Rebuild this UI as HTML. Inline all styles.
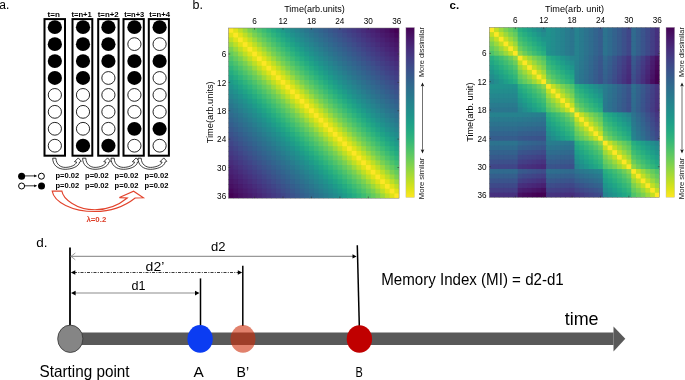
<!DOCTYPE html>
<html><head><meta charset="utf-8"><title>Figure</title>
<style>html,body{margin:0;padding:0;background:#fff;overflow:hidden;} svg{display:block;font-family:"Liberation Sans",sans-serif;will-change:transform;}</style>
</head><body>
<svg width="685" height="380" viewBox="0 0 685 380" font-family="Liberation Sans, sans-serif">
<text x="-0.8" y="9.2" font-size="12" fill="#000" >a.</text>
<rect x="44.50" y="19.1" width="20.50" height="136.6" fill="#fff" stroke="#000" stroke-width="2"/>
<ellipse cx="54.85" cy="27.20" rx="7.1" ry="6.9" fill="#000"/>
<ellipse cx="54.85" cy="44.13" rx="7.1" ry="6.9" fill="#000"/>
<ellipse cx="54.85" cy="61.06" rx="7.1" ry="6.9" fill="#000"/>
<ellipse cx="54.85" cy="77.99" rx="7.1" ry="6.9" fill="#000"/>
<ellipse cx="54.85" cy="94.92" rx="6.6" ry="6.4" fill="#fff" stroke="#000" stroke-width="0.85"/>
<ellipse cx="54.85" cy="111.85" rx="6.6" ry="6.4" fill="#fff" stroke="#000" stroke-width="0.85"/>
<ellipse cx="54.85" cy="128.78" rx="6.6" ry="6.4" fill="#fff" stroke="#000" stroke-width="0.85"/>
<ellipse cx="54.85" cy="145.71" rx="6.6" ry="6.4" fill="#fff" stroke="#000" stroke-width="0.85"/>
<text x="47.5" y="17.0" font-size="7" font-weight="bold" textLength="12.3" lengthAdjust="spacingAndGlyphs" fill="#000" >t=n</text>
<rect x="72.50" y="19.1" width="19.80" height="136.6" fill="#fff" stroke="#000" stroke-width="2"/>
<ellipse cx="83.00" cy="27.20" rx="7.1" ry="6.9" fill="#000"/>
<ellipse cx="83.00" cy="44.13" rx="7.1" ry="6.9" fill="#000"/>
<ellipse cx="83.00" cy="61.06" rx="7.1" ry="6.9" fill="#000"/>
<ellipse cx="83.00" cy="77.99" rx="7.1" ry="6.9" fill="#000"/>
<ellipse cx="83.00" cy="94.92" rx="6.6" ry="6.4" fill="#fff" stroke="#000" stroke-width="0.85"/>
<ellipse cx="83.00" cy="111.85" rx="6.6" ry="6.4" fill="#fff" stroke="#000" stroke-width="0.85"/>
<ellipse cx="83.00" cy="128.78" rx="6.6" ry="6.4" fill="#fff" stroke="#000" stroke-width="0.85"/>
<ellipse cx="83.00" cy="145.71" rx="7.1" ry="6.9" fill="#000"/>
<text x="71.4" y="17.0" font-size="7" font-weight="bold" textLength="20.5" lengthAdjust="spacingAndGlyphs" fill="#000" >t=n+1</text>
<rect x="98.20" y="19.1" width="20.40" height="136.6" fill="#fff" stroke="#000" stroke-width="2"/>
<ellipse cx="108.40" cy="27.20" rx="7.1" ry="6.9" fill="#000"/>
<ellipse cx="108.40" cy="44.13" rx="7.1" ry="6.9" fill="#000"/>
<ellipse cx="108.40" cy="61.06" rx="7.1" ry="6.9" fill="#000"/>
<ellipse cx="108.40" cy="77.99" rx="6.6" ry="6.4" fill="#fff" stroke="#000" stroke-width="0.85"/>
<ellipse cx="108.40" cy="94.92" rx="6.6" ry="6.4" fill="#fff" stroke="#000" stroke-width="0.85"/>
<ellipse cx="108.40" cy="111.85" rx="6.6" ry="6.4" fill="#fff" stroke="#000" stroke-width="0.85"/>
<ellipse cx="108.40" cy="128.78" rx="6.6" ry="6.4" fill="#fff" stroke="#000" stroke-width="0.85"/>
<ellipse cx="108.40" cy="145.71" rx="7.1" ry="6.9" fill="#000"/>
<text x="97.7" y="17.0" font-size="7" font-weight="bold" textLength="21.0" lengthAdjust="spacingAndGlyphs" fill="#000" >t=n+2</text>
<rect x="123.50" y="19.1" width="20.30" height="136.6" fill="#fff" stroke="#000" stroke-width="2"/>
<ellipse cx="134.40" cy="27.20" rx="7.1" ry="6.9" fill="#000"/>
<ellipse cx="134.40" cy="44.13" rx="6.6" ry="6.4" fill="#fff" stroke="#000" stroke-width="0.85"/>
<ellipse cx="134.40" cy="61.06" rx="7.1" ry="6.9" fill="#000"/>
<ellipse cx="134.40" cy="77.99" rx="7.1" ry="6.9" fill="#000"/>
<ellipse cx="134.40" cy="94.92" rx="6.6" ry="6.4" fill="#fff" stroke="#000" stroke-width="0.85"/>
<ellipse cx="134.40" cy="111.85" rx="6.6" ry="6.4" fill="#fff" stroke="#000" stroke-width="0.85"/>
<ellipse cx="134.40" cy="128.78" rx="7.1" ry="6.9" fill="#000"/>
<ellipse cx="134.40" cy="145.71" rx="6.6" ry="6.4" fill="#fff" stroke="#000" stroke-width="0.85"/>
<text x="124.2" y="17.0" font-size="7" font-weight="bold" textLength="20.1" lengthAdjust="spacingAndGlyphs" fill="#000" >t=n+3</text>
<rect x="148.80" y="19.1" width="20.10" height="136.6" fill="#fff" stroke="#000" stroke-width="2"/>
<ellipse cx="159.60" cy="27.20" rx="7.1" ry="6.9" fill="#000"/>
<ellipse cx="159.60" cy="44.13" rx="6.6" ry="6.4" fill="#fff" stroke="#000" stroke-width="0.85"/>
<ellipse cx="159.60" cy="61.06" rx="7.1" ry="6.9" fill="#000"/>
<ellipse cx="159.60" cy="77.99" rx="6.6" ry="6.4" fill="#fff" stroke="#000" stroke-width="0.85"/>
<ellipse cx="159.60" cy="94.92" rx="6.6" ry="6.4" fill="#fff" stroke="#000" stroke-width="0.85"/>
<ellipse cx="159.60" cy="111.85" rx="6.6" ry="6.4" fill="#fff" stroke="#000" stroke-width="0.85"/>
<ellipse cx="159.60" cy="128.78" rx="7.1" ry="6.9" fill="#000"/>
<ellipse cx="159.60" cy="145.71" rx="6.6" ry="6.4" fill="#fff" stroke="#000" stroke-width="0.85"/>
<text x="149.3" y="17.0" font-size="7" font-weight="bold" textLength="20.7" lengthAdjust="spacingAndGlyphs" fill="#000" >t=n+4</text>
<path d="M52.70,158.2 L55.90,158.2 C56.10,164.5 60.70,167.4 65.20,167.4 C69.70,167.4 75.80,165.5 76.60,162.0 L74.50,161.7 L78.30,157.9 L81.30,161.3 L79.60,162.0 C78.90,167 70.70,169.3 65.20,169.3 C57.70,169.3 52.70,165 52.70,158.2 Z" fill="#fff" stroke="#000" stroke-width="0.75" stroke-linejoin="miter"/>
<path d="M82.60,158.2 L85.80,158.2 C86.00,164.5 90.60,167.4 95.10,167.4 C99.60,167.4 105.10,165.5 105.90,162.0 L103.80,161.7 L107.60,157.9 L110.60,161.3 L108.90,162.0 C108.20,167 100.60,169.3 95.10,169.3 C87.60,169.3 82.60,165 82.60,158.2 Z" fill="#fff" stroke="#000" stroke-width="0.75" stroke-linejoin="miter"/>
<path d="M111.00,158.2 L114.20,158.2 C114.40,164.5 119.00,167.4 123.50,167.4 C128.00,167.4 133.70,165.5 134.50,162.0 L132.40,161.7 L136.20,157.9 L139.20,161.3 L137.50,162.0 C136.80,167 129.00,169.3 123.50,169.3 C116.00,169.3 111.00,165 111.00,158.2 Z" fill="#fff" stroke="#000" stroke-width="0.75" stroke-linejoin="miter"/>
<path d="M138.00,158.2 L141.20,158.2 C141.40,164.5 146.00,167.4 150.50,167.4 C155.00,167.4 161.30,165.5 162.10,162.0 L160.00,161.7 L163.80,157.9 L166.80,161.3 L165.10,162.0 C164.40,167 156.00,169.3 150.50,169.3 C143.00,169.3 138.00,165 138.00,158.2 Z" fill="#fff" stroke="#000" stroke-width="0.75" stroke-linejoin="miter"/>
<text x="55.4" y="177.8" font-size="6.8" font-weight="bold" textLength="23.8" lengthAdjust="spacingAndGlyphs" fill="#000" >p=0.02</text>
<text x="55.4" y="188.3" font-size="6.8" font-weight="bold" textLength="23.8" lengthAdjust="spacingAndGlyphs" fill="#000" >p=0.02</text>
<text x="85.0" y="177.8" font-size="6.8" font-weight="bold" textLength="23.8" lengthAdjust="spacingAndGlyphs" fill="#000" >p=0.02</text>
<text x="85.0" y="188.3" font-size="6.8" font-weight="bold" textLength="23.8" lengthAdjust="spacingAndGlyphs" fill="#000" >p=0.02</text>
<text x="114.6" y="177.8" font-size="6.8" font-weight="bold" textLength="23.8" lengthAdjust="spacingAndGlyphs" fill="#000" >p=0.02</text>
<text x="114.6" y="188.3" font-size="6.8" font-weight="bold" textLength="23.8" lengthAdjust="spacingAndGlyphs" fill="#000" >p=0.02</text>
<text x="144.6" y="177.8" font-size="6.8" font-weight="bold" textLength="23.8" lengthAdjust="spacingAndGlyphs" fill="#000" >p=0.02</text>
<text x="144.6" y="188.3" font-size="6.8" font-weight="bold" textLength="23.8" lengthAdjust="spacingAndGlyphs" fill="#000" >p=0.02</text>
<circle cx="21.6" cy="176.2" r="3.5" fill="#000"/>
<line x1="25" y1="175.9" x2="35" y2="175.9" stroke="#333" stroke-width="1"/>
<path d="M34.2,174.5 L37.2,175.9 L34.2,177.3 Z" fill="#000"/>
<circle cx="41.4" cy="176.2" r="3.0" fill="#fff" stroke="#000" stroke-width="1"/>
<circle cx="21.6" cy="186" r="3.0" fill="#fff" stroke="#000" stroke-width="1"/>
<line x1="25" y1="185.8" x2="35" y2="185.8" stroke="#333" stroke-width="1"/>
<path d="M34.2,184.4 L37.2,185.8 L34.2,187.2 Z" fill="#000"/>
<circle cx="41.5" cy="186" r="3.5" fill="#000"/>
<path d="M52.2,191.1 L61.9,191.1 C63,198.5 76,209.8 95,209.8 C108,209.8 120,204 127.3,198 L119.4,197.6 L133.6,191.2 L143.4,197.8 L135.2,198 C125,206 110,211.5 95,211.5 C72,211.5 54,202 52.2,191.1 Z" fill="#fff" stroke="#e2432c" stroke-width="1.1"/>
<text x="86.4" y="221.9" font-size="8" font-weight="bold" textLength="19.9" lengthAdjust="spacingAndGlyphs" fill="#dc3c26" >λ=0.2</text>
<text x="192.6" y="9.3" font-size="12.5" fill="#000" >b.</text>
<rect x="228.50" y="28.00" width="5.54" height="5.53" fill="#fde725"/>
<rect x="233.24" y="28.00" width="5.54" height="5.53" fill="#dfe318"/>
<rect x="237.98" y="28.00" width="5.54" height="5.53" fill="#bddf26"/>
<rect x="242.72" y="28.00" width="5.54" height="5.53" fill="#9bd93c"/>
<rect x="247.46" y="28.00" width="5.54" height="5.53" fill="#7ad151"/>
<rect x="252.19" y="28.00" width="5.54" height="5.53" fill="#63cb5f"/>
<rect x="256.93" y="28.00" width="5.54" height="5.53" fill="#4ec36b"/>
<rect x="261.67" y="28.00" width="5.54" height="5.53" fill="#3dbc74"/>
<rect x="266.41" y="28.00" width="5.54" height="5.53" fill="#2fb47c"/>
<rect x="271.15" y="28.00" width="5.54" height="5.53" fill="#25ac82"/>
<rect x="275.89" y="28.00" width="5.54" height="5.53" fill="#20a386"/>
<rect x="280.63" y="28.00" width="5.54" height="5.53" fill="#1e9b8a"/>
<rect x="285.37" y="28.00" width="5.54" height="5.53" fill="#20928c"/>
<rect x="290.11" y="28.00" width="5.54" height="5.53" fill="#228b8d"/>
<rect x="294.84" y="28.00" width="5.54" height="5.53" fill="#25848e"/>
<rect x="299.58" y="28.00" width="5.54" height="5.53" fill="#287d8e"/>
<rect x="304.32" y="28.00" width="5.54" height="5.53" fill="#2a768e"/>
<rect x="309.06" y="28.00" width="5.54" height="5.53" fill="#2d708e"/>
<rect x="313.80" y="28.00" width="5.54" height="5.53" fill="#306a8e"/>
<rect x="318.54" y="28.00" width="5.54" height="5.53" fill="#32648e"/>
<rect x="323.28" y="28.00" width="5.54" height="5.53" fill="#355e8d"/>
<rect x="328.02" y="28.00" width="5.54" height="5.53" fill="#38588c"/>
<rect x="332.76" y="28.00" width="5.54" height="5.53" fill="#3b528b"/>
<rect x="337.49" y="28.00" width="5.54" height="5.53" fill="#3e4c8a"/>
<rect x="342.23" y="28.00" width="5.54" height="5.53" fill="#404588"/>
<rect x="346.97" y="28.00" width="5.54" height="5.53" fill="#423f85"/>
<rect x="351.71" y="28.00" width="5.54" height="5.53" fill="#443983"/>
<rect x="356.45" y="28.00" width="5.54" height="5.53" fill="#46337f"/>
<rect x="361.19" y="28.00" width="5.54" height="5.53" fill="#472d7b"/>
<rect x="365.93" y="28.00" width="5.54" height="5.53" fill="#482677"/>
<rect x="370.67" y="28.00" width="5.54" height="5.53" fill="#482173"/>
<rect x="375.41" y="28.00" width="5.54" height="5.53" fill="#481b6d"/>
<rect x="380.14" y="28.00" width="5.54" height="5.53" fill="#481668"/>
<rect x="384.88" y="28.00" width="5.54" height="5.53" fill="#471063"/>
<rect x="389.62" y="28.00" width="5.54" height="5.53" fill="#46085c"/>
<rect x="394.36" y="28.00" width="4.74" height="5.53" fill="#440154"/>
<rect x="228.50" y="32.73" width="5.54" height="5.53" fill="#dfe318"/>
<rect x="233.24" y="32.73" width="5.54" height="5.53" fill="#fde725"/>
<rect x="237.98" y="32.73" width="5.54" height="5.53" fill="#dfe318"/>
<rect x="242.72" y="32.73" width="5.54" height="5.53" fill="#bddf26"/>
<rect x="247.46" y="32.73" width="5.54" height="5.53" fill="#9bd93c"/>
<rect x="252.19" y="32.73" width="5.54" height="5.53" fill="#7ad151"/>
<rect x="256.93" y="32.73" width="5.54" height="5.53" fill="#63cb5f"/>
<rect x="261.67" y="32.73" width="5.54" height="5.53" fill="#4ec36b"/>
<rect x="266.41" y="32.73" width="5.54" height="5.53" fill="#3dbc74"/>
<rect x="271.15" y="32.73" width="5.54" height="5.53" fill="#2fb47c"/>
<rect x="275.89" y="32.73" width="5.54" height="5.53" fill="#25ac82"/>
<rect x="280.63" y="32.73" width="5.54" height="5.53" fill="#20a386"/>
<rect x="285.37" y="32.73" width="5.54" height="5.53" fill="#1e9b8a"/>
<rect x="290.11" y="32.73" width="5.54" height="5.53" fill="#20928c"/>
<rect x="294.84" y="32.73" width="5.54" height="5.53" fill="#228b8d"/>
<rect x="299.58" y="32.73" width="5.54" height="5.53" fill="#25848e"/>
<rect x="304.32" y="32.73" width="5.54" height="5.53" fill="#287d8e"/>
<rect x="309.06" y="32.73" width="5.54" height="5.53" fill="#2a768e"/>
<rect x="313.80" y="32.73" width="5.54" height="5.53" fill="#2d708e"/>
<rect x="318.54" y="32.73" width="5.54" height="5.53" fill="#306a8e"/>
<rect x="323.28" y="32.73" width="5.54" height="5.53" fill="#32648e"/>
<rect x="328.02" y="32.73" width="5.54" height="5.53" fill="#355e8d"/>
<rect x="332.76" y="32.73" width="5.54" height="5.53" fill="#38588c"/>
<rect x="337.49" y="32.73" width="5.54" height="5.53" fill="#3b528b"/>
<rect x="342.23" y="32.73" width="5.54" height="5.53" fill="#3e4c8a"/>
<rect x="346.97" y="32.73" width="5.54" height="5.53" fill="#404588"/>
<rect x="351.71" y="32.73" width="5.54" height="5.53" fill="#423f85"/>
<rect x="356.45" y="32.73" width="5.54" height="5.53" fill="#443983"/>
<rect x="361.19" y="32.73" width="5.54" height="5.53" fill="#46337f"/>
<rect x="365.93" y="32.73" width="5.54" height="5.53" fill="#472d7b"/>
<rect x="370.67" y="32.73" width="5.54" height="5.53" fill="#482677"/>
<rect x="375.41" y="32.73" width="5.54" height="5.53" fill="#482173"/>
<rect x="380.14" y="32.73" width="5.54" height="5.53" fill="#481b6d"/>
<rect x="384.88" y="32.73" width="5.54" height="5.53" fill="#481668"/>
<rect x="389.62" y="32.73" width="5.54" height="5.53" fill="#471063"/>
<rect x="394.36" y="32.73" width="4.74" height="5.53" fill="#46085c"/>
<rect x="228.50" y="37.46" width="5.54" height="5.53" fill="#bddf26"/>
<rect x="233.24" y="37.46" width="5.54" height="5.53" fill="#dfe318"/>
<rect x="237.98" y="37.46" width="5.54" height="5.53" fill="#fde725"/>
<rect x="242.72" y="37.46" width="5.54" height="5.53" fill="#dfe318"/>
<rect x="247.46" y="37.46" width="5.54" height="5.53" fill="#bddf26"/>
<rect x="252.19" y="37.46" width="5.54" height="5.53" fill="#9bd93c"/>
<rect x="256.93" y="37.46" width="5.54" height="5.53" fill="#7ad151"/>
<rect x="261.67" y="37.46" width="5.54" height="5.53" fill="#63cb5f"/>
<rect x="266.41" y="37.46" width="5.54" height="5.53" fill="#4ec36b"/>
<rect x="271.15" y="37.46" width="5.54" height="5.53" fill="#3dbc74"/>
<rect x="275.89" y="37.46" width="5.54" height="5.53" fill="#2fb47c"/>
<rect x="280.63" y="37.46" width="5.54" height="5.53" fill="#25ac82"/>
<rect x="285.37" y="37.46" width="5.54" height="5.53" fill="#20a386"/>
<rect x="290.11" y="37.46" width="5.54" height="5.53" fill="#1e9b8a"/>
<rect x="294.84" y="37.46" width="5.54" height="5.53" fill="#20928c"/>
<rect x="299.58" y="37.46" width="5.54" height="5.53" fill="#228b8d"/>
<rect x="304.32" y="37.46" width="5.54" height="5.53" fill="#25848e"/>
<rect x="309.06" y="37.46" width="5.54" height="5.53" fill="#287d8e"/>
<rect x="313.80" y="37.46" width="5.54" height="5.53" fill="#2a768e"/>
<rect x="318.54" y="37.46" width="5.54" height="5.53" fill="#2d708e"/>
<rect x="323.28" y="37.46" width="5.54" height="5.53" fill="#306a8e"/>
<rect x="328.02" y="37.46" width="5.54" height="5.53" fill="#32648e"/>
<rect x="332.76" y="37.46" width="5.54" height="5.53" fill="#355e8d"/>
<rect x="337.49" y="37.46" width="5.54" height="5.53" fill="#38588c"/>
<rect x="342.23" y="37.46" width="5.54" height="5.53" fill="#3b528b"/>
<rect x="346.97" y="37.46" width="5.54" height="5.53" fill="#3e4c8a"/>
<rect x="351.71" y="37.46" width="5.54" height="5.53" fill="#404588"/>
<rect x="356.45" y="37.46" width="5.54" height="5.53" fill="#423f85"/>
<rect x="361.19" y="37.46" width="5.54" height="5.53" fill="#443983"/>
<rect x="365.93" y="37.46" width="5.54" height="5.53" fill="#46337f"/>
<rect x="370.67" y="37.46" width="5.54" height="5.53" fill="#472d7b"/>
<rect x="375.41" y="37.46" width="5.54" height="5.53" fill="#482677"/>
<rect x="380.14" y="37.46" width="5.54" height="5.53" fill="#482173"/>
<rect x="384.88" y="37.46" width="5.54" height="5.53" fill="#481b6d"/>
<rect x="389.62" y="37.46" width="5.54" height="5.53" fill="#481668"/>
<rect x="394.36" y="37.46" width="4.74" height="5.53" fill="#471063"/>
<rect x="228.50" y="42.18" width="5.54" height="5.53" fill="#9bd93c"/>
<rect x="233.24" y="42.18" width="5.54" height="5.53" fill="#bddf26"/>
<rect x="237.98" y="42.18" width="5.54" height="5.53" fill="#dfe318"/>
<rect x="242.72" y="42.18" width="5.54" height="5.53" fill="#fde725"/>
<rect x="247.46" y="42.18" width="5.54" height="5.53" fill="#dfe318"/>
<rect x="252.19" y="42.18" width="5.54" height="5.53" fill="#bddf26"/>
<rect x="256.93" y="42.18" width="5.54" height="5.53" fill="#9bd93c"/>
<rect x="261.67" y="42.18" width="5.54" height="5.53" fill="#7ad151"/>
<rect x="266.41" y="42.18" width="5.54" height="5.53" fill="#63cb5f"/>
<rect x="271.15" y="42.18" width="5.54" height="5.53" fill="#4ec36b"/>
<rect x="275.89" y="42.18" width="5.54" height="5.53" fill="#3dbc74"/>
<rect x="280.63" y="42.18" width="5.54" height="5.53" fill="#2fb47c"/>
<rect x="285.37" y="42.18" width="5.54" height="5.53" fill="#25ac82"/>
<rect x="290.11" y="42.18" width="5.54" height="5.53" fill="#20a386"/>
<rect x="294.84" y="42.18" width="5.54" height="5.53" fill="#1e9b8a"/>
<rect x="299.58" y="42.18" width="5.54" height="5.53" fill="#20928c"/>
<rect x="304.32" y="42.18" width="5.54" height="5.53" fill="#228b8d"/>
<rect x="309.06" y="42.18" width="5.54" height="5.53" fill="#25848e"/>
<rect x="313.80" y="42.18" width="5.54" height="5.53" fill="#287d8e"/>
<rect x="318.54" y="42.18" width="5.54" height="5.53" fill="#2a768e"/>
<rect x="323.28" y="42.18" width="5.54" height="5.53" fill="#2d708e"/>
<rect x="328.02" y="42.18" width="5.54" height="5.53" fill="#306a8e"/>
<rect x="332.76" y="42.18" width="5.54" height="5.53" fill="#32648e"/>
<rect x="337.49" y="42.18" width="5.54" height="5.53" fill="#355e8d"/>
<rect x="342.23" y="42.18" width="5.54" height="5.53" fill="#38588c"/>
<rect x="346.97" y="42.18" width="5.54" height="5.53" fill="#3b528b"/>
<rect x="351.71" y="42.18" width="5.54" height="5.53" fill="#3e4c8a"/>
<rect x="356.45" y="42.18" width="5.54" height="5.53" fill="#404588"/>
<rect x="361.19" y="42.18" width="5.54" height="5.53" fill="#423f85"/>
<rect x="365.93" y="42.18" width="5.54" height="5.53" fill="#443983"/>
<rect x="370.67" y="42.18" width="5.54" height="5.53" fill="#46337f"/>
<rect x="375.41" y="42.18" width="5.54" height="5.53" fill="#472d7b"/>
<rect x="380.14" y="42.18" width="5.54" height="5.53" fill="#482677"/>
<rect x="384.88" y="42.18" width="5.54" height="5.53" fill="#482173"/>
<rect x="389.62" y="42.18" width="5.54" height="5.53" fill="#481b6d"/>
<rect x="394.36" y="42.18" width="4.74" height="5.53" fill="#481668"/>
<rect x="228.50" y="46.91" width="5.54" height="5.53" fill="#7ad151"/>
<rect x="233.24" y="46.91" width="5.54" height="5.53" fill="#9bd93c"/>
<rect x="237.98" y="46.91" width="5.54" height="5.53" fill="#bddf26"/>
<rect x="242.72" y="46.91" width="5.54" height="5.53" fill="#dfe318"/>
<rect x="247.46" y="46.91" width="5.54" height="5.53" fill="#fde725"/>
<rect x="252.19" y="46.91" width="5.54" height="5.53" fill="#dfe318"/>
<rect x="256.93" y="46.91" width="5.54" height="5.53" fill="#bddf26"/>
<rect x="261.67" y="46.91" width="5.54" height="5.53" fill="#9bd93c"/>
<rect x="266.41" y="46.91" width="5.54" height="5.53" fill="#7ad151"/>
<rect x="271.15" y="46.91" width="5.54" height="5.53" fill="#63cb5f"/>
<rect x="275.89" y="46.91" width="5.54" height="5.53" fill="#4ec36b"/>
<rect x="280.63" y="46.91" width="5.54" height="5.53" fill="#3dbc74"/>
<rect x="285.37" y="46.91" width="5.54" height="5.53" fill="#2fb47c"/>
<rect x="290.11" y="46.91" width="5.54" height="5.53" fill="#25ac82"/>
<rect x="294.84" y="46.91" width="5.54" height="5.53" fill="#20a386"/>
<rect x="299.58" y="46.91" width="5.54" height="5.53" fill="#1e9b8a"/>
<rect x="304.32" y="46.91" width="5.54" height="5.53" fill="#20928c"/>
<rect x="309.06" y="46.91" width="5.54" height="5.53" fill="#228b8d"/>
<rect x="313.80" y="46.91" width="5.54" height="5.53" fill="#25848e"/>
<rect x="318.54" y="46.91" width="5.54" height="5.53" fill="#287d8e"/>
<rect x="323.28" y="46.91" width="5.54" height="5.53" fill="#2a768e"/>
<rect x="328.02" y="46.91" width="5.54" height="5.53" fill="#2d708e"/>
<rect x="332.76" y="46.91" width="5.54" height="5.53" fill="#306a8e"/>
<rect x="337.49" y="46.91" width="5.54" height="5.53" fill="#32648e"/>
<rect x="342.23" y="46.91" width="5.54" height="5.53" fill="#355e8d"/>
<rect x="346.97" y="46.91" width="5.54" height="5.53" fill="#38588c"/>
<rect x="351.71" y="46.91" width="5.54" height="5.53" fill="#3b528b"/>
<rect x="356.45" y="46.91" width="5.54" height="5.53" fill="#3e4c8a"/>
<rect x="361.19" y="46.91" width="5.54" height="5.53" fill="#404588"/>
<rect x="365.93" y="46.91" width="5.54" height="5.53" fill="#423f85"/>
<rect x="370.67" y="46.91" width="5.54" height="5.53" fill="#443983"/>
<rect x="375.41" y="46.91" width="5.54" height="5.53" fill="#46337f"/>
<rect x="380.14" y="46.91" width="5.54" height="5.53" fill="#472d7b"/>
<rect x="384.88" y="46.91" width="5.54" height="5.53" fill="#482677"/>
<rect x="389.62" y="46.91" width="5.54" height="5.53" fill="#482173"/>
<rect x="394.36" y="46.91" width="4.74" height="5.53" fill="#481b6d"/>
<rect x="228.50" y="51.64" width="5.54" height="5.53" fill="#63cb5f"/>
<rect x="233.24" y="51.64" width="5.54" height="5.53" fill="#7ad151"/>
<rect x="237.98" y="51.64" width="5.54" height="5.53" fill="#9bd93c"/>
<rect x="242.72" y="51.64" width="5.54" height="5.53" fill="#bddf26"/>
<rect x="247.46" y="51.64" width="5.54" height="5.53" fill="#dfe318"/>
<rect x="252.19" y="51.64" width="5.54" height="5.53" fill="#fde725"/>
<rect x="256.93" y="51.64" width="5.54" height="5.53" fill="#dfe318"/>
<rect x="261.67" y="51.64" width="5.54" height="5.53" fill="#bddf26"/>
<rect x="266.41" y="51.64" width="5.54" height="5.53" fill="#9bd93c"/>
<rect x="271.15" y="51.64" width="5.54" height="5.53" fill="#7ad151"/>
<rect x="275.89" y="51.64" width="5.54" height="5.53" fill="#63cb5f"/>
<rect x="280.63" y="51.64" width="5.54" height="5.53" fill="#4ec36b"/>
<rect x="285.37" y="51.64" width="5.54" height="5.53" fill="#3dbc74"/>
<rect x="290.11" y="51.64" width="5.54" height="5.53" fill="#2fb47c"/>
<rect x="294.84" y="51.64" width="5.54" height="5.53" fill="#25ac82"/>
<rect x="299.58" y="51.64" width="5.54" height="5.53" fill="#20a386"/>
<rect x="304.32" y="51.64" width="5.54" height="5.53" fill="#1e9b8a"/>
<rect x="309.06" y="51.64" width="5.54" height="5.53" fill="#20928c"/>
<rect x="313.80" y="51.64" width="5.54" height="5.53" fill="#228b8d"/>
<rect x="318.54" y="51.64" width="5.54" height="5.53" fill="#25848e"/>
<rect x="323.28" y="51.64" width="5.54" height="5.53" fill="#287d8e"/>
<rect x="328.02" y="51.64" width="5.54" height="5.53" fill="#2a768e"/>
<rect x="332.76" y="51.64" width="5.54" height="5.53" fill="#2d708e"/>
<rect x="337.49" y="51.64" width="5.54" height="5.53" fill="#306a8e"/>
<rect x="342.23" y="51.64" width="5.54" height="5.53" fill="#32648e"/>
<rect x="346.97" y="51.64" width="5.54" height="5.53" fill="#355e8d"/>
<rect x="351.71" y="51.64" width="5.54" height="5.53" fill="#38588c"/>
<rect x="356.45" y="51.64" width="5.54" height="5.53" fill="#3b528b"/>
<rect x="361.19" y="51.64" width="5.54" height="5.53" fill="#3e4c8a"/>
<rect x="365.93" y="51.64" width="5.54" height="5.53" fill="#404588"/>
<rect x="370.67" y="51.64" width="5.54" height="5.53" fill="#423f85"/>
<rect x="375.41" y="51.64" width="5.54" height="5.53" fill="#443983"/>
<rect x="380.14" y="51.64" width="5.54" height="5.53" fill="#46337f"/>
<rect x="384.88" y="51.64" width="5.54" height="5.53" fill="#472d7b"/>
<rect x="389.62" y="51.64" width="5.54" height="5.53" fill="#482677"/>
<rect x="394.36" y="51.64" width="4.74" height="5.53" fill="#482173"/>
<rect x="228.50" y="56.37" width="5.54" height="5.53" fill="#4ec36b"/>
<rect x="233.24" y="56.37" width="5.54" height="5.53" fill="#63cb5f"/>
<rect x="237.98" y="56.37" width="5.54" height="5.53" fill="#7ad151"/>
<rect x="242.72" y="56.37" width="5.54" height="5.53" fill="#9bd93c"/>
<rect x="247.46" y="56.37" width="5.54" height="5.53" fill="#bddf26"/>
<rect x="252.19" y="56.37" width="5.54" height="5.53" fill="#dfe318"/>
<rect x="256.93" y="56.37" width="5.54" height="5.53" fill="#fde725"/>
<rect x="261.67" y="56.37" width="5.54" height="5.53" fill="#dfe318"/>
<rect x="266.41" y="56.37" width="5.54" height="5.53" fill="#bddf26"/>
<rect x="271.15" y="56.37" width="5.54" height="5.53" fill="#9bd93c"/>
<rect x="275.89" y="56.37" width="5.54" height="5.53" fill="#7ad151"/>
<rect x="280.63" y="56.37" width="5.54" height="5.53" fill="#63cb5f"/>
<rect x="285.37" y="56.37" width="5.54" height="5.53" fill="#4ec36b"/>
<rect x="290.11" y="56.37" width="5.54" height="5.53" fill="#3dbc74"/>
<rect x="294.84" y="56.37" width="5.54" height="5.53" fill="#2fb47c"/>
<rect x="299.58" y="56.37" width="5.54" height="5.53" fill="#25ac82"/>
<rect x="304.32" y="56.37" width="5.54" height="5.53" fill="#20a386"/>
<rect x="309.06" y="56.37" width="5.54" height="5.53" fill="#1e9b8a"/>
<rect x="313.80" y="56.37" width="5.54" height="5.53" fill="#20928c"/>
<rect x="318.54" y="56.37" width="5.54" height="5.53" fill="#228b8d"/>
<rect x="323.28" y="56.37" width="5.54" height="5.53" fill="#25848e"/>
<rect x="328.02" y="56.37" width="5.54" height="5.53" fill="#287d8e"/>
<rect x="332.76" y="56.37" width="5.54" height="5.53" fill="#2a768e"/>
<rect x="337.49" y="56.37" width="5.54" height="5.53" fill="#2d708e"/>
<rect x="342.23" y="56.37" width="5.54" height="5.53" fill="#306a8e"/>
<rect x="346.97" y="56.37" width="5.54" height="5.53" fill="#32648e"/>
<rect x="351.71" y="56.37" width="5.54" height="5.53" fill="#355e8d"/>
<rect x="356.45" y="56.37" width="5.54" height="5.53" fill="#38588c"/>
<rect x="361.19" y="56.37" width="5.54" height="5.53" fill="#3b528b"/>
<rect x="365.93" y="56.37" width="5.54" height="5.53" fill="#3e4c8a"/>
<rect x="370.67" y="56.37" width="5.54" height="5.53" fill="#404588"/>
<rect x="375.41" y="56.37" width="5.54" height="5.53" fill="#423f85"/>
<rect x="380.14" y="56.37" width="5.54" height="5.53" fill="#443983"/>
<rect x="384.88" y="56.37" width="5.54" height="5.53" fill="#46337f"/>
<rect x="389.62" y="56.37" width="5.54" height="5.53" fill="#472d7b"/>
<rect x="394.36" y="56.37" width="4.74" height="5.53" fill="#482677"/>
<rect x="228.50" y="61.09" width="5.54" height="5.53" fill="#3dbc74"/>
<rect x="233.24" y="61.09" width="5.54" height="5.53" fill="#4ec36b"/>
<rect x="237.98" y="61.09" width="5.54" height="5.53" fill="#63cb5f"/>
<rect x="242.72" y="61.09" width="5.54" height="5.53" fill="#7ad151"/>
<rect x="247.46" y="61.09" width="5.54" height="5.53" fill="#9bd93c"/>
<rect x="252.19" y="61.09" width="5.54" height="5.53" fill="#bddf26"/>
<rect x="256.93" y="61.09" width="5.54" height="5.53" fill="#dfe318"/>
<rect x="261.67" y="61.09" width="5.54" height="5.53" fill="#fde725"/>
<rect x="266.41" y="61.09" width="5.54" height="5.53" fill="#dfe318"/>
<rect x="271.15" y="61.09" width="5.54" height="5.53" fill="#bddf26"/>
<rect x="275.89" y="61.09" width="5.54" height="5.53" fill="#9bd93c"/>
<rect x="280.63" y="61.09" width="5.54" height="5.53" fill="#7ad151"/>
<rect x="285.37" y="61.09" width="5.54" height="5.53" fill="#63cb5f"/>
<rect x="290.11" y="61.09" width="5.54" height="5.53" fill="#4ec36b"/>
<rect x="294.84" y="61.09" width="5.54" height="5.53" fill="#3dbc74"/>
<rect x="299.58" y="61.09" width="5.54" height="5.53" fill="#2fb47c"/>
<rect x="304.32" y="61.09" width="5.54" height="5.53" fill="#25ac82"/>
<rect x="309.06" y="61.09" width="5.54" height="5.53" fill="#20a386"/>
<rect x="313.80" y="61.09" width="5.54" height="5.53" fill="#1e9b8a"/>
<rect x="318.54" y="61.09" width="5.54" height="5.53" fill="#20928c"/>
<rect x="323.28" y="61.09" width="5.54" height="5.53" fill="#228b8d"/>
<rect x="328.02" y="61.09" width="5.54" height="5.53" fill="#25848e"/>
<rect x="332.76" y="61.09" width="5.54" height="5.53" fill="#287d8e"/>
<rect x="337.49" y="61.09" width="5.54" height="5.53" fill="#2a768e"/>
<rect x="342.23" y="61.09" width="5.54" height="5.53" fill="#2d708e"/>
<rect x="346.97" y="61.09" width="5.54" height="5.53" fill="#306a8e"/>
<rect x="351.71" y="61.09" width="5.54" height="5.53" fill="#32648e"/>
<rect x="356.45" y="61.09" width="5.54" height="5.53" fill="#355e8d"/>
<rect x="361.19" y="61.09" width="5.54" height="5.53" fill="#38588c"/>
<rect x="365.93" y="61.09" width="5.54" height="5.53" fill="#3b528b"/>
<rect x="370.67" y="61.09" width="5.54" height="5.53" fill="#3e4c8a"/>
<rect x="375.41" y="61.09" width="5.54" height="5.53" fill="#404588"/>
<rect x="380.14" y="61.09" width="5.54" height="5.53" fill="#423f85"/>
<rect x="384.88" y="61.09" width="5.54" height="5.53" fill="#443983"/>
<rect x="389.62" y="61.09" width="5.54" height="5.53" fill="#46337f"/>
<rect x="394.36" y="61.09" width="4.74" height="5.53" fill="#472d7b"/>
<rect x="228.50" y="65.82" width="5.54" height="5.53" fill="#2fb47c"/>
<rect x="233.24" y="65.82" width="5.54" height="5.53" fill="#3dbc74"/>
<rect x="237.98" y="65.82" width="5.54" height="5.53" fill="#4ec36b"/>
<rect x="242.72" y="65.82" width="5.54" height="5.53" fill="#63cb5f"/>
<rect x="247.46" y="65.82" width="5.54" height="5.53" fill="#7ad151"/>
<rect x="252.19" y="65.82" width="5.54" height="5.53" fill="#9bd93c"/>
<rect x="256.93" y="65.82" width="5.54" height="5.53" fill="#bddf26"/>
<rect x="261.67" y="65.82" width="5.54" height="5.53" fill="#dfe318"/>
<rect x="266.41" y="65.82" width="5.54" height="5.53" fill="#fde725"/>
<rect x="271.15" y="65.82" width="5.54" height="5.53" fill="#dfe318"/>
<rect x="275.89" y="65.82" width="5.54" height="5.53" fill="#bddf26"/>
<rect x="280.63" y="65.82" width="5.54" height="5.53" fill="#9bd93c"/>
<rect x="285.37" y="65.82" width="5.54" height="5.53" fill="#7ad151"/>
<rect x="290.11" y="65.82" width="5.54" height="5.53" fill="#63cb5f"/>
<rect x="294.84" y="65.82" width="5.54" height="5.53" fill="#4ec36b"/>
<rect x="299.58" y="65.82" width="5.54" height="5.53" fill="#3dbc74"/>
<rect x="304.32" y="65.82" width="5.54" height="5.53" fill="#2fb47c"/>
<rect x="309.06" y="65.82" width="5.54" height="5.53" fill="#25ac82"/>
<rect x="313.80" y="65.82" width="5.54" height="5.53" fill="#20a386"/>
<rect x="318.54" y="65.82" width="5.54" height="5.53" fill="#1e9b8a"/>
<rect x="323.28" y="65.82" width="5.54" height="5.53" fill="#20928c"/>
<rect x="328.02" y="65.82" width="5.54" height="5.53" fill="#228b8d"/>
<rect x="332.76" y="65.82" width="5.54" height="5.53" fill="#25848e"/>
<rect x="337.49" y="65.82" width="5.54" height="5.53" fill="#287d8e"/>
<rect x="342.23" y="65.82" width="5.54" height="5.53" fill="#2a768e"/>
<rect x="346.97" y="65.82" width="5.54" height="5.53" fill="#2d708e"/>
<rect x="351.71" y="65.82" width="5.54" height="5.53" fill="#306a8e"/>
<rect x="356.45" y="65.82" width="5.54" height="5.53" fill="#32648e"/>
<rect x="361.19" y="65.82" width="5.54" height="5.53" fill="#355e8d"/>
<rect x="365.93" y="65.82" width="5.54" height="5.53" fill="#38588c"/>
<rect x="370.67" y="65.82" width="5.54" height="5.53" fill="#3b528b"/>
<rect x="375.41" y="65.82" width="5.54" height="5.53" fill="#3e4c8a"/>
<rect x="380.14" y="65.82" width="5.54" height="5.53" fill="#404588"/>
<rect x="384.88" y="65.82" width="5.54" height="5.53" fill="#423f85"/>
<rect x="389.62" y="65.82" width="5.54" height="5.53" fill="#443983"/>
<rect x="394.36" y="65.82" width="4.74" height="5.53" fill="#46337f"/>
<rect x="228.50" y="70.55" width="5.54" height="5.53" fill="#25ac82"/>
<rect x="233.24" y="70.55" width="5.54" height="5.53" fill="#2fb47c"/>
<rect x="237.98" y="70.55" width="5.54" height="5.53" fill="#3dbc74"/>
<rect x="242.72" y="70.55" width="5.54" height="5.53" fill="#4ec36b"/>
<rect x="247.46" y="70.55" width="5.54" height="5.53" fill="#63cb5f"/>
<rect x="252.19" y="70.55" width="5.54" height="5.53" fill="#7ad151"/>
<rect x="256.93" y="70.55" width="5.54" height="5.53" fill="#9bd93c"/>
<rect x="261.67" y="70.55" width="5.54" height="5.53" fill="#bddf26"/>
<rect x="266.41" y="70.55" width="5.54" height="5.53" fill="#dfe318"/>
<rect x="271.15" y="70.55" width="5.54" height="5.53" fill="#fde725"/>
<rect x="275.89" y="70.55" width="5.54" height="5.53" fill="#dfe318"/>
<rect x="280.63" y="70.55" width="5.54" height="5.53" fill="#bddf26"/>
<rect x="285.37" y="70.55" width="5.54" height="5.53" fill="#9bd93c"/>
<rect x="290.11" y="70.55" width="5.54" height="5.53" fill="#7ad151"/>
<rect x="294.84" y="70.55" width="5.54" height="5.53" fill="#63cb5f"/>
<rect x="299.58" y="70.55" width="5.54" height="5.53" fill="#4ec36b"/>
<rect x="304.32" y="70.55" width="5.54" height="5.53" fill="#3dbc74"/>
<rect x="309.06" y="70.55" width="5.54" height="5.53" fill="#2fb47c"/>
<rect x="313.80" y="70.55" width="5.54" height="5.53" fill="#25ac82"/>
<rect x="318.54" y="70.55" width="5.54" height="5.53" fill="#20a386"/>
<rect x="323.28" y="70.55" width="5.54" height="5.53" fill="#1e9b8a"/>
<rect x="328.02" y="70.55" width="5.54" height="5.53" fill="#20928c"/>
<rect x="332.76" y="70.55" width="5.54" height="5.53" fill="#228b8d"/>
<rect x="337.49" y="70.55" width="5.54" height="5.53" fill="#25848e"/>
<rect x="342.23" y="70.55" width="5.54" height="5.53" fill="#287d8e"/>
<rect x="346.97" y="70.55" width="5.54" height="5.53" fill="#2a768e"/>
<rect x="351.71" y="70.55" width="5.54" height="5.53" fill="#2d708e"/>
<rect x="356.45" y="70.55" width="5.54" height="5.53" fill="#306a8e"/>
<rect x="361.19" y="70.55" width="5.54" height="5.53" fill="#32648e"/>
<rect x="365.93" y="70.55" width="5.54" height="5.53" fill="#355e8d"/>
<rect x="370.67" y="70.55" width="5.54" height="5.53" fill="#38588c"/>
<rect x="375.41" y="70.55" width="5.54" height="5.53" fill="#3b528b"/>
<rect x="380.14" y="70.55" width="5.54" height="5.53" fill="#3e4c8a"/>
<rect x="384.88" y="70.55" width="5.54" height="5.53" fill="#404588"/>
<rect x="389.62" y="70.55" width="5.54" height="5.53" fill="#423f85"/>
<rect x="394.36" y="70.55" width="4.74" height="5.53" fill="#443983"/>
<rect x="228.50" y="75.28" width="5.54" height="5.53" fill="#20a386"/>
<rect x="233.24" y="75.28" width="5.54" height="5.53" fill="#25ac82"/>
<rect x="237.98" y="75.28" width="5.54" height="5.53" fill="#2fb47c"/>
<rect x="242.72" y="75.28" width="5.54" height="5.53" fill="#3dbc74"/>
<rect x="247.46" y="75.28" width="5.54" height="5.53" fill="#4ec36b"/>
<rect x="252.19" y="75.28" width="5.54" height="5.53" fill="#63cb5f"/>
<rect x="256.93" y="75.28" width="5.54" height="5.53" fill="#7ad151"/>
<rect x="261.67" y="75.28" width="5.54" height="5.53" fill="#9bd93c"/>
<rect x="266.41" y="75.28" width="5.54" height="5.53" fill="#bddf26"/>
<rect x="271.15" y="75.28" width="5.54" height="5.53" fill="#dfe318"/>
<rect x="275.89" y="75.28" width="5.54" height="5.53" fill="#fde725"/>
<rect x="280.63" y="75.28" width="5.54" height="5.53" fill="#dfe318"/>
<rect x="285.37" y="75.28" width="5.54" height="5.53" fill="#bddf26"/>
<rect x="290.11" y="75.28" width="5.54" height="5.53" fill="#9bd93c"/>
<rect x="294.84" y="75.28" width="5.54" height="5.53" fill="#7ad151"/>
<rect x="299.58" y="75.28" width="5.54" height="5.53" fill="#63cb5f"/>
<rect x="304.32" y="75.28" width="5.54" height="5.53" fill="#4ec36b"/>
<rect x="309.06" y="75.28" width="5.54" height="5.53" fill="#3dbc74"/>
<rect x="313.80" y="75.28" width="5.54" height="5.53" fill="#2fb47c"/>
<rect x="318.54" y="75.28" width="5.54" height="5.53" fill="#25ac82"/>
<rect x="323.28" y="75.28" width="5.54" height="5.53" fill="#20a386"/>
<rect x="328.02" y="75.28" width="5.54" height="5.53" fill="#1e9b8a"/>
<rect x="332.76" y="75.28" width="5.54" height="5.53" fill="#20928c"/>
<rect x="337.49" y="75.28" width="5.54" height="5.53" fill="#228b8d"/>
<rect x="342.23" y="75.28" width="5.54" height="5.53" fill="#25848e"/>
<rect x="346.97" y="75.28" width="5.54" height="5.53" fill="#287d8e"/>
<rect x="351.71" y="75.28" width="5.54" height="5.53" fill="#2a768e"/>
<rect x="356.45" y="75.28" width="5.54" height="5.53" fill="#2d708e"/>
<rect x="361.19" y="75.28" width="5.54" height="5.53" fill="#306a8e"/>
<rect x="365.93" y="75.28" width="5.54" height="5.53" fill="#32648e"/>
<rect x="370.67" y="75.28" width="5.54" height="5.53" fill="#355e8d"/>
<rect x="375.41" y="75.28" width="5.54" height="5.53" fill="#38588c"/>
<rect x="380.14" y="75.28" width="5.54" height="5.53" fill="#3b528b"/>
<rect x="384.88" y="75.28" width="5.54" height="5.53" fill="#3e4c8a"/>
<rect x="389.62" y="75.28" width="5.54" height="5.53" fill="#404588"/>
<rect x="394.36" y="75.28" width="4.74" height="5.53" fill="#423f85"/>
<rect x="228.50" y="80.01" width="5.54" height="5.53" fill="#1e9b8a"/>
<rect x="233.24" y="80.01" width="5.54" height="5.53" fill="#20a386"/>
<rect x="237.98" y="80.01" width="5.54" height="5.53" fill="#25ac82"/>
<rect x="242.72" y="80.01" width="5.54" height="5.53" fill="#2fb47c"/>
<rect x="247.46" y="80.01" width="5.54" height="5.53" fill="#3dbc74"/>
<rect x="252.19" y="80.01" width="5.54" height="5.53" fill="#4ec36b"/>
<rect x="256.93" y="80.01" width="5.54" height="5.53" fill="#63cb5f"/>
<rect x="261.67" y="80.01" width="5.54" height="5.53" fill="#7ad151"/>
<rect x="266.41" y="80.01" width="5.54" height="5.53" fill="#9bd93c"/>
<rect x="271.15" y="80.01" width="5.54" height="5.53" fill="#bddf26"/>
<rect x="275.89" y="80.01" width="5.54" height="5.53" fill="#dfe318"/>
<rect x="280.63" y="80.01" width="5.54" height="5.53" fill="#fde725"/>
<rect x="285.37" y="80.01" width="5.54" height="5.53" fill="#dfe318"/>
<rect x="290.11" y="80.01" width="5.54" height="5.53" fill="#bddf26"/>
<rect x="294.84" y="80.01" width="5.54" height="5.53" fill="#9bd93c"/>
<rect x="299.58" y="80.01" width="5.54" height="5.53" fill="#7ad151"/>
<rect x="304.32" y="80.01" width="5.54" height="5.53" fill="#63cb5f"/>
<rect x="309.06" y="80.01" width="5.54" height="5.53" fill="#4ec36b"/>
<rect x="313.80" y="80.01" width="5.54" height="5.53" fill="#3dbc74"/>
<rect x="318.54" y="80.01" width="5.54" height="5.53" fill="#2fb47c"/>
<rect x="323.28" y="80.01" width="5.54" height="5.53" fill="#25ac82"/>
<rect x="328.02" y="80.01" width="5.54" height="5.53" fill="#20a386"/>
<rect x="332.76" y="80.01" width="5.54" height="5.53" fill="#1e9b8a"/>
<rect x="337.49" y="80.01" width="5.54" height="5.53" fill="#20928c"/>
<rect x="342.23" y="80.01" width="5.54" height="5.53" fill="#228b8d"/>
<rect x="346.97" y="80.01" width="5.54" height="5.53" fill="#25848e"/>
<rect x="351.71" y="80.01" width="5.54" height="5.53" fill="#287d8e"/>
<rect x="356.45" y="80.01" width="5.54" height="5.53" fill="#2a768e"/>
<rect x="361.19" y="80.01" width="5.54" height="5.53" fill="#2d708e"/>
<rect x="365.93" y="80.01" width="5.54" height="5.53" fill="#306a8e"/>
<rect x="370.67" y="80.01" width="5.54" height="5.53" fill="#32648e"/>
<rect x="375.41" y="80.01" width="5.54" height="5.53" fill="#355e8d"/>
<rect x="380.14" y="80.01" width="5.54" height="5.53" fill="#38588c"/>
<rect x="384.88" y="80.01" width="5.54" height="5.53" fill="#3b528b"/>
<rect x="389.62" y="80.01" width="5.54" height="5.53" fill="#3e4c8a"/>
<rect x="394.36" y="80.01" width="4.74" height="5.53" fill="#404588"/>
<rect x="228.50" y="84.73" width="5.54" height="5.53" fill="#20928c"/>
<rect x="233.24" y="84.73" width="5.54" height="5.53" fill="#1e9b8a"/>
<rect x="237.98" y="84.73" width="5.54" height="5.53" fill="#20a386"/>
<rect x="242.72" y="84.73" width="5.54" height="5.53" fill="#25ac82"/>
<rect x="247.46" y="84.73" width="5.54" height="5.53" fill="#2fb47c"/>
<rect x="252.19" y="84.73" width="5.54" height="5.53" fill="#3dbc74"/>
<rect x="256.93" y="84.73" width="5.54" height="5.53" fill="#4ec36b"/>
<rect x="261.67" y="84.73" width="5.54" height="5.53" fill="#63cb5f"/>
<rect x="266.41" y="84.73" width="5.54" height="5.53" fill="#7ad151"/>
<rect x="271.15" y="84.73" width="5.54" height="5.53" fill="#9bd93c"/>
<rect x="275.89" y="84.73" width="5.54" height="5.53" fill="#bddf26"/>
<rect x="280.63" y="84.73" width="5.54" height="5.53" fill="#dfe318"/>
<rect x="285.37" y="84.73" width="5.54" height="5.53" fill="#fde725"/>
<rect x="290.11" y="84.73" width="5.54" height="5.53" fill="#dfe318"/>
<rect x="294.84" y="84.73" width="5.54" height="5.53" fill="#bddf26"/>
<rect x="299.58" y="84.73" width="5.54" height="5.53" fill="#9bd93c"/>
<rect x="304.32" y="84.73" width="5.54" height="5.53" fill="#7ad151"/>
<rect x="309.06" y="84.73" width="5.54" height="5.53" fill="#63cb5f"/>
<rect x="313.80" y="84.73" width="5.54" height="5.53" fill="#4ec36b"/>
<rect x="318.54" y="84.73" width="5.54" height="5.53" fill="#3dbc74"/>
<rect x="323.28" y="84.73" width="5.54" height="5.53" fill="#2fb47c"/>
<rect x="328.02" y="84.73" width="5.54" height="5.53" fill="#25ac82"/>
<rect x="332.76" y="84.73" width="5.54" height="5.53" fill="#20a386"/>
<rect x="337.49" y="84.73" width="5.54" height="5.53" fill="#1e9b8a"/>
<rect x="342.23" y="84.73" width="5.54" height="5.53" fill="#20928c"/>
<rect x="346.97" y="84.73" width="5.54" height="5.53" fill="#228b8d"/>
<rect x="351.71" y="84.73" width="5.54" height="5.53" fill="#25848e"/>
<rect x="356.45" y="84.73" width="5.54" height="5.53" fill="#287d8e"/>
<rect x="361.19" y="84.73" width="5.54" height="5.53" fill="#2a768e"/>
<rect x="365.93" y="84.73" width="5.54" height="5.53" fill="#2d708e"/>
<rect x="370.67" y="84.73" width="5.54" height="5.53" fill="#306a8e"/>
<rect x="375.41" y="84.73" width="5.54" height="5.53" fill="#32648e"/>
<rect x="380.14" y="84.73" width="5.54" height="5.53" fill="#355e8d"/>
<rect x="384.88" y="84.73" width="5.54" height="5.53" fill="#38588c"/>
<rect x="389.62" y="84.73" width="5.54" height="5.53" fill="#3b528b"/>
<rect x="394.36" y="84.73" width="4.74" height="5.53" fill="#3e4c8a"/>
<rect x="228.50" y="89.46" width="5.54" height="5.53" fill="#228b8d"/>
<rect x="233.24" y="89.46" width="5.54" height="5.53" fill="#20928c"/>
<rect x="237.98" y="89.46" width="5.54" height="5.53" fill="#1e9b8a"/>
<rect x="242.72" y="89.46" width="5.54" height="5.53" fill="#20a386"/>
<rect x="247.46" y="89.46" width="5.54" height="5.53" fill="#25ac82"/>
<rect x="252.19" y="89.46" width="5.54" height="5.53" fill="#2fb47c"/>
<rect x="256.93" y="89.46" width="5.54" height="5.53" fill="#3dbc74"/>
<rect x="261.67" y="89.46" width="5.54" height="5.53" fill="#4ec36b"/>
<rect x="266.41" y="89.46" width="5.54" height="5.53" fill="#63cb5f"/>
<rect x="271.15" y="89.46" width="5.54" height="5.53" fill="#7ad151"/>
<rect x="275.89" y="89.46" width="5.54" height="5.53" fill="#9bd93c"/>
<rect x="280.63" y="89.46" width="5.54" height="5.53" fill="#bddf26"/>
<rect x="285.37" y="89.46" width="5.54" height="5.53" fill="#dfe318"/>
<rect x="290.11" y="89.46" width="5.54" height="5.53" fill="#fde725"/>
<rect x="294.84" y="89.46" width="5.54" height="5.53" fill="#dfe318"/>
<rect x="299.58" y="89.46" width="5.54" height="5.53" fill="#bddf26"/>
<rect x="304.32" y="89.46" width="5.54" height="5.53" fill="#9bd93c"/>
<rect x="309.06" y="89.46" width="5.54" height="5.53" fill="#7ad151"/>
<rect x="313.80" y="89.46" width="5.54" height="5.53" fill="#63cb5f"/>
<rect x="318.54" y="89.46" width="5.54" height="5.53" fill="#4ec36b"/>
<rect x="323.28" y="89.46" width="5.54" height="5.53" fill="#3dbc74"/>
<rect x="328.02" y="89.46" width="5.54" height="5.53" fill="#2fb47c"/>
<rect x="332.76" y="89.46" width="5.54" height="5.53" fill="#25ac82"/>
<rect x="337.49" y="89.46" width="5.54" height="5.53" fill="#20a386"/>
<rect x="342.23" y="89.46" width="5.54" height="5.53" fill="#1e9b8a"/>
<rect x="346.97" y="89.46" width="5.54" height="5.53" fill="#20928c"/>
<rect x="351.71" y="89.46" width="5.54" height="5.53" fill="#228b8d"/>
<rect x="356.45" y="89.46" width="5.54" height="5.53" fill="#25848e"/>
<rect x="361.19" y="89.46" width="5.54" height="5.53" fill="#287d8e"/>
<rect x="365.93" y="89.46" width="5.54" height="5.53" fill="#2a768e"/>
<rect x="370.67" y="89.46" width="5.54" height="5.53" fill="#2d708e"/>
<rect x="375.41" y="89.46" width="5.54" height="5.53" fill="#306a8e"/>
<rect x="380.14" y="89.46" width="5.54" height="5.53" fill="#32648e"/>
<rect x="384.88" y="89.46" width="5.54" height="5.53" fill="#355e8d"/>
<rect x="389.62" y="89.46" width="5.54" height="5.53" fill="#38588c"/>
<rect x="394.36" y="89.46" width="4.74" height="5.53" fill="#3b528b"/>
<rect x="228.50" y="94.19" width="5.54" height="5.53" fill="#25848e"/>
<rect x="233.24" y="94.19" width="5.54" height="5.53" fill="#228b8d"/>
<rect x="237.98" y="94.19" width="5.54" height="5.53" fill="#20928c"/>
<rect x="242.72" y="94.19" width="5.54" height="5.53" fill="#1e9b8a"/>
<rect x="247.46" y="94.19" width="5.54" height="5.53" fill="#20a386"/>
<rect x="252.19" y="94.19" width="5.54" height="5.53" fill="#25ac82"/>
<rect x="256.93" y="94.19" width="5.54" height="5.53" fill="#2fb47c"/>
<rect x="261.67" y="94.19" width="5.54" height="5.53" fill="#3dbc74"/>
<rect x="266.41" y="94.19" width="5.54" height="5.53" fill="#4ec36b"/>
<rect x="271.15" y="94.19" width="5.54" height="5.53" fill="#63cb5f"/>
<rect x="275.89" y="94.19" width="5.54" height="5.53" fill="#7ad151"/>
<rect x="280.63" y="94.19" width="5.54" height="5.53" fill="#9bd93c"/>
<rect x="285.37" y="94.19" width="5.54" height="5.53" fill="#bddf26"/>
<rect x="290.11" y="94.19" width="5.54" height="5.53" fill="#dfe318"/>
<rect x="294.84" y="94.19" width="5.54" height="5.53" fill="#fde725"/>
<rect x="299.58" y="94.19" width="5.54" height="5.53" fill="#dfe318"/>
<rect x="304.32" y="94.19" width="5.54" height="5.53" fill="#bddf26"/>
<rect x="309.06" y="94.19" width="5.54" height="5.53" fill="#9bd93c"/>
<rect x="313.80" y="94.19" width="5.54" height="5.53" fill="#7ad151"/>
<rect x="318.54" y="94.19" width="5.54" height="5.53" fill="#63cb5f"/>
<rect x="323.28" y="94.19" width="5.54" height="5.53" fill="#4ec36b"/>
<rect x="328.02" y="94.19" width="5.54" height="5.53" fill="#3dbc74"/>
<rect x="332.76" y="94.19" width="5.54" height="5.53" fill="#2fb47c"/>
<rect x="337.49" y="94.19" width="5.54" height="5.53" fill="#25ac82"/>
<rect x="342.23" y="94.19" width="5.54" height="5.53" fill="#20a386"/>
<rect x="346.97" y="94.19" width="5.54" height="5.53" fill="#1e9b8a"/>
<rect x="351.71" y="94.19" width="5.54" height="5.53" fill="#20928c"/>
<rect x="356.45" y="94.19" width="5.54" height="5.53" fill="#228b8d"/>
<rect x="361.19" y="94.19" width="5.54" height="5.53" fill="#25848e"/>
<rect x="365.93" y="94.19" width="5.54" height="5.53" fill="#287d8e"/>
<rect x="370.67" y="94.19" width="5.54" height="5.53" fill="#2a768e"/>
<rect x="375.41" y="94.19" width="5.54" height="5.53" fill="#2d708e"/>
<rect x="380.14" y="94.19" width="5.54" height="5.53" fill="#306a8e"/>
<rect x="384.88" y="94.19" width="5.54" height="5.53" fill="#32648e"/>
<rect x="389.62" y="94.19" width="5.54" height="5.53" fill="#355e8d"/>
<rect x="394.36" y="94.19" width="4.74" height="5.53" fill="#38588c"/>
<rect x="228.50" y="98.92" width="5.54" height="5.53" fill="#287d8e"/>
<rect x="233.24" y="98.92" width="5.54" height="5.53" fill="#25848e"/>
<rect x="237.98" y="98.92" width="5.54" height="5.53" fill="#228b8d"/>
<rect x="242.72" y="98.92" width="5.54" height="5.53" fill="#20928c"/>
<rect x="247.46" y="98.92" width="5.54" height="5.53" fill="#1e9b8a"/>
<rect x="252.19" y="98.92" width="5.54" height="5.53" fill="#20a386"/>
<rect x="256.93" y="98.92" width="5.54" height="5.53" fill="#25ac82"/>
<rect x="261.67" y="98.92" width="5.54" height="5.53" fill="#2fb47c"/>
<rect x="266.41" y="98.92" width="5.54" height="5.53" fill="#3dbc74"/>
<rect x="271.15" y="98.92" width="5.54" height="5.53" fill="#4ec36b"/>
<rect x="275.89" y="98.92" width="5.54" height="5.53" fill="#63cb5f"/>
<rect x="280.63" y="98.92" width="5.54" height="5.53" fill="#7ad151"/>
<rect x="285.37" y="98.92" width="5.54" height="5.53" fill="#9bd93c"/>
<rect x="290.11" y="98.92" width="5.54" height="5.53" fill="#bddf26"/>
<rect x="294.84" y="98.92" width="5.54" height="5.53" fill="#dfe318"/>
<rect x="299.58" y="98.92" width="5.54" height="5.53" fill="#fde725"/>
<rect x="304.32" y="98.92" width="5.54" height="5.53" fill="#dfe318"/>
<rect x="309.06" y="98.92" width="5.54" height="5.53" fill="#bddf26"/>
<rect x="313.80" y="98.92" width="5.54" height="5.53" fill="#9bd93c"/>
<rect x="318.54" y="98.92" width="5.54" height="5.53" fill="#7ad151"/>
<rect x="323.28" y="98.92" width="5.54" height="5.53" fill="#63cb5f"/>
<rect x="328.02" y="98.92" width="5.54" height="5.53" fill="#4ec36b"/>
<rect x="332.76" y="98.92" width="5.54" height="5.53" fill="#3dbc74"/>
<rect x="337.49" y="98.92" width="5.54" height="5.53" fill="#2fb47c"/>
<rect x="342.23" y="98.92" width="5.54" height="5.53" fill="#25ac82"/>
<rect x="346.97" y="98.92" width="5.54" height="5.53" fill="#20a386"/>
<rect x="351.71" y="98.92" width="5.54" height="5.53" fill="#1e9b8a"/>
<rect x="356.45" y="98.92" width="5.54" height="5.53" fill="#20928c"/>
<rect x="361.19" y="98.92" width="5.54" height="5.53" fill="#228b8d"/>
<rect x="365.93" y="98.92" width="5.54" height="5.53" fill="#25848e"/>
<rect x="370.67" y="98.92" width="5.54" height="5.53" fill="#287d8e"/>
<rect x="375.41" y="98.92" width="5.54" height="5.53" fill="#2a768e"/>
<rect x="380.14" y="98.92" width="5.54" height="5.53" fill="#2d708e"/>
<rect x="384.88" y="98.92" width="5.54" height="5.53" fill="#306a8e"/>
<rect x="389.62" y="98.92" width="5.54" height="5.53" fill="#32648e"/>
<rect x="394.36" y="98.92" width="4.74" height="5.53" fill="#355e8d"/>
<rect x="228.50" y="103.64" width="5.54" height="5.53" fill="#2a768e"/>
<rect x="233.24" y="103.64" width="5.54" height="5.53" fill="#287d8e"/>
<rect x="237.98" y="103.64" width="5.54" height="5.53" fill="#25848e"/>
<rect x="242.72" y="103.64" width="5.54" height="5.53" fill="#228b8d"/>
<rect x="247.46" y="103.64" width="5.54" height="5.53" fill="#20928c"/>
<rect x="252.19" y="103.64" width="5.54" height="5.53" fill="#1e9b8a"/>
<rect x="256.93" y="103.64" width="5.54" height="5.53" fill="#20a386"/>
<rect x="261.67" y="103.64" width="5.54" height="5.53" fill="#25ac82"/>
<rect x="266.41" y="103.64" width="5.54" height="5.53" fill="#2fb47c"/>
<rect x="271.15" y="103.64" width="5.54" height="5.53" fill="#3dbc74"/>
<rect x="275.89" y="103.64" width="5.54" height="5.53" fill="#4ec36b"/>
<rect x="280.63" y="103.64" width="5.54" height="5.53" fill="#63cb5f"/>
<rect x="285.37" y="103.64" width="5.54" height="5.53" fill="#7ad151"/>
<rect x="290.11" y="103.64" width="5.54" height="5.53" fill="#9bd93c"/>
<rect x="294.84" y="103.64" width="5.54" height="5.53" fill="#bddf26"/>
<rect x="299.58" y="103.64" width="5.54" height="5.53" fill="#dfe318"/>
<rect x="304.32" y="103.64" width="5.54" height="5.53" fill="#fde725"/>
<rect x="309.06" y="103.64" width="5.54" height="5.53" fill="#dfe318"/>
<rect x="313.80" y="103.64" width="5.54" height="5.53" fill="#bddf26"/>
<rect x="318.54" y="103.64" width="5.54" height="5.53" fill="#9bd93c"/>
<rect x="323.28" y="103.64" width="5.54" height="5.53" fill="#7ad151"/>
<rect x="328.02" y="103.64" width="5.54" height="5.53" fill="#63cb5f"/>
<rect x="332.76" y="103.64" width="5.54" height="5.53" fill="#4ec36b"/>
<rect x="337.49" y="103.64" width="5.54" height="5.53" fill="#3dbc74"/>
<rect x="342.23" y="103.64" width="5.54" height="5.53" fill="#2fb47c"/>
<rect x="346.97" y="103.64" width="5.54" height="5.53" fill="#25ac82"/>
<rect x="351.71" y="103.64" width="5.54" height="5.53" fill="#20a386"/>
<rect x="356.45" y="103.64" width="5.54" height="5.53" fill="#1e9b8a"/>
<rect x="361.19" y="103.64" width="5.54" height="5.53" fill="#20928c"/>
<rect x="365.93" y="103.64" width="5.54" height="5.53" fill="#228b8d"/>
<rect x="370.67" y="103.64" width="5.54" height="5.53" fill="#25848e"/>
<rect x="375.41" y="103.64" width="5.54" height="5.53" fill="#287d8e"/>
<rect x="380.14" y="103.64" width="5.54" height="5.53" fill="#2a768e"/>
<rect x="384.88" y="103.64" width="5.54" height="5.53" fill="#2d708e"/>
<rect x="389.62" y="103.64" width="5.54" height="5.53" fill="#306a8e"/>
<rect x="394.36" y="103.64" width="4.74" height="5.53" fill="#32648e"/>
<rect x="228.50" y="108.37" width="5.54" height="5.53" fill="#2d708e"/>
<rect x="233.24" y="108.37" width="5.54" height="5.53" fill="#2a768e"/>
<rect x="237.98" y="108.37" width="5.54" height="5.53" fill="#287d8e"/>
<rect x="242.72" y="108.37" width="5.54" height="5.53" fill="#25848e"/>
<rect x="247.46" y="108.37" width="5.54" height="5.53" fill="#228b8d"/>
<rect x="252.19" y="108.37" width="5.54" height="5.53" fill="#20928c"/>
<rect x="256.93" y="108.37" width="5.54" height="5.53" fill="#1e9b8a"/>
<rect x="261.67" y="108.37" width="5.54" height="5.53" fill="#20a386"/>
<rect x="266.41" y="108.37" width="5.54" height="5.53" fill="#25ac82"/>
<rect x="271.15" y="108.37" width="5.54" height="5.53" fill="#2fb47c"/>
<rect x="275.89" y="108.37" width="5.54" height="5.53" fill="#3dbc74"/>
<rect x="280.63" y="108.37" width="5.54" height="5.53" fill="#4ec36b"/>
<rect x="285.37" y="108.37" width="5.54" height="5.53" fill="#63cb5f"/>
<rect x="290.11" y="108.37" width="5.54" height="5.53" fill="#7ad151"/>
<rect x="294.84" y="108.37" width="5.54" height="5.53" fill="#9bd93c"/>
<rect x="299.58" y="108.37" width="5.54" height="5.53" fill="#bddf26"/>
<rect x="304.32" y="108.37" width="5.54" height="5.53" fill="#dfe318"/>
<rect x="309.06" y="108.37" width="5.54" height="5.53" fill="#fde725"/>
<rect x="313.80" y="108.37" width="5.54" height="5.53" fill="#dfe318"/>
<rect x="318.54" y="108.37" width="5.54" height="5.53" fill="#bddf26"/>
<rect x="323.28" y="108.37" width="5.54" height="5.53" fill="#9bd93c"/>
<rect x="328.02" y="108.37" width="5.54" height="5.53" fill="#7ad151"/>
<rect x="332.76" y="108.37" width="5.54" height="5.53" fill="#63cb5f"/>
<rect x="337.49" y="108.37" width="5.54" height="5.53" fill="#4ec36b"/>
<rect x="342.23" y="108.37" width="5.54" height="5.53" fill="#3dbc74"/>
<rect x="346.97" y="108.37" width="5.54" height="5.53" fill="#2fb47c"/>
<rect x="351.71" y="108.37" width="5.54" height="5.53" fill="#25ac82"/>
<rect x="356.45" y="108.37" width="5.54" height="5.53" fill="#20a386"/>
<rect x="361.19" y="108.37" width="5.54" height="5.53" fill="#1e9b8a"/>
<rect x="365.93" y="108.37" width="5.54" height="5.53" fill="#20928c"/>
<rect x="370.67" y="108.37" width="5.54" height="5.53" fill="#228b8d"/>
<rect x="375.41" y="108.37" width="5.54" height="5.53" fill="#25848e"/>
<rect x="380.14" y="108.37" width="5.54" height="5.53" fill="#287d8e"/>
<rect x="384.88" y="108.37" width="5.54" height="5.53" fill="#2a768e"/>
<rect x="389.62" y="108.37" width="5.54" height="5.53" fill="#2d708e"/>
<rect x="394.36" y="108.37" width="4.74" height="5.53" fill="#306a8e"/>
<rect x="228.50" y="113.10" width="5.54" height="5.53" fill="#306a8e"/>
<rect x="233.24" y="113.10" width="5.54" height="5.53" fill="#2d708e"/>
<rect x="237.98" y="113.10" width="5.54" height="5.53" fill="#2a768e"/>
<rect x="242.72" y="113.10" width="5.54" height="5.53" fill="#287d8e"/>
<rect x="247.46" y="113.10" width="5.54" height="5.53" fill="#25848e"/>
<rect x="252.19" y="113.10" width="5.54" height="5.53" fill="#228b8d"/>
<rect x="256.93" y="113.10" width="5.54" height="5.53" fill="#20928c"/>
<rect x="261.67" y="113.10" width="5.54" height="5.53" fill="#1e9b8a"/>
<rect x="266.41" y="113.10" width="5.54" height="5.53" fill="#20a386"/>
<rect x="271.15" y="113.10" width="5.54" height="5.53" fill="#25ac82"/>
<rect x="275.89" y="113.10" width="5.54" height="5.53" fill="#2fb47c"/>
<rect x="280.63" y="113.10" width="5.54" height="5.53" fill="#3dbc74"/>
<rect x="285.37" y="113.10" width="5.54" height="5.53" fill="#4ec36b"/>
<rect x="290.11" y="113.10" width="5.54" height="5.53" fill="#63cb5f"/>
<rect x="294.84" y="113.10" width="5.54" height="5.53" fill="#7ad151"/>
<rect x="299.58" y="113.10" width="5.54" height="5.53" fill="#9bd93c"/>
<rect x="304.32" y="113.10" width="5.54" height="5.53" fill="#bddf26"/>
<rect x="309.06" y="113.10" width="5.54" height="5.53" fill="#dfe318"/>
<rect x="313.80" y="113.10" width="5.54" height="5.53" fill="#fde725"/>
<rect x="318.54" y="113.10" width="5.54" height="5.53" fill="#dfe318"/>
<rect x="323.28" y="113.10" width="5.54" height="5.53" fill="#bddf26"/>
<rect x="328.02" y="113.10" width="5.54" height="5.53" fill="#9bd93c"/>
<rect x="332.76" y="113.10" width="5.54" height="5.53" fill="#7ad151"/>
<rect x="337.49" y="113.10" width="5.54" height="5.53" fill="#63cb5f"/>
<rect x="342.23" y="113.10" width="5.54" height="5.53" fill="#4ec36b"/>
<rect x="346.97" y="113.10" width="5.54" height="5.53" fill="#3dbc74"/>
<rect x="351.71" y="113.10" width="5.54" height="5.53" fill="#2fb47c"/>
<rect x="356.45" y="113.10" width="5.54" height="5.53" fill="#25ac82"/>
<rect x="361.19" y="113.10" width="5.54" height="5.53" fill="#20a386"/>
<rect x="365.93" y="113.10" width="5.54" height="5.53" fill="#1e9b8a"/>
<rect x="370.67" y="113.10" width="5.54" height="5.53" fill="#20928c"/>
<rect x="375.41" y="113.10" width="5.54" height="5.53" fill="#228b8d"/>
<rect x="380.14" y="113.10" width="5.54" height="5.53" fill="#25848e"/>
<rect x="384.88" y="113.10" width="5.54" height="5.53" fill="#287d8e"/>
<rect x="389.62" y="113.10" width="5.54" height="5.53" fill="#2a768e"/>
<rect x="394.36" y="113.10" width="4.74" height="5.53" fill="#2d708e"/>
<rect x="228.50" y="117.83" width="5.54" height="5.53" fill="#32648e"/>
<rect x="233.24" y="117.83" width="5.54" height="5.53" fill="#306a8e"/>
<rect x="237.98" y="117.83" width="5.54" height="5.53" fill="#2d708e"/>
<rect x="242.72" y="117.83" width="5.54" height="5.53" fill="#2a768e"/>
<rect x="247.46" y="117.83" width="5.54" height="5.53" fill="#287d8e"/>
<rect x="252.19" y="117.83" width="5.54" height="5.53" fill="#25848e"/>
<rect x="256.93" y="117.83" width="5.54" height="5.53" fill="#228b8d"/>
<rect x="261.67" y="117.83" width="5.54" height="5.53" fill="#20928c"/>
<rect x="266.41" y="117.83" width="5.54" height="5.53" fill="#1e9b8a"/>
<rect x="271.15" y="117.83" width="5.54" height="5.53" fill="#20a386"/>
<rect x="275.89" y="117.83" width="5.54" height="5.53" fill="#25ac82"/>
<rect x="280.63" y="117.83" width="5.54" height="5.53" fill="#2fb47c"/>
<rect x="285.37" y="117.83" width="5.54" height="5.53" fill="#3dbc74"/>
<rect x="290.11" y="117.83" width="5.54" height="5.53" fill="#4ec36b"/>
<rect x="294.84" y="117.83" width="5.54" height="5.53" fill="#63cb5f"/>
<rect x="299.58" y="117.83" width="5.54" height="5.53" fill="#7ad151"/>
<rect x="304.32" y="117.83" width="5.54" height="5.53" fill="#9bd93c"/>
<rect x="309.06" y="117.83" width="5.54" height="5.53" fill="#bddf26"/>
<rect x="313.80" y="117.83" width="5.54" height="5.53" fill="#dfe318"/>
<rect x="318.54" y="117.83" width="5.54" height="5.53" fill="#fde725"/>
<rect x="323.28" y="117.83" width="5.54" height="5.53" fill="#dfe318"/>
<rect x="328.02" y="117.83" width="5.54" height="5.53" fill="#bddf26"/>
<rect x="332.76" y="117.83" width="5.54" height="5.53" fill="#9bd93c"/>
<rect x="337.49" y="117.83" width="5.54" height="5.53" fill="#7ad151"/>
<rect x="342.23" y="117.83" width="5.54" height="5.53" fill="#63cb5f"/>
<rect x="346.97" y="117.83" width="5.54" height="5.53" fill="#4ec36b"/>
<rect x="351.71" y="117.83" width="5.54" height="5.53" fill="#3dbc74"/>
<rect x="356.45" y="117.83" width="5.54" height="5.53" fill="#2fb47c"/>
<rect x="361.19" y="117.83" width="5.54" height="5.53" fill="#25ac82"/>
<rect x="365.93" y="117.83" width="5.54" height="5.53" fill="#20a386"/>
<rect x="370.67" y="117.83" width="5.54" height="5.53" fill="#1e9b8a"/>
<rect x="375.41" y="117.83" width="5.54" height="5.53" fill="#20928c"/>
<rect x="380.14" y="117.83" width="5.54" height="5.53" fill="#228b8d"/>
<rect x="384.88" y="117.83" width="5.54" height="5.53" fill="#25848e"/>
<rect x="389.62" y="117.83" width="5.54" height="5.53" fill="#287d8e"/>
<rect x="394.36" y="117.83" width="4.74" height="5.53" fill="#2a768e"/>
<rect x="228.50" y="122.56" width="5.54" height="5.53" fill="#355e8d"/>
<rect x="233.24" y="122.56" width="5.54" height="5.53" fill="#32648e"/>
<rect x="237.98" y="122.56" width="5.54" height="5.53" fill="#306a8e"/>
<rect x="242.72" y="122.56" width="5.54" height="5.53" fill="#2d708e"/>
<rect x="247.46" y="122.56" width="5.54" height="5.53" fill="#2a768e"/>
<rect x="252.19" y="122.56" width="5.54" height="5.53" fill="#287d8e"/>
<rect x="256.93" y="122.56" width="5.54" height="5.53" fill="#25848e"/>
<rect x="261.67" y="122.56" width="5.54" height="5.53" fill="#228b8d"/>
<rect x="266.41" y="122.56" width="5.54" height="5.53" fill="#20928c"/>
<rect x="271.15" y="122.56" width="5.54" height="5.53" fill="#1e9b8a"/>
<rect x="275.89" y="122.56" width="5.54" height="5.53" fill="#20a386"/>
<rect x="280.63" y="122.56" width="5.54" height="5.53" fill="#25ac82"/>
<rect x="285.37" y="122.56" width="5.54" height="5.53" fill="#2fb47c"/>
<rect x="290.11" y="122.56" width="5.54" height="5.53" fill="#3dbc74"/>
<rect x="294.84" y="122.56" width="5.54" height="5.53" fill="#4ec36b"/>
<rect x="299.58" y="122.56" width="5.54" height="5.53" fill="#63cb5f"/>
<rect x="304.32" y="122.56" width="5.54" height="5.53" fill="#7ad151"/>
<rect x="309.06" y="122.56" width="5.54" height="5.53" fill="#9bd93c"/>
<rect x="313.80" y="122.56" width="5.54" height="5.53" fill="#bddf26"/>
<rect x="318.54" y="122.56" width="5.54" height="5.53" fill="#dfe318"/>
<rect x="323.28" y="122.56" width="5.54" height="5.53" fill="#fde725"/>
<rect x="328.02" y="122.56" width="5.54" height="5.53" fill="#dfe318"/>
<rect x="332.76" y="122.56" width="5.54" height="5.53" fill="#bddf26"/>
<rect x="337.49" y="122.56" width="5.54" height="5.53" fill="#9bd93c"/>
<rect x="342.23" y="122.56" width="5.54" height="5.53" fill="#7ad151"/>
<rect x="346.97" y="122.56" width="5.54" height="5.53" fill="#63cb5f"/>
<rect x="351.71" y="122.56" width="5.54" height="5.53" fill="#4ec36b"/>
<rect x="356.45" y="122.56" width="5.54" height="5.53" fill="#3dbc74"/>
<rect x="361.19" y="122.56" width="5.54" height="5.53" fill="#2fb47c"/>
<rect x="365.93" y="122.56" width="5.54" height="5.53" fill="#25ac82"/>
<rect x="370.67" y="122.56" width="5.54" height="5.53" fill="#20a386"/>
<rect x="375.41" y="122.56" width="5.54" height="5.53" fill="#1e9b8a"/>
<rect x="380.14" y="122.56" width="5.54" height="5.53" fill="#20928c"/>
<rect x="384.88" y="122.56" width="5.54" height="5.53" fill="#228b8d"/>
<rect x="389.62" y="122.56" width="5.54" height="5.53" fill="#25848e"/>
<rect x="394.36" y="122.56" width="4.74" height="5.53" fill="#287d8e"/>
<rect x="228.50" y="127.28" width="5.54" height="5.53" fill="#38588c"/>
<rect x="233.24" y="127.28" width="5.54" height="5.53" fill="#355e8d"/>
<rect x="237.98" y="127.28" width="5.54" height="5.53" fill="#32648e"/>
<rect x="242.72" y="127.28" width="5.54" height="5.53" fill="#306a8e"/>
<rect x="247.46" y="127.28" width="5.54" height="5.53" fill="#2d708e"/>
<rect x="252.19" y="127.28" width="5.54" height="5.53" fill="#2a768e"/>
<rect x="256.93" y="127.28" width="5.54" height="5.53" fill="#287d8e"/>
<rect x="261.67" y="127.28" width="5.54" height="5.53" fill="#25848e"/>
<rect x="266.41" y="127.28" width="5.54" height="5.53" fill="#228b8d"/>
<rect x="271.15" y="127.28" width="5.54" height="5.53" fill="#20928c"/>
<rect x="275.89" y="127.28" width="5.54" height="5.53" fill="#1e9b8a"/>
<rect x="280.63" y="127.28" width="5.54" height="5.53" fill="#20a386"/>
<rect x="285.37" y="127.28" width="5.54" height="5.53" fill="#25ac82"/>
<rect x="290.11" y="127.28" width="5.54" height="5.53" fill="#2fb47c"/>
<rect x="294.84" y="127.28" width="5.54" height="5.53" fill="#3dbc74"/>
<rect x="299.58" y="127.28" width="5.54" height="5.53" fill="#4ec36b"/>
<rect x="304.32" y="127.28" width="5.54" height="5.53" fill="#63cb5f"/>
<rect x="309.06" y="127.28" width="5.54" height="5.53" fill="#7ad151"/>
<rect x="313.80" y="127.28" width="5.54" height="5.53" fill="#9bd93c"/>
<rect x="318.54" y="127.28" width="5.54" height="5.53" fill="#bddf26"/>
<rect x="323.28" y="127.28" width="5.54" height="5.53" fill="#dfe318"/>
<rect x="328.02" y="127.28" width="5.54" height="5.53" fill="#fde725"/>
<rect x="332.76" y="127.28" width="5.54" height="5.53" fill="#dfe318"/>
<rect x="337.49" y="127.28" width="5.54" height="5.53" fill="#bddf26"/>
<rect x="342.23" y="127.28" width="5.54" height="5.53" fill="#9bd93c"/>
<rect x="346.97" y="127.28" width="5.54" height="5.53" fill="#7ad151"/>
<rect x="351.71" y="127.28" width="5.54" height="5.53" fill="#63cb5f"/>
<rect x="356.45" y="127.28" width="5.54" height="5.53" fill="#4ec36b"/>
<rect x="361.19" y="127.28" width="5.54" height="5.53" fill="#3dbc74"/>
<rect x="365.93" y="127.28" width="5.54" height="5.53" fill="#2fb47c"/>
<rect x="370.67" y="127.28" width="5.54" height="5.53" fill="#25ac82"/>
<rect x="375.41" y="127.28" width="5.54" height="5.53" fill="#20a386"/>
<rect x="380.14" y="127.28" width="5.54" height="5.53" fill="#1e9b8a"/>
<rect x="384.88" y="127.28" width="5.54" height="5.53" fill="#20928c"/>
<rect x="389.62" y="127.28" width="5.54" height="5.53" fill="#228b8d"/>
<rect x="394.36" y="127.28" width="4.74" height="5.53" fill="#25848e"/>
<rect x="228.50" y="132.01" width="5.54" height="5.53" fill="#3b528b"/>
<rect x="233.24" y="132.01" width="5.54" height="5.53" fill="#38588c"/>
<rect x="237.98" y="132.01" width="5.54" height="5.53" fill="#355e8d"/>
<rect x="242.72" y="132.01" width="5.54" height="5.53" fill="#32648e"/>
<rect x="247.46" y="132.01" width="5.54" height="5.53" fill="#306a8e"/>
<rect x="252.19" y="132.01" width="5.54" height="5.53" fill="#2d708e"/>
<rect x="256.93" y="132.01" width="5.54" height="5.53" fill="#2a768e"/>
<rect x="261.67" y="132.01" width="5.54" height="5.53" fill="#287d8e"/>
<rect x="266.41" y="132.01" width="5.54" height="5.53" fill="#25848e"/>
<rect x="271.15" y="132.01" width="5.54" height="5.53" fill="#228b8d"/>
<rect x="275.89" y="132.01" width="5.54" height="5.53" fill="#20928c"/>
<rect x="280.63" y="132.01" width="5.54" height="5.53" fill="#1e9b8a"/>
<rect x="285.37" y="132.01" width="5.54" height="5.53" fill="#20a386"/>
<rect x="290.11" y="132.01" width="5.54" height="5.53" fill="#25ac82"/>
<rect x="294.84" y="132.01" width="5.54" height="5.53" fill="#2fb47c"/>
<rect x="299.58" y="132.01" width="5.54" height="5.53" fill="#3dbc74"/>
<rect x="304.32" y="132.01" width="5.54" height="5.53" fill="#4ec36b"/>
<rect x="309.06" y="132.01" width="5.54" height="5.53" fill="#63cb5f"/>
<rect x="313.80" y="132.01" width="5.54" height="5.53" fill="#7ad151"/>
<rect x="318.54" y="132.01" width="5.54" height="5.53" fill="#9bd93c"/>
<rect x="323.28" y="132.01" width="5.54" height="5.53" fill="#bddf26"/>
<rect x="328.02" y="132.01" width="5.54" height="5.53" fill="#dfe318"/>
<rect x="332.76" y="132.01" width="5.54" height="5.53" fill="#fde725"/>
<rect x="337.49" y="132.01" width="5.54" height="5.53" fill="#dfe318"/>
<rect x="342.23" y="132.01" width="5.54" height="5.53" fill="#bddf26"/>
<rect x="346.97" y="132.01" width="5.54" height="5.53" fill="#9bd93c"/>
<rect x="351.71" y="132.01" width="5.54" height="5.53" fill="#7ad151"/>
<rect x="356.45" y="132.01" width="5.54" height="5.53" fill="#63cb5f"/>
<rect x="361.19" y="132.01" width="5.54" height="5.53" fill="#4ec36b"/>
<rect x="365.93" y="132.01" width="5.54" height="5.53" fill="#3dbc74"/>
<rect x="370.67" y="132.01" width="5.54" height="5.53" fill="#2fb47c"/>
<rect x="375.41" y="132.01" width="5.54" height="5.53" fill="#25ac82"/>
<rect x="380.14" y="132.01" width="5.54" height="5.53" fill="#20a386"/>
<rect x="384.88" y="132.01" width="5.54" height="5.53" fill="#1e9b8a"/>
<rect x="389.62" y="132.01" width="5.54" height="5.53" fill="#20928c"/>
<rect x="394.36" y="132.01" width="4.74" height="5.53" fill="#228b8d"/>
<rect x="228.50" y="136.74" width="5.54" height="5.53" fill="#3e4c8a"/>
<rect x="233.24" y="136.74" width="5.54" height="5.53" fill="#3b528b"/>
<rect x="237.98" y="136.74" width="5.54" height="5.53" fill="#38588c"/>
<rect x="242.72" y="136.74" width="5.54" height="5.53" fill="#355e8d"/>
<rect x="247.46" y="136.74" width="5.54" height="5.53" fill="#32648e"/>
<rect x="252.19" y="136.74" width="5.54" height="5.53" fill="#306a8e"/>
<rect x="256.93" y="136.74" width="5.54" height="5.53" fill="#2d708e"/>
<rect x="261.67" y="136.74" width="5.54" height="5.53" fill="#2a768e"/>
<rect x="266.41" y="136.74" width="5.54" height="5.53" fill="#287d8e"/>
<rect x="271.15" y="136.74" width="5.54" height="5.53" fill="#25848e"/>
<rect x="275.89" y="136.74" width="5.54" height="5.53" fill="#228b8d"/>
<rect x="280.63" y="136.74" width="5.54" height="5.53" fill="#20928c"/>
<rect x="285.37" y="136.74" width="5.54" height="5.53" fill="#1e9b8a"/>
<rect x="290.11" y="136.74" width="5.54" height="5.53" fill="#20a386"/>
<rect x="294.84" y="136.74" width="5.54" height="5.53" fill="#25ac82"/>
<rect x="299.58" y="136.74" width="5.54" height="5.53" fill="#2fb47c"/>
<rect x="304.32" y="136.74" width="5.54" height="5.53" fill="#3dbc74"/>
<rect x="309.06" y="136.74" width="5.54" height="5.53" fill="#4ec36b"/>
<rect x="313.80" y="136.74" width="5.54" height="5.53" fill="#63cb5f"/>
<rect x="318.54" y="136.74" width="5.54" height="5.53" fill="#7ad151"/>
<rect x="323.28" y="136.74" width="5.54" height="5.53" fill="#9bd93c"/>
<rect x="328.02" y="136.74" width="5.54" height="5.53" fill="#bddf26"/>
<rect x="332.76" y="136.74" width="5.54" height="5.53" fill="#dfe318"/>
<rect x="337.49" y="136.74" width="5.54" height="5.53" fill="#fde725"/>
<rect x="342.23" y="136.74" width="5.54" height="5.53" fill="#dfe318"/>
<rect x="346.97" y="136.74" width="5.54" height="5.53" fill="#bddf26"/>
<rect x="351.71" y="136.74" width="5.54" height="5.53" fill="#9bd93c"/>
<rect x="356.45" y="136.74" width="5.54" height="5.53" fill="#7ad151"/>
<rect x="361.19" y="136.74" width="5.54" height="5.53" fill="#63cb5f"/>
<rect x="365.93" y="136.74" width="5.54" height="5.53" fill="#4ec36b"/>
<rect x="370.67" y="136.74" width="5.54" height="5.53" fill="#3dbc74"/>
<rect x="375.41" y="136.74" width="5.54" height="5.53" fill="#2fb47c"/>
<rect x="380.14" y="136.74" width="5.54" height="5.53" fill="#25ac82"/>
<rect x="384.88" y="136.74" width="5.54" height="5.53" fill="#20a386"/>
<rect x="389.62" y="136.74" width="5.54" height="5.53" fill="#1e9b8a"/>
<rect x="394.36" y="136.74" width="4.74" height="5.53" fill="#20928c"/>
<rect x="228.50" y="141.47" width="5.54" height="5.53" fill="#404588"/>
<rect x="233.24" y="141.47" width="5.54" height="5.53" fill="#3e4c8a"/>
<rect x="237.98" y="141.47" width="5.54" height="5.53" fill="#3b528b"/>
<rect x="242.72" y="141.47" width="5.54" height="5.53" fill="#38588c"/>
<rect x="247.46" y="141.47" width="5.54" height="5.53" fill="#355e8d"/>
<rect x="252.19" y="141.47" width="5.54" height="5.53" fill="#32648e"/>
<rect x="256.93" y="141.47" width="5.54" height="5.53" fill="#306a8e"/>
<rect x="261.67" y="141.47" width="5.54" height="5.53" fill="#2d708e"/>
<rect x="266.41" y="141.47" width="5.54" height="5.53" fill="#2a768e"/>
<rect x="271.15" y="141.47" width="5.54" height="5.53" fill="#287d8e"/>
<rect x="275.89" y="141.47" width="5.54" height="5.53" fill="#25848e"/>
<rect x="280.63" y="141.47" width="5.54" height="5.53" fill="#228b8d"/>
<rect x="285.37" y="141.47" width="5.54" height="5.53" fill="#20928c"/>
<rect x="290.11" y="141.47" width="5.54" height="5.53" fill="#1e9b8a"/>
<rect x="294.84" y="141.47" width="5.54" height="5.53" fill="#20a386"/>
<rect x="299.58" y="141.47" width="5.54" height="5.53" fill="#25ac82"/>
<rect x="304.32" y="141.47" width="5.54" height="5.53" fill="#2fb47c"/>
<rect x="309.06" y="141.47" width="5.54" height="5.53" fill="#3dbc74"/>
<rect x="313.80" y="141.47" width="5.54" height="5.53" fill="#4ec36b"/>
<rect x="318.54" y="141.47" width="5.54" height="5.53" fill="#63cb5f"/>
<rect x="323.28" y="141.47" width="5.54" height="5.53" fill="#7ad151"/>
<rect x="328.02" y="141.47" width="5.54" height="5.53" fill="#9bd93c"/>
<rect x="332.76" y="141.47" width="5.54" height="5.53" fill="#bddf26"/>
<rect x="337.49" y="141.47" width="5.54" height="5.53" fill="#dfe318"/>
<rect x="342.23" y="141.47" width="5.54" height="5.53" fill="#fde725"/>
<rect x="346.97" y="141.47" width="5.54" height="5.53" fill="#dfe318"/>
<rect x="351.71" y="141.47" width="5.54" height="5.53" fill="#bddf26"/>
<rect x="356.45" y="141.47" width="5.54" height="5.53" fill="#9bd93c"/>
<rect x="361.19" y="141.47" width="5.54" height="5.53" fill="#7ad151"/>
<rect x="365.93" y="141.47" width="5.54" height="5.53" fill="#63cb5f"/>
<rect x="370.67" y="141.47" width="5.54" height="5.53" fill="#4ec36b"/>
<rect x="375.41" y="141.47" width="5.54" height="5.53" fill="#3dbc74"/>
<rect x="380.14" y="141.47" width="5.54" height="5.53" fill="#2fb47c"/>
<rect x="384.88" y="141.47" width="5.54" height="5.53" fill="#25ac82"/>
<rect x="389.62" y="141.47" width="5.54" height="5.53" fill="#20a386"/>
<rect x="394.36" y="141.47" width="4.74" height="5.53" fill="#1e9b8a"/>
<rect x="228.50" y="146.19" width="5.54" height="5.53" fill="#423f85"/>
<rect x="233.24" y="146.19" width="5.54" height="5.53" fill="#404588"/>
<rect x="237.98" y="146.19" width="5.54" height="5.53" fill="#3e4c8a"/>
<rect x="242.72" y="146.19" width="5.54" height="5.53" fill="#3b528b"/>
<rect x="247.46" y="146.19" width="5.54" height="5.53" fill="#38588c"/>
<rect x="252.19" y="146.19" width="5.54" height="5.53" fill="#355e8d"/>
<rect x="256.93" y="146.19" width="5.54" height="5.53" fill="#32648e"/>
<rect x="261.67" y="146.19" width="5.54" height="5.53" fill="#306a8e"/>
<rect x="266.41" y="146.19" width="5.54" height="5.53" fill="#2d708e"/>
<rect x="271.15" y="146.19" width="5.54" height="5.53" fill="#2a768e"/>
<rect x="275.89" y="146.19" width="5.54" height="5.53" fill="#287d8e"/>
<rect x="280.63" y="146.19" width="5.54" height="5.53" fill="#25848e"/>
<rect x="285.37" y="146.19" width="5.54" height="5.53" fill="#228b8d"/>
<rect x="290.11" y="146.19" width="5.54" height="5.53" fill="#20928c"/>
<rect x="294.84" y="146.19" width="5.54" height="5.53" fill="#1e9b8a"/>
<rect x="299.58" y="146.19" width="5.54" height="5.53" fill="#20a386"/>
<rect x="304.32" y="146.19" width="5.54" height="5.53" fill="#25ac82"/>
<rect x="309.06" y="146.19" width="5.54" height="5.53" fill="#2fb47c"/>
<rect x="313.80" y="146.19" width="5.54" height="5.53" fill="#3dbc74"/>
<rect x="318.54" y="146.19" width="5.54" height="5.53" fill="#4ec36b"/>
<rect x="323.28" y="146.19" width="5.54" height="5.53" fill="#63cb5f"/>
<rect x="328.02" y="146.19" width="5.54" height="5.53" fill="#7ad151"/>
<rect x="332.76" y="146.19" width="5.54" height="5.53" fill="#9bd93c"/>
<rect x="337.49" y="146.19" width="5.54" height="5.53" fill="#bddf26"/>
<rect x="342.23" y="146.19" width="5.54" height="5.53" fill="#dfe318"/>
<rect x="346.97" y="146.19" width="5.54" height="5.53" fill="#fde725"/>
<rect x="351.71" y="146.19" width="5.54" height="5.53" fill="#dfe318"/>
<rect x="356.45" y="146.19" width="5.54" height="5.53" fill="#bddf26"/>
<rect x="361.19" y="146.19" width="5.54" height="5.53" fill="#9bd93c"/>
<rect x="365.93" y="146.19" width="5.54" height="5.53" fill="#7ad151"/>
<rect x="370.67" y="146.19" width="5.54" height="5.53" fill="#63cb5f"/>
<rect x="375.41" y="146.19" width="5.54" height="5.53" fill="#4ec36b"/>
<rect x="380.14" y="146.19" width="5.54" height="5.53" fill="#3dbc74"/>
<rect x="384.88" y="146.19" width="5.54" height="5.53" fill="#2fb47c"/>
<rect x="389.62" y="146.19" width="5.54" height="5.53" fill="#25ac82"/>
<rect x="394.36" y="146.19" width="4.74" height="5.53" fill="#20a386"/>
<rect x="228.50" y="150.92" width="5.54" height="5.53" fill="#443983"/>
<rect x="233.24" y="150.92" width="5.54" height="5.53" fill="#423f85"/>
<rect x="237.98" y="150.92" width="5.54" height="5.53" fill="#404588"/>
<rect x="242.72" y="150.92" width="5.54" height="5.53" fill="#3e4c8a"/>
<rect x="247.46" y="150.92" width="5.54" height="5.53" fill="#3b528b"/>
<rect x="252.19" y="150.92" width="5.54" height="5.53" fill="#38588c"/>
<rect x="256.93" y="150.92" width="5.54" height="5.53" fill="#355e8d"/>
<rect x="261.67" y="150.92" width="5.54" height="5.53" fill="#32648e"/>
<rect x="266.41" y="150.92" width="5.54" height="5.53" fill="#306a8e"/>
<rect x="271.15" y="150.92" width="5.54" height="5.53" fill="#2d708e"/>
<rect x="275.89" y="150.92" width="5.54" height="5.53" fill="#2a768e"/>
<rect x="280.63" y="150.92" width="5.54" height="5.53" fill="#287d8e"/>
<rect x="285.37" y="150.92" width="5.54" height="5.53" fill="#25848e"/>
<rect x="290.11" y="150.92" width="5.54" height="5.53" fill="#228b8d"/>
<rect x="294.84" y="150.92" width="5.54" height="5.53" fill="#20928c"/>
<rect x="299.58" y="150.92" width="5.54" height="5.53" fill="#1e9b8a"/>
<rect x="304.32" y="150.92" width="5.54" height="5.53" fill="#20a386"/>
<rect x="309.06" y="150.92" width="5.54" height="5.53" fill="#25ac82"/>
<rect x="313.80" y="150.92" width="5.54" height="5.53" fill="#2fb47c"/>
<rect x="318.54" y="150.92" width="5.54" height="5.53" fill="#3dbc74"/>
<rect x="323.28" y="150.92" width="5.54" height="5.53" fill="#4ec36b"/>
<rect x="328.02" y="150.92" width="5.54" height="5.53" fill="#63cb5f"/>
<rect x="332.76" y="150.92" width="5.54" height="5.53" fill="#7ad151"/>
<rect x="337.49" y="150.92" width="5.54" height="5.53" fill="#9bd93c"/>
<rect x="342.23" y="150.92" width="5.54" height="5.53" fill="#bddf26"/>
<rect x="346.97" y="150.92" width="5.54" height="5.53" fill="#dfe318"/>
<rect x="351.71" y="150.92" width="5.54" height="5.53" fill="#fde725"/>
<rect x="356.45" y="150.92" width="5.54" height="5.53" fill="#dfe318"/>
<rect x="361.19" y="150.92" width="5.54" height="5.53" fill="#bddf26"/>
<rect x="365.93" y="150.92" width="5.54" height="5.53" fill="#9bd93c"/>
<rect x="370.67" y="150.92" width="5.54" height="5.53" fill="#7ad151"/>
<rect x="375.41" y="150.92" width="5.54" height="5.53" fill="#63cb5f"/>
<rect x="380.14" y="150.92" width="5.54" height="5.53" fill="#4ec36b"/>
<rect x="384.88" y="150.92" width="5.54" height="5.53" fill="#3dbc74"/>
<rect x="389.62" y="150.92" width="5.54" height="5.53" fill="#2fb47c"/>
<rect x="394.36" y="150.92" width="4.74" height="5.53" fill="#25ac82"/>
<rect x="228.50" y="155.65" width="5.54" height="5.53" fill="#46337f"/>
<rect x="233.24" y="155.65" width="5.54" height="5.53" fill="#443983"/>
<rect x="237.98" y="155.65" width="5.54" height="5.53" fill="#423f85"/>
<rect x="242.72" y="155.65" width="5.54" height="5.53" fill="#404588"/>
<rect x="247.46" y="155.65" width="5.54" height="5.53" fill="#3e4c8a"/>
<rect x="252.19" y="155.65" width="5.54" height="5.53" fill="#3b528b"/>
<rect x="256.93" y="155.65" width="5.54" height="5.53" fill="#38588c"/>
<rect x="261.67" y="155.65" width="5.54" height="5.53" fill="#355e8d"/>
<rect x="266.41" y="155.65" width="5.54" height="5.53" fill="#32648e"/>
<rect x="271.15" y="155.65" width="5.54" height="5.53" fill="#306a8e"/>
<rect x="275.89" y="155.65" width="5.54" height="5.53" fill="#2d708e"/>
<rect x="280.63" y="155.65" width="5.54" height="5.53" fill="#2a768e"/>
<rect x="285.37" y="155.65" width="5.54" height="5.53" fill="#287d8e"/>
<rect x="290.11" y="155.65" width="5.54" height="5.53" fill="#25848e"/>
<rect x="294.84" y="155.65" width="5.54" height="5.53" fill="#228b8d"/>
<rect x="299.58" y="155.65" width="5.54" height="5.53" fill="#20928c"/>
<rect x="304.32" y="155.65" width="5.54" height="5.53" fill="#1e9b8a"/>
<rect x="309.06" y="155.65" width="5.54" height="5.53" fill="#20a386"/>
<rect x="313.80" y="155.65" width="5.54" height="5.53" fill="#25ac82"/>
<rect x="318.54" y="155.65" width="5.54" height="5.53" fill="#2fb47c"/>
<rect x="323.28" y="155.65" width="5.54" height="5.53" fill="#3dbc74"/>
<rect x="328.02" y="155.65" width="5.54" height="5.53" fill="#4ec36b"/>
<rect x="332.76" y="155.65" width="5.54" height="5.53" fill="#63cb5f"/>
<rect x="337.49" y="155.65" width="5.54" height="5.53" fill="#7ad151"/>
<rect x="342.23" y="155.65" width="5.54" height="5.53" fill="#9bd93c"/>
<rect x="346.97" y="155.65" width="5.54" height="5.53" fill="#bddf26"/>
<rect x="351.71" y="155.65" width="5.54" height="5.53" fill="#dfe318"/>
<rect x="356.45" y="155.65" width="5.54" height="5.53" fill="#fde725"/>
<rect x="361.19" y="155.65" width="5.54" height="5.53" fill="#dfe318"/>
<rect x="365.93" y="155.65" width="5.54" height="5.53" fill="#bddf26"/>
<rect x="370.67" y="155.65" width="5.54" height="5.53" fill="#9bd93c"/>
<rect x="375.41" y="155.65" width="5.54" height="5.53" fill="#7ad151"/>
<rect x="380.14" y="155.65" width="5.54" height="5.53" fill="#63cb5f"/>
<rect x="384.88" y="155.65" width="5.54" height="5.53" fill="#4ec36b"/>
<rect x="389.62" y="155.65" width="5.54" height="5.53" fill="#3dbc74"/>
<rect x="394.36" y="155.65" width="4.74" height="5.53" fill="#2fb47c"/>
<rect x="228.50" y="160.38" width="5.54" height="5.53" fill="#472d7b"/>
<rect x="233.24" y="160.38" width="5.54" height="5.53" fill="#46337f"/>
<rect x="237.98" y="160.38" width="5.54" height="5.53" fill="#443983"/>
<rect x="242.72" y="160.38" width="5.54" height="5.53" fill="#423f85"/>
<rect x="247.46" y="160.38" width="5.54" height="5.53" fill="#404588"/>
<rect x="252.19" y="160.38" width="5.54" height="5.53" fill="#3e4c8a"/>
<rect x="256.93" y="160.38" width="5.54" height="5.53" fill="#3b528b"/>
<rect x="261.67" y="160.38" width="5.54" height="5.53" fill="#38588c"/>
<rect x="266.41" y="160.38" width="5.54" height="5.53" fill="#355e8d"/>
<rect x="271.15" y="160.38" width="5.54" height="5.53" fill="#32648e"/>
<rect x="275.89" y="160.38" width="5.54" height="5.53" fill="#306a8e"/>
<rect x="280.63" y="160.38" width="5.54" height="5.53" fill="#2d708e"/>
<rect x="285.37" y="160.38" width="5.54" height="5.53" fill="#2a768e"/>
<rect x="290.11" y="160.38" width="5.54" height="5.53" fill="#287d8e"/>
<rect x="294.84" y="160.38" width="5.54" height="5.53" fill="#25848e"/>
<rect x="299.58" y="160.38" width="5.54" height="5.53" fill="#228b8d"/>
<rect x="304.32" y="160.38" width="5.54" height="5.53" fill="#20928c"/>
<rect x="309.06" y="160.38" width="5.54" height="5.53" fill="#1e9b8a"/>
<rect x="313.80" y="160.38" width="5.54" height="5.53" fill="#20a386"/>
<rect x="318.54" y="160.38" width="5.54" height="5.53" fill="#25ac82"/>
<rect x="323.28" y="160.38" width="5.54" height="5.53" fill="#2fb47c"/>
<rect x="328.02" y="160.38" width="5.54" height="5.53" fill="#3dbc74"/>
<rect x="332.76" y="160.38" width="5.54" height="5.53" fill="#4ec36b"/>
<rect x="337.49" y="160.38" width="5.54" height="5.53" fill="#63cb5f"/>
<rect x="342.23" y="160.38" width="5.54" height="5.53" fill="#7ad151"/>
<rect x="346.97" y="160.38" width="5.54" height="5.53" fill="#9bd93c"/>
<rect x="351.71" y="160.38" width="5.54" height="5.53" fill="#bddf26"/>
<rect x="356.45" y="160.38" width="5.54" height="5.53" fill="#dfe318"/>
<rect x="361.19" y="160.38" width="5.54" height="5.53" fill="#fde725"/>
<rect x="365.93" y="160.38" width="5.54" height="5.53" fill="#dfe318"/>
<rect x="370.67" y="160.38" width="5.54" height="5.53" fill="#bddf26"/>
<rect x="375.41" y="160.38" width="5.54" height="5.53" fill="#9bd93c"/>
<rect x="380.14" y="160.38" width="5.54" height="5.53" fill="#7ad151"/>
<rect x="384.88" y="160.38" width="5.54" height="5.53" fill="#63cb5f"/>
<rect x="389.62" y="160.38" width="5.54" height="5.53" fill="#4ec36b"/>
<rect x="394.36" y="160.38" width="4.74" height="5.53" fill="#3dbc74"/>
<rect x="228.50" y="165.11" width="5.54" height="5.53" fill="#482677"/>
<rect x="233.24" y="165.11" width="5.54" height="5.53" fill="#472d7b"/>
<rect x="237.98" y="165.11" width="5.54" height="5.53" fill="#46337f"/>
<rect x="242.72" y="165.11" width="5.54" height="5.53" fill="#443983"/>
<rect x="247.46" y="165.11" width="5.54" height="5.53" fill="#423f85"/>
<rect x="252.19" y="165.11" width="5.54" height="5.53" fill="#404588"/>
<rect x="256.93" y="165.11" width="5.54" height="5.53" fill="#3e4c8a"/>
<rect x="261.67" y="165.11" width="5.54" height="5.53" fill="#3b528b"/>
<rect x="266.41" y="165.11" width="5.54" height="5.53" fill="#38588c"/>
<rect x="271.15" y="165.11" width="5.54" height="5.53" fill="#355e8d"/>
<rect x="275.89" y="165.11" width="5.54" height="5.53" fill="#32648e"/>
<rect x="280.63" y="165.11" width="5.54" height="5.53" fill="#306a8e"/>
<rect x="285.37" y="165.11" width="5.54" height="5.53" fill="#2d708e"/>
<rect x="290.11" y="165.11" width="5.54" height="5.53" fill="#2a768e"/>
<rect x="294.84" y="165.11" width="5.54" height="5.53" fill="#287d8e"/>
<rect x="299.58" y="165.11" width="5.54" height="5.53" fill="#25848e"/>
<rect x="304.32" y="165.11" width="5.54" height="5.53" fill="#228b8d"/>
<rect x="309.06" y="165.11" width="5.54" height="5.53" fill="#20928c"/>
<rect x="313.80" y="165.11" width="5.54" height="5.53" fill="#1e9b8a"/>
<rect x="318.54" y="165.11" width="5.54" height="5.53" fill="#20a386"/>
<rect x="323.28" y="165.11" width="5.54" height="5.53" fill="#25ac82"/>
<rect x="328.02" y="165.11" width="5.54" height="5.53" fill="#2fb47c"/>
<rect x="332.76" y="165.11" width="5.54" height="5.53" fill="#3dbc74"/>
<rect x="337.49" y="165.11" width="5.54" height="5.53" fill="#4ec36b"/>
<rect x="342.23" y="165.11" width="5.54" height="5.53" fill="#63cb5f"/>
<rect x="346.97" y="165.11" width="5.54" height="5.53" fill="#7ad151"/>
<rect x="351.71" y="165.11" width="5.54" height="5.53" fill="#9bd93c"/>
<rect x="356.45" y="165.11" width="5.54" height="5.53" fill="#bddf26"/>
<rect x="361.19" y="165.11" width="5.54" height="5.53" fill="#dfe318"/>
<rect x="365.93" y="165.11" width="5.54" height="5.53" fill="#fde725"/>
<rect x="370.67" y="165.11" width="5.54" height="5.53" fill="#dfe318"/>
<rect x="375.41" y="165.11" width="5.54" height="5.53" fill="#bddf26"/>
<rect x="380.14" y="165.11" width="5.54" height="5.53" fill="#9bd93c"/>
<rect x="384.88" y="165.11" width="5.54" height="5.53" fill="#7ad151"/>
<rect x="389.62" y="165.11" width="5.54" height="5.53" fill="#63cb5f"/>
<rect x="394.36" y="165.11" width="4.74" height="5.53" fill="#4ec36b"/>
<rect x="228.50" y="169.83" width="5.54" height="5.53" fill="#482173"/>
<rect x="233.24" y="169.83" width="5.54" height="5.53" fill="#482677"/>
<rect x="237.98" y="169.83" width="5.54" height="5.53" fill="#472d7b"/>
<rect x="242.72" y="169.83" width="5.54" height="5.53" fill="#46337f"/>
<rect x="247.46" y="169.83" width="5.54" height="5.53" fill="#443983"/>
<rect x="252.19" y="169.83" width="5.54" height="5.53" fill="#423f85"/>
<rect x="256.93" y="169.83" width="5.54" height="5.53" fill="#404588"/>
<rect x="261.67" y="169.83" width="5.54" height="5.53" fill="#3e4c8a"/>
<rect x="266.41" y="169.83" width="5.54" height="5.53" fill="#3b528b"/>
<rect x="271.15" y="169.83" width="5.54" height="5.53" fill="#38588c"/>
<rect x="275.89" y="169.83" width="5.54" height="5.53" fill="#355e8d"/>
<rect x="280.63" y="169.83" width="5.54" height="5.53" fill="#32648e"/>
<rect x="285.37" y="169.83" width="5.54" height="5.53" fill="#306a8e"/>
<rect x="290.11" y="169.83" width="5.54" height="5.53" fill="#2d708e"/>
<rect x="294.84" y="169.83" width="5.54" height="5.53" fill="#2a768e"/>
<rect x="299.58" y="169.83" width="5.54" height="5.53" fill="#287d8e"/>
<rect x="304.32" y="169.83" width="5.54" height="5.53" fill="#25848e"/>
<rect x="309.06" y="169.83" width="5.54" height="5.53" fill="#228b8d"/>
<rect x="313.80" y="169.83" width="5.54" height="5.53" fill="#20928c"/>
<rect x="318.54" y="169.83" width="5.54" height="5.53" fill="#1e9b8a"/>
<rect x="323.28" y="169.83" width="5.54" height="5.53" fill="#20a386"/>
<rect x="328.02" y="169.83" width="5.54" height="5.53" fill="#25ac82"/>
<rect x="332.76" y="169.83" width="5.54" height="5.53" fill="#2fb47c"/>
<rect x="337.49" y="169.83" width="5.54" height="5.53" fill="#3dbc74"/>
<rect x="342.23" y="169.83" width="5.54" height="5.53" fill="#4ec36b"/>
<rect x="346.97" y="169.83" width="5.54" height="5.53" fill="#63cb5f"/>
<rect x="351.71" y="169.83" width="5.54" height="5.53" fill="#7ad151"/>
<rect x="356.45" y="169.83" width="5.54" height="5.53" fill="#9bd93c"/>
<rect x="361.19" y="169.83" width="5.54" height="5.53" fill="#bddf26"/>
<rect x="365.93" y="169.83" width="5.54" height="5.53" fill="#dfe318"/>
<rect x="370.67" y="169.83" width="5.54" height="5.53" fill="#fde725"/>
<rect x="375.41" y="169.83" width="5.54" height="5.53" fill="#dfe318"/>
<rect x="380.14" y="169.83" width="5.54" height="5.53" fill="#bddf26"/>
<rect x="384.88" y="169.83" width="5.54" height="5.53" fill="#9bd93c"/>
<rect x="389.62" y="169.83" width="5.54" height="5.53" fill="#7ad151"/>
<rect x="394.36" y="169.83" width="4.74" height="5.53" fill="#63cb5f"/>
<rect x="228.50" y="174.56" width="5.54" height="5.53" fill="#481b6d"/>
<rect x="233.24" y="174.56" width="5.54" height="5.53" fill="#482173"/>
<rect x="237.98" y="174.56" width="5.54" height="5.53" fill="#482677"/>
<rect x="242.72" y="174.56" width="5.54" height="5.53" fill="#472d7b"/>
<rect x="247.46" y="174.56" width="5.54" height="5.53" fill="#46337f"/>
<rect x="252.19" y="174.56" width="5.54" height="5.53" fill="#443983"/>
<rect x="256.93" y="174.56" width="5.54" height="5.53" fill="#423f85"/>
<rect x="261.67" y="174.56" width="5.54" height="5.53" fill="#404588"/>
<rect x="266.41" y="174.56" width="5.54" height="5.53" fill="#3e4c8a"/>
<rect x="271.15" y="174.56" width="5.54" height="5.53" fill="#3b528b"/>
<rect x="275.89" y="174.56" width="5.54" height="5.53" fill="#38588c"/>
<rect x="280.63" y="174.56" width="5.54" height="5.53" fill="#355e8d"/>
<rect x="285.37" y="174.56" width="5.54" height="5.53" fill="#32648e"/>
<rect x="290.11" y="174.56" width="5.54" height="5.53" fill="#306a8e"/>
<rect x="294.84" y="174.56" width="5.54" height="5.53" fill="#2d708e"/>
<rect x="299.58" y="174.56" width="5.54" height="5.53" fill="#2a768e"/>
<rect x="304.32" y="174.56" width="5.54" height="5.53" fill="#287d8e"/>
<rect x="309.06" y="174.56" width="5.54" height="5.53" fill="#25848e"/>
<rect x="313.80" y="174.56" width="5.54" height="5.53" fill="#228b8d"/>
<rect x="318.54" y="174.56" width="5.54" height="5.53" fill="#20928c"/>
<rect x="323.28" y="174.56" width="5.54" height="5.53" fill="#1e9b8a"/>
<rect x="328.02" y="174.56" width="5.54" height="5.53" fill="#20a386"/>
<rect x="332.76" y="174.56" width="5.54" height="5.53" fill="#25ac82"/>
<rect x="337.49" y="174.56" width="5.54" height="5.53" fill="#2fb47c"/>
<rect x="342.23" y="174.56" width="5.54" height="5.53" fill="#3dbc74"/>
<rect x="346.97" y="174.56" width="5.54" height="5.53" fill="#4ec36b"/>
<rect x="351.71" y="174.56" width="5.54" height="5.53" fill="#63cb5f"/>
<rect x="356.45" y="174.56" width="5.54" height="5.53" fill="#7ad151"/>
<rect x="361.19" y="174.56" width="5.54" height="5.53" fill="#9bd93c"/>
<rect x="365.93" y="174.56" width="5.54" height="5.53" fill="#bddf26"/>
<rect x="370.67" y="174.56" width="5.54" height="5.53" fill="#dfe318"/>
<rect x="375.41" y="174.56" width="5.54" height="5.53" fill="#fde725"/>
<rect x="380.14" y="174.56" width="5.54" height="5.53" fill="#dfe318"/>
<rect x="384.88" y="174.56" width="5.54" height="5.53" fill="#bddf26"/>
<rect x="389.62" y="174.56" width="5.54" height="5.53" fill="#9bd93c"/>
<rect x="394.36" y="174.56" width="4.74" height="5.53" fill="#7ad151"/>
<rect x="228.50" y="179.29" width="5.54" height="5.53" fill="#481668"/>
<rect x="233.24" y="179.29" width="5.54" height="5.53" fill="#481b6d"/>
<rect x="237.98" y="179.29" width="5.54" height="5.53" fill="#482173"/>
<rect x="242.72" y="179.29" width="5.54" height="5.53" fill="#482677"/>
<rect x="247.46" y="179.29" width="5.54" height="5.53" fill="#472d7b"/>
<rect x="252.19" y="179.29" width="5.54" height="5.53" fill="#46337f"/>
<rect x="256.93" y="179.29" width="5.54" height="5.53" fill="#443983"/>
<rect x="261.67" y="179.29" width="5.54" height="5.53" fill="#423f85"/>
<rect x="266.41" y="179.29" width="5.54" height="5.53" fill="#404588"/>
<rect x="271.15" y="179.29" width="5.54" height="5.53" fill="#3e4c8a"/>
<rect x="275.89" y="179.29" width="5.54" height="5.53" fill="#3b528b"/>
<rect x="280.63" y="179.29" width="5.54" height="5.53" fill="#38588c"/>
<rect x="285.37" y="179.29" width="5.54" height="5.53" fill="#355e8d"/>
<rect x="290.11" y="179.29" width="5.54" height="5.53" fill="#32648e"/>
<rect x="294.84" y="179.29" width="5.54" height="5.53" fill="#306a8e"/>
<rect x="299.58" y="179.29" width="5.54" height="5.53" fill="#2d708e"/>
<rect x="304.32" y="179.29" width="5.54" height="5.53" fill="#2a768e"/>
<rect x="309.06" y="179.29" width="5.54" height="5.53" fill="#287d8e"/>
<rect x="313.80" y="179.29" width="5.54" height="5.53" fill="#25848e"/>
<rect x="318.54" y="179.29" width="5.54" height="5.53" fill="#228b8d"/>
<rect x="323.28" y="179.29" width="5.54" height="5.53" fill="#20928c"/>
<rect x="328.02" y="179.29" width="5.54" height="5.53" fill="#1e9b8a"/>
<rect x="332.76" y="179.29" width="5.54" height="5.53" fill="#20a386"/>
<rect x="337.49" y="179.29" width="5.54" height="5.53" fill="#25ac82"/>
<rect x="342.23" y="179.29" width="5.54" height="5.53" fill="#2fb47c"/>
<rect x="346.97" y="179.29" width="5.54" height="5.53" fill="#3dbc74"/>
<rect x="351.71" y="179.29" width="5.54" height="5.53" fill="#4ec36b"/>
<rect x="356.45" y="179.29" width="5.54" height="5.53" fill="#63cb5f"/>
<rect x="361.19" y="179.29" width="5.54" height="5.53" fill="#7ad151"/>
<rect x="365.93" y="179.29" width="5.54" height="5.53" fill="#9bd93c"/>
<rect x="370.67" y="179.29" width="5.54" height="5.53" fill="#bddf26"/>
<rect x="375.41" y="179.29" width="5.54" height="5.53" fill="#dfe318"/>
<rect x="380.14" y="179.29" width="5.54" height="5.53" fill="#fde725"/>
<rect x="384.88" y="179.29" width="5.54" height="5.53" fill="#dfe318"/>
<rect x="389.62" y="179.29" width="5.54" height="5.53" fill="#bddf26"/>
<rect x="394.36" y="179.29" width="4.74" height="5.53" fill="#9bd93c"/>
<rect x="228.50" y="184.02" width="5.54" height="5.53" fill="#471063"/>
<rect x="233.24" y="184.02" width="5.54" height="5.53" fill="#481668"/>
<rect x="237.98" y="184.02" width="5.54" height="5.53" fill="#481b6d"/>
<rect x="242.72" y="184.02" width="5.54" height="5.53" fill="#482173"/>
<rect x="247.46" y="184.02" width="5.54" height="5.53" fill="#482677"/>
<rect x="252.19" y="184.02" width="5.54" height="5.53" fill="#472d7b"/>
<rect x="256.93" y="184.02" width="5.54" height="5.53" fill="#46337f"/>
<rect x="261.67" y="184.02" width="5.54" height="5.53" fill="#443983"/>
<rect x="266.41" y="184.02" width="5.54" height="5.53" fill="#423f85"/>
<rect x="271.15" y="184.02" width="5.54" height="5.53" fill="#404588"/>
<rect x="275.89" y="184.02" width="5.54" height="5.53" fill="#3e4c8a"/>
<rect x="280.63" y="184.02" width="5.54" height="5.53" fill="#3b528b"/>
<rect x="285.37" y="184.02" width="5.54" height="5.53" fill="#38588c"/>
<rect x="290.11" y="184.02" width="5.54" height="5.53" fill="#355e8d"/>
<rect x="294.84" y="184.02" width="5.54" height="5.53" fill="#32648e"/>
<rect x="299.58" y="184.02" width="5.54" height="5.53" fill="#306a8e"/>
<rect x="304.32" y="184.02" width="5.54" height="5.53" fill="#2d708e"/>
<rect x="309.06" y="184.02" width="5.54" height="5.53" fill="#2a768e"/>
<rect x="313.80" y="184.02" width="5.54" height="5.53" fill="#287d8e"/>
<rect x="318.54" y="184.02" width="5.54" height="5.53" fill="#25848e"/>
<rect x="323.28" y="184.02" width="5.54" height="5.53" fill="#228b8d"/>
<rect x="328.02" y="184.02" width="5.54" height="5.53" fill="#20928c"/>
<rect x="332.76" y="184.02" width="5.54" height="5.53" fill="#1e9b8a"/>
<rect x="337.49" y="184.02" width="5.54" height="5.53" fill="#20a386"/>
<rect x="342.23" y="184.02" width="5.54" height="5.53" fill="#25ac82"/>
<rect x="346.97" y="184.02" width="5.54" height="5.53" fill="#2fb47c"/>
<rect x="351.71" y="184.02" width="5.54" height="5.53" fill="#3dbc74"/>
<rect x="356.45" y="184.02" width="5.54" height="5.53" fill="#4ec36b"/>
<rect x="361.19" y="184.02" width="5.54" height="5.53" fill="#63cb5f"/>
<rect x="365.93" y="184.02" width="5.54" height="5.53" fill="#7ad151"/>
<rect x="370.67" y="184.02" width="5.54" height="5.53" fill="#9bd93c"/>
<rect x="375.41" y="184.02" width="5.54" height="5.53" fill="#bddf26"/>
<rect x="380.14" y="184.02" width="5.54" height="5.53" fill="#dfe318"/>
<rect x="384.88" y="184.02" width="5.54" height="5.53" fill="#fde725"/>
<rect x="389.62" y="184.02" width="5.54" height="5.53" fill="#dfe318"/>
<rect x="394.36" y="184.02" width="4.74" height="5.53" fill="#bddf26"/>
<rect x="228.50" y="188.74" width="5.54" height="5.53" fill="#46085c"/>
<rect x="233.24" y="188.74" width="5.54" height="5.53" fill="#471063"/>
<rect x="237.98" y="188.74" width="5.54" height="5.53" fill="#481668"/>
<rect x="242.72" y="188.74" width="5.54" height="5.53" fill="#481b6d"/>
<rect x="247.46" y="188.74" width="5.54" height="5.53" fill="#482173"/>
<rect x="252.19" y="188.74" width="5.54" height="5.53" fill="#482677"/>
<rect x="256.93" y="188.74" width="5.54" height="5.53" fill="#472d7b"/>
<rect x="261.67" y="188.74" width="5.54" height="5.53" fill="#46337f"/>
<rect x="266.41" y="188.74" width="5.54" height="5.53" fill="#443983"/>
<rect x="271.15" y="188.74" width="5.54" height="5.53" fill="#423f85"/>
<rect x="275.89" y="188.74" width="5.54" height="5.53" fill="#404588"/>
<rect x="280.63" y="188.74" width="5.54" height="5.53" fill="#3e4c8a"/>
<rect x="285.37" y="188.74" width="5.54" height="5.53" fill="#3b528b"/>
<rect x="290.11" y="188.74" width="5.54" height="5.53" fill="#38588c"/>
<rect x="294.84" y="188.74" width="5.54" height="5.53" fill="#355e8d"/>
<rect x="299.58" y="188.74" width="5.54" height="5.53" fill="#32648e"/>
<rect x="304.32" y="188.74" width="5.54" height="5.53" fill="#306a8e"/>
<rect x="309.06" y="188.74" width="5.54" height="5.53" fill="#2d708e"/>
<rect x="313.80" y="188.74" width="5.54" height="5.53" fill="#2a768e"/>
<rect x="318.54" y="188.74" width="5.54" height="5.53" fill="#287d8e"/>
<rect x="323.28" y="188.74" width="5.54" height="5.53" fill="#25848e"/>
<rect x="328.02" y="188.74" width="5.54" height="5.53" fill="#228b8d"/>
<rect x="332.76" y="188.74" width="5.54" height="5.53" fill="#20928c"/>
<rect x="337.49" y="188.74" width="5.54" height="5.53" fill="#1e9b8a"/>
<rect x="342.23" y="188.74" width="5.54" height="5.53" fill="#20a386"/>
<rect x="346.97" y="188.74" width="5.54" height="5.53" fill="#25ac82"/>
<rect x="351.71" y="188.74" width="5.54" height="5.53" fill="#2fb47c"/>
<rect x="356.45" y="188.74" width="5.54" height="5.53" fill="#3dbc74"/>
<rect x="361.19" y="188.74" width="5.54" height="5.53" fill="#4ec36b"/>
<rect x="365.93" y="188.74" width="5.54" height="5.53" fill="#63cb5f"/>
<rect x="370.67" y="188.74" width="5.54" height="5.53" fill="#7ad151"/>
<rect x="375.41" y="188.74" width="5.54" height="5.53" fill="#9bd93c"/>
<rect x="380.14" y="188.74" width="5.54" height="5.53" fill="#bddf26"/>
<rect x="384.88" y="188.74" width="5.54" height="5.53" fill="#dfe318"/>
<rect x="389.62" y="188.74" width="5.54" height="5.53" fill="#fde725"/>
<rect x="394.36" y="188.74" width="4.74" height="5.53" fill="#dfe318"/>
<rect x="228.50" y="193.47" width="5.54" height="4.73" fill="#440154"/>
<rect x="233.24" y="193.47" width="5.54" height="4.73" fill="#46085c"/>
<rect x="237.98" y="193.47" width="5.54" height="4.73" fill="#471063"/>
<rect x="242.72" y="193.47" width="5.54" height="4.73" fill="#481668"/>
<rect x="247.46" y="193.47" width="5.54" height="4.73" fill="#481b6d"/>
<rect x="252.19" y="193.47" width="5.54" height="4.73" fill="#482173"/>
<rect x="256.93" y="193.47" width="5.54" height="4.73" fill="#482677"/>
<rect x="261.67" y="193.47" width="5.54" height="4.73" fill="#472d7b"/>
<rect x="266.41" y="193.47" width="5.54" height="4.73" fill="#46337f"/>
<rect x="271.15" y="193.47" width="5.54" height="4.73" fill="#443983"/>
<rect x="275.89" y="193.47" width="5.54" height="4.73" fill="#423f85"/>
<rect x="280.63" y="193.47" width="5.54" height="4.73" fill="#404588"/>
<rect x="285.37" y="193.47" width="5.54" height="4.73" fill="#3e4c8a"/>
<rect x="290.11" y="193.47" width="5.54" height="4.73" fill="#3b528b"/>
<rect x="294.84" y="193.47" width="5.54" height="4.73" fill="#38588c"/>
<rect x="299.58" y="193.47" width="5.54" height="4.73" fill="#355e8d"/>
<rect x="304.32" y="193.47" width="5.54" height="4.73" fill="#32648e"/>
<rect x="309.06" y="193.47" width="5.54" height="4.73" fill="#306a8e"/>
<rect x="313.80" y="193.47" width="5.54" height="4.73" fill="#2d708e"/>
<rect x="318.54" y="193.47" width="5.54" height="4.73" fill="#2a768e"/>
<rect x="323.28" y="193.47" width="5.54" height="4.73" fill="#287d8e"/>
<rect x="328.02" y="193.47" width="5.54" height="4.73" fill="#25848e"/>
<rect x="332.76" y="193.47" width="5.54" height="4.73" fill="#228b8d"/>
<rect x="337.49" y="193.47" width="5.54" height="4.73" fill="#20928c"/>
<rect x="342.23" y="193.47" width="5.54" height="4.73" fill="#1e9b8a"/>
<rect x="346.97" y="193.47" width="5.54" height="4.73" fill="#20a386"/>
<rect x="351.71" y="193.47" width="5.54" height="4.73" fill="#25ac82"/>
<rect x="356.45" y="193.47" width="5.54" height="4.73" fill="#2fb47c"/>
<rect x="361.19" y="193.47" width="5.54" height="4.73" fill="#3dbc74"/>
<rect x="365.93" y="193.47" width="5.54" height="4.73" fill="#4ec36b"/>
<rect x="370.67" y="193.47" width="5.54" height="4.73" fill="#63cb5f"/>
<rect x="375.41" y="193.47" width="5.54" height="4.73" fill="#7ad151"/>
<rect x="380.14" y="193.47" width="5.54" height="4.73" fill="#9bd93c"/>
<rect x="384.88" y="193.47" width="5.54" height="4.73" fill="#bddf26"/>
<rect x="389.62" y="193.47" width="5.54" height="4.73" fill="#dfe318"/>
<rect x="394.36" y="193.47" width="4.74" height="4.73" fill="#fde725"/>
<rect x="228.5" y="28.0" width="170.6" height="170.2" fill="none" stroke="#777" stroke-width="0.5"/>
<path d="M254.56,28.00v1.7M254.56,198.20v-1.7M228.50,54.00h1.7M399.10,54.00h-1.7M283.00,28.00v1.7M283.00,198.20v-1.7M228.50,82.37h1.7M399.10,82.37h-1.7M311.43,28.00v1.7M311.43,198.20v-1.7M228.50,110.74h1.7M399.10,110.74h-1.7M339.86,28.00v1.7M339.86,198.20v-1.7M228.50,139.10h1.7M399.10,139.10h-1.7M368.30,28.00v1.7M368.30,198.20v-1.7M228.50,167.47h1.7M399.10,167.47h-1.7" stroke="#333" stroke-width="0.6" fill="none"/>
<defs><linearGradient id="vg1" x1="0" y1="0" x2="0" y2="1"><stop offset="0.0000" stop-color="#440154"/><stop offset="0.0435" stop-color="#471164"/><stop offset="0.0870" stop-color="#482071"/><stop offset="0.1304" stop-color="#472e7c"/><stop offset="0.1739" stop-color="#443b84"/><stop offset="0.2174" stop-color="#3f4889"/><stop offset="0.2609" stop-color="#3a548c"/><stop offset="0.3043" stop-color="#34608d"/><stop offset="0.3478" stop-color="#2f6c8e"/><stop offset="0.3913" stop-color="#2a768e"/><stop offset="0.4348" stop-color="#26818e"/><stop offset="0.4783" stop-color="#228b8d"/><stop offset="0.5217" stop-color="#1f958b"/><stop offset="0.5652" stop-color="#1fa088"/><stop offset="0.6087" stop-color="#24aa83"/><stop offset="0.6522" stop-color="#2fb47c"/><stop offset="0.6957" stop-color="#42be71"/><stop offset="0.7391" stop-color="#58c765"/><stop offset="0.7826" stop-color="#70cf57"/><stop offset="0.8261" stop-color="#8bd646"/><stop offset="0.8696" stop-color="#a8db34"/><stop offset="0.9130" stop-color="#c5e021"/><stop offset="0.9565" stop-color="#e2e418"/><stop offset="1.0000" stop-color="#fde725"/></linearGradient></defs><rect x="405.90" y="27.50" width="8.60" height="170.00" fill="url(#vg1)" stroke="#bbb" stroke-width="0.4"/>
<text x="314.5" y="11.8" font-size="9" text-anchor="middle" textLength="60.7" lengthAdjust="spacingAndGlyphs" fill="#000" >Time(arb.units)</text>
<text x="254.56" y="23.6" font-size="8.2" text-anchor="middle" fill="#000" >6</text>
<text x="226.2" y="57.06" font-size="8.2" text-anchor="end" fill="#000" >6</text>
<text x="283.00" y="23.6" font-size="8.2" text-anchor="middle" fill="#000" >12</text>
<text x="226.2" y="85.50" font-size="8.2" text-anchor="end" fill="#000" >12</text>
<text x="311.43" y="23.6" font-size="8.2" text-anchor="middle" fill="#000" >18</text>
<text x="226.2" y="113.93" font-size="8.2" text-anchor="end" fill="#000" >18</text>
<text x="339.86" y="23.6" font-size="8.2" text-anchor="middle" fill="#000" >24</text>
<text x="226.2" y="142.36" font-size="8.2" text-anchor="end" fill="#000" >24</text>
<text x="368.30" y="23.6" font-size="8.2" text-anchor="middle" fill="#000" >30</text>
<text x="226.2" y="170.80" font-size="8.2" text-anchor="end" fill="#000" >30</text>
<text x="396.73" y="23.6" font-size="8.2" text-anchor="middle" fill="#000" >36</text>
<text x="226.2" y="199.23" font-size="8.2" text-anchor="end" fill="#000" >36</text>
<text transform="translate(212.6,112.3) rotate(-90)" x="0" y="0" font-size="9" text-anchor="middle" textLength="62" lengthAdjust="spacingAndGlyphs">Time(arb.units)</text>
<text transform="translate(424.3,52.1) rotate(-90)" x="0" y="0" font-size="8" text-anchor="middle" textLength="50" lengthAdjust="spacingAndGlyphs" fill="#222">More dissimilar</text>
<text transform="translate(424.3,178.5) rotate(-90)" x="0" y="0" font-size="8" text-anchor="middle" textLength="41.3" lengthAdjust="spacingAndGlyphs" fill="#222">More similar</text>
<line x1="422.5" y1="85" x2="422.5" y2="151" stroke="#333" stroke-width="0.7"/>
<path d="M420.7,86.6 L422.5,82.4 L424.3,86.6 L422.5,85.6 Z" fill="#111"/>
<path d="M420.7,149.2 L422.5,153.4 L424.3,149.2 L422.5,150.2 Z" fill="#111"/>
<text x="449.5" y="9.1" font-size="11.5" font-weight="bold" fill="#000" >c.</text>
<rect x="489.30" y="27.40" width="5.53" height="5.52" fill="#fde725"/>
<rect x="494.03" y="27.40" width="5.53" height="5.52" fill="#c2df23"/>
<rect x="498.76" y="27.40" width="5.53" height="5.52" fill="#9bd93c"/>
<rect x="503.49" y="27.40" width="5.53" height="5.52" fill="#7ad151"/>
<rect x="508.22" y="27.40" width="5.53" height="5.52" fill="#63cb5f"/>
<rect x="512.95" y="27.40" width="5.53" height="5.52" fill="#4ec36b"/>
<rect x="517.68" y="27.40" width="5.53" height="5.52" fill="#28ae80"/>
<rect x="522.41" y="27.40" width="5.53" height="5.52" fill="#21a685"/>
<rect x="527.14" y="27.40" width="5.53" height="5.52" fill="#1f9e89"/>
<rect x="531.88" y="27.40" width="5.53" height="5.52" fill="#1f958b"/>
<rect x="536.61" y="27.40" width="5.53" height="5.52" fill="#228d8d"/>
<rect x="541.34" y="27.40" width="5.53" height="5.52" fill="#25848e"/>
<rect x="546.07" y="27.40" width="5.53" height="5.52" fill="#20928c"/>
<rect x="550.80" y="27.40" width="5.53" height="5.52" fill="#228d8d"/>
<rect x="555.53" y="27.40" width="5.53" height="5.52" fill="#24878e"/>
<rect x="560.26" y="27.40" width="5.53" height="5.52" fill="#26828e"/>
<rect x="564.99" y="27.40" width="5.53" height="5.52" fill="#297b8e"/>
<rect x="569.72" y="27.40" width="5.53" height="5.52" fill="#2b758e"/>
<rect x="574.45" y="27.40" width="5.53" height="5.52" fill="#26828e"/>
<rect x="579.18" y="27.40" width="5.53" height="5.52" fill="#297a8e"/>
<rect x="583.91" y="27.40" width="5.53" height="5.52" fill="#2c738e"/>
<rect x="588.64" y="27.40" width="5.53" height="5.52" fill="#2f6c8e"/>
<rect x="593.37" y="27.40" width="5.53" height="5.52" fill="#32648e"/>
<rect x="598.10" y="27.40" width="5.53" height="5.52" fill="#365d8d"/>
<rect x="602.83" y="27.40" width="5.53" height="5.52" fill="#2c738e"/>
<rect x="607.56" y="27.40" width="5.53" height="5.52" fill="#2f6b8e"/>
<rect x="612.29" y="27.40" width="5.53" height="5.52" fill="#33628d"/>
<rect x="617.02" y="27.40" width="5.53" height="5.52" fill="#375a8c"/>
<rect x="621.76" y="27.40" width="5.53" height="5.52" fill="#3c508b"/>
<rect x="626.49" y="27.40" width="5.53" height="5.52" fill="#404688"/>
<rect x="631.22" y="27.40" width="5.53" height="5.52" fill="#306a8e"/>
<rect x="635.95" y="27.40" width="5.53" height="5.52" fill="#355f8d"/>
<rect x="640.68" y="27.40" width="5.53" height="5.52" fill="#3a548c"/>
<rect x="645.41" y="27.40" width="5.53" height="5.52" fill="#3e4989"/>
<rect x="650.14" y="27.40" width="5.53" height="5.52" fill="#433e85"/>
<rect x="654.87" y="27.40" width="4.73" height="5.52" fill="#46307e"/>
<rect x="489.30" y="32.12" width="5.53" height="5.52" fill="#c2df23"/>
<rect x="494.03" y="32.12" width="5.53" height="5.52" fill="#fde725"/>
<rect x="498.76" y="32.12" width="5.53" height="5.52" fill="#c2df23"/>
<rect x="503.49" y="32.12" width="5.53" height="5.52" fill="#9bd93c"/>
<rect x="508.22" y="32.12" width="5.53" height="5.52" fill="#7ad151"/>
<rect x="512.95" y="32.12" width="5.53" height="5.52" fill="#63cb5f"/>
<rect x="517.68" y="32.12" width="5.53" height="5.52" fill="#32b67a"/>
<rect x="522.41" y="32.12" width="5.53" height="5.52" fill="#28ae80"/>
<rect x="527.14" y="32.12" width="5.53" height="5.52" fill="#21a685"/>
<rect x="531.88" y="32.12" width="5.53" height="5.52" fill="#1f9e89"/>
<rect x="536.61" y="32.12" width="5.53" height="5.52" fill="#1f958b"/>
<rect x="541.34" y="32.12" width="5.53" height="5.52" fill="#228d8d"/>
<rect x="546.07" y="32.12" width="5.53" height="5.52" fill="#20928c"/>
<rect x="550.80" y="32.12" width="5.53" height="5.52" fill="#228d8d"/>
<rect x="555.53" y="32.12" width="5.53" height="5.52" fill="#24878e"/>
<rect x="560.26" y="32.12" width="5.53" height="5.52" fill="#26828e"/>
<rect x="564.99" y="32.12" width="5.53" height="5.52" fill="#297b8e"/>
<rect x="569.72" y="32.12" width="5.53" height="5.52" fill="#2b758e"/>
<rect x="574.45" y="32.12" width="5.53" height="5.52" fill="#26828e"/>
<rect x="579.18" y="32.12" width="5.53" height="5.52" fill="#297a8e"/>
<rect x="583.91" y="32.12" width="5.53" height="5.52" fill="#2c738e"/>
<rect x="588.64" y="32.12" width="5.53" height="5.52" fill="#2f6c8e"/>
<rect x="593.37" y="32.12" width="5.53" height="5.52" fill="#32648e"/>
<rect x="598.10" y="32.12" width="5.53" height="5.52" fill="#365d8d"/>
<rect x="602.83" y="32.12" width="5.53" height="5.52" fill="#2c738e"/>
<rect x="607.56" y="32.12" width="5.53" height="5.52" fill="#2f6b8e"/>
<rect x="612.29" y="32.12" width="5.53" height="5.52" fill="#33628d"/>
<rect x="617.02" y="32.12" width="5.53" height="5.52" fill="#375a8c"/>
<rect x="621.76" y="32.12" width="5.53" height="5.52" fill="#3c508b"/>
<rect x="626.49" y="32.12" width="5.53" height="5.52" fill="#404688"/>
<rect x="631.22" y="32.12" width="5.53" height="5.52" fill="#306a8e"/>
<rect x="635.95" y="32.12" width="5.53" height="5.52" fill="#355f8d"/>
<rect x="640.68" y="32.12" width="5.53" height="5.52" fill="#3a548c"/>
<rect x="645.41" y="32.12" width="5.53" height="5.52" fill="#3e4989"/>
<rect x="650.14" y="32.12" width="5.53" height="5.52" fill="#433e85"/>
<rect x="654.87" y="32.12" width="4.73" height="5.52" fill="#46307e"/>
<rect x="489.30" y="36.84" width="5.53" height="5.52" fill="#9bd93c"/>
<rect x="494.03" y="36.84" width="5.53" height="5.52" fill="#c2df23"/>
<rect x="498.76" y="36.84" width="5.53" height="5.52" fill="#fde725"/>
<rect x="503.49" y="36.84" width="5.53" height="5.52" fill="#c2df23"/>
<rect x="508.22" y="36.84" width="5.53" height="5.52" fill="#9bd93c"/>
<rect x="512.95" y="36.84" width="5.53" height="5.52" fill="#7ad151"/>
<rect x="517.68" y="36.84" width="5.53" height="5.52" fill="#40bd72"/>
<rect x="522.41" y="36.84" width="5.53" height="5.52" fill="#32b67a"/>
<rect x="527.14" y="36.84" width="5.53" height="5.52" fill="#28ae80"/>
<rect x="531.88" y="36.84" width="5.53" height="5.52" fill="#21a685"/>
<rect x="536.61" y="36.84" width="5.53" height="5.52" fill="#1f9e89"/>
<rect x="541.34" y="36.84" width="5.53" height="5.52" fill="#1f958b"/>
<rect x="546.07" y="36.84" width="5.53" height="5.52" fill="#20928c"/>
<rect x="550.80" y="36.84" width="5.53" height="5.52" fill="#228d8d"/>
<rect x="555.53" y="36.84" width="5.53" height="5.52" fill="#24878e"/>
<rect x="560.26" y="36.84" width="5.53" height="5.52" fill="#26828e"/>
<rect x="564.99" y="36.84" width="5.53" height="5.52" fill="#297b8e"/>
<rect x="569.72" y="36.84" width="5.53" height="5.52" fill="#2b758e"/>
<rect x="574.45" y="36.84" width="5.53" height="5.52" fill="#26828e"/>
<rect x="579.18" y="36.84" width="5.53" height="5.52" fill="#297a8e"/>
<rect x="583.91" y="36.84" width="5.53" height="5.52" fill="#2c738e"/>
<rect x="588.64" y="36.84" width="5.53" height="5.52" fill="#2f6c8e"/>
<rect x="593.37" y="36.84" width="5.53" height="5.52" fill="#32648e"/>
<rect x="598.10" y="36.84" width="5.53" height="5.52" fill="#365d8d"/>
<rect x="602.83" y="36.84" width="5.53" height="5.52" fill="#2c738e"/>
<rect x="607.56" y="36.84" width="5.53" height="5.52" fill="#2f6b8e"/>
<rect x="612.29" y="36.84" width="5.53" height="5.52" fill="#33628d"/>
<rect x="617.02" y="36.84" width="5.53" height="5.52" fill="#375a8c"/>
<rect x="621.76" y="36.84" width="5.53" height="5.52" fill="#3c508b"/>
<rect x="626.49" y="36.84" width="5.53" height="5.52" fill="#404688"/>
<rect x="631.22" y="36.84" width="5.53" height="5.52" fill="#306a8e"/>
<rect x="635.95" y="36.84" width="5.53" height="5.52" fill="#355f8d"/>
<rect x="640.68" y="36.84" width="5.53" height="5.52" fill="#3a548c"/>
<rect x="645.41" y="36.84" width="5.53" height="5.52" fill="#3e4989"/>
<rect x="650.14" y="36.84" width="5.53" height="5.52" fill="#433e85"/>
<rect x="654.87" y="36.84" width="4.73" height="5.52" fill="#46307e"/>
<rect x="489.30" y="41.57" width="5.53" height="5.52" fill="#7ad151"/>
<rect x="494.03" y="41.57" width="5.53" height="5.52" fill="#9bd93c"/>
<rect x="498.76" y="41.57" width="5.53" height="5.52" fill="#c2df23"/>
<rect x="503.49" y="41.57" width="5.53" height="5.52" fill="#fde725"/>
<rect x="508.22" y="41.57" width="5.53" height="5.52" fill="#c2df23"/>
<rect x="512.95" y="41.57" width="5.53" height="5.52" fill="#9bd93c"/>
<rect x="517.68" y="41.57" width="5.53" height="5.52" fill="#52c569"/>
<rect x="522.41" y="41.57" width="5.53" height="5.52" fill="#40bd72"/>
<rect x="527.14" y="41.57" width="5.53" height="5.52" fill="#32b67a"/>
<rect x="531.88" y="41.57" width="5.53" height="5.52" fill="#28ae80"/>
<rect x="536.61" y="41.57" width="5.53" height="5.52" fill="#21a685"/>
<rect x="541.34" y="41.57" width="5.53" height="5.52" fill="#1f9e89"/>
<rect x="546.07" y="41.57" width="5.53" height="5.52" fill="#20928c"/>
<rect x="550.80" y="41.57" width="5.53" height="5.52" fill="#228d8d"/>
<rect x="555.53" y="41.57" width="5.53" height="5.52" fill="#24878e"/>
<rect x="560.26" y="41.57" width="5.53" height="5.52" fill="#26828e"/>
<rect x="564.99" y="41.57" width="5.53" height="5.52" fill="#297b8e"/>
<rect x="569.72" y="41.57" width="5.53" height="5.52" fill="#2b758e"/>
<rect x="574.45" y="41.57" width="5.53" height="5.52" fill="#26828e"/>
<rect x="579.18" y="41.57" width="5.53" height="5.52" fill="#297a8e"/>
<rect x="583.91" y="41.57" width="5.53" height="5.52" fill="#2c738e"/>
<rect x="588.64" y="41.57" width="5.53" height="5.52" fill="#2f6c8e"/>
<rect x="593.37" y="41.57" width="5.53" height="5.52" fill="#32648e"/>
<rect x="598.10" y="41.57" width="5.53" height="5.52" fill="#365d8d"/>
<rect x="602.83" y="41.57" width="5.53" height="5.52" fill="#2c738e"/>
<rect x="607.56" y="41.57" width="5.53" height="5.52" fill="#2f6b8e"/>
<rect x="612.29" y="41.57" width="5.53" height="5.52" fill="#33628d"/>
<rect x="617.02" y="41.57" width="5.53" height="5.52" fill="#375a8c"/>
<rect x="621.76" y="41.57" width="5.53" height="5.52" fill="#3c508b"/>
<rect x="626.49" y="41.57" width="5.53" height="5.52" fill="#404688"/>
<rect x="631.22" y="41.57" width="5.53" height="5.52" fill="#306a8e"/>
<rect x="635.95" y="41.57" width="5.53" height="5.52" fill="#355f8d"/>
<rect x="640.68" y="41.57" width="5.53" height="5.52" fill="#3a548c"/>
<rect x="645.41" y="41.57" width="5.53" height="5.52" fill="#3e4989"/>
<rect x="650.14" y="41.57" width="5.53" height="5.52" fill="#433e85"/>
<rect x="654.87" y="41.57" width="4.73" height="5.52" fill="#46307e"/>
<rect x="489.30" y="46.29" width="5.53" height="5.52" fill="#63cb5f"/>
<rect x="494.03" y="46.29" width="5.53" height="5.52" fill="#7ad151"/>
<rect x="498.76" y="46.29" width="5.53" height="5.52" fill="#9bd93c"/>
<rect x="503.49" y="46.29" width="5.53" height="5.52" fill="#c2df23"/>
<rect x="508.22" y="46.29" width="5.53" height="5.52" fill="#fde725"/>
<rect x="512.95" y="46.29" width="5.53" height="5.52" fill="#c2df23"/>
<rect x="517.68" y="46.29" width="5.53" height="5.52" fill="#6ccd5a"/>
<rect x="522.41" y="46.29" width="5.53" height="5.52" fill="#52c569"/>
<rect x="527.14" y="46.29" width="5.53" height="5.52" fill="#40bd72"/>
<rect x="531.88" y="46.29" width="5.53" height="5.52" fill="#32b67a"/>
<rect x="536.61" y="46.29" width="5.53" height="5.52" fill="#28ae80"/>
<rect x="541.34" y="46.29" width="5.53" height="5.52" fill="#21a685"/>
<rect x="546.07" y="46.29" width="5.53" height="5.52" fill="#20928c"/>
<rect x="550.80" y="46.29" width="5.53" height="5.52" fill="#228d8d"/>
<rect x="555.53" y="46.29" width="5.53" height="5.52" fill="#24878e"/>
<rect x="560.26" y="46.29" width="5.53" height="5.52" fill="#26828e"/>
<rect x="564.99" y="46.29" width="5.53" height="5.52" fill="#297b8e"/>
<rect x="569.72" y="46.29" width="5.53" height="5.52" fill="#2b758e"/>
<rect x="574.45" y="46.29" width="5.53" height="5.52" fill="#26828e"/>
<rect x="579.18" y="46.29" width="5.53" height="5.52" fill="#297a8e"/>
<rect x="583.91" y="46.29" width="5.53" height="5.52" fill="#2c738e"/>
<rect x="588.64" y="46.29" width="5.53" height="5.52" fill="#2f6c8e"/>
<rect x="593.37" y="46.29" width="5.53" height="5.52" fill="#32648e"/>
<rect x="598.10" y="46.29" width="5.53" height="5.52" fill="#365d8d"/>
<rect x="602.83" y="46.29" width="5.53" height="5.52" fill="#2c738e"/>
<rect x="607.56" y="46.29" width="5.53" height="5.52" fill="#2f6b8e"/>
<rect x="612.29" y="46.29" width="5.53" height="5.52" fill="#33628d"/>
<rect x="617.02" y="46.29" width="5.53" height="5.52" fill="#375a8c"/>
<rect x="621.76" y="46.29" width="5.53" height="5.52" fill="#3c508b"/>
<rect x="626.49" y="46.29" width="5.53" height="5.52" fill="#404688"/>
<rect x="631.22" y="46.29" width="5.53" height="5.52" fill="#306a8e"/>
<rect x="635.95" y="46.29" width="5.53" height="5.52" fill="#355f8d"/>
<rect x="640.68" y="46.29" width="5.53" height="5.52" fill="#3a548c"/>
<rect x="645.41" y="46.29" width="5.53" height="5.52" fill="#3e4989"/>
<rect x="650.14" y="46.29" width="5.53" height="5.52" fill="#433e85"/>
<rect x="654.87" y="46.29" width="4.73" height="5.52" fill="#46307e"/>
<rect x="489.30" y="51.01" width="5.53" height="5.52" fill="#4ec36b"/>
<rect x="494.03" y="51.01" width="5.53" height="5.52" fill="#63cb5f"/>
<rect x="498.76" y="51.01" width="5.53" height="5.52" fill="#7ad151"/>
<rect x="503.49" y="51.01" width="5.53" height="5.52" fill="#9bd93c"/>
<rect x="508.22" y="51.01" width="5.53" height="5.52" fill="#c2df23"/>
<rect x="512.95" y="51.01" width="5.53" height="5.52" fill="#fde725"/>
<rect x="517.68" y="51.01" width="5.53" height="5.52" fill="#8ed645"/>
<rect x="522.41" y="51.01" width="5.53" height="5.52" fill="#6ccd5a"/>
<rect x="527.14" y="51.01" width="5.53" height="5.52" fill="#52c569"/>
<rect x="531.88" y="51.01" width="5.53" height="5.52" fill="#40bd72"/>
<rect x="536.61" y="51.01" width="5.53" height="5.52" fill="#32b67a"/>
<rect x="541.34" y="51.01" width="5.53" height="5.52" fill="#28ae80"/>
<rect x="546.07" y="51.01" width="5.53" height="5.52" fill="#20928c"/>
<rect x="550.80" y="51.01" width="5.53" height="5.52" fill="#228d8d"/>
<rect x="555.53" y="51.01" width="5.53" height="5.52" fill="#24878e"/>
<rect x="560.26" y="51.01" width="5.53" height="5.52" fill="#26828e"/>
<rect x="564.99" y="51.01" width="5.53" height="5.52" fill="#297b8e"/>
<rect x="569.72" y="51.01" width="5.53" height="5.52" fill="#2b758e"/>
<rect x="574.45" y="51.01" width="5.53" height="5.52" fill="#26828e"/>
<rect x="579.18" y="51.01" width="5.53" height="5.52" fill="#297a8e"/>
<rect x="583.91" y="51.01" width="5.53" height="5.52" fill="#2c738e"/>
<rect x="588.64" y="51.01" width="5.53" height="5.52" fill="#2f6c8e"/>
<rect x="593.37" y="51.01" width="5.53" height="5.52" fill="#32648e"/>
<rect x="598.10" y="51.01" width="5.53" height="5.52" fill="#365d8d"/>
<rect x="602.83" y="51.01" width="5.53" height="5.52" fill="#2c738e"/>
<rect x="607.56" y="51.01" width="5.53" height="5.52" fill="#2f6b8e"/>
<rect x="612.29" y="51.01" width="5.53" height="5.52" fill="#33628d"/>
<rect x="617.02" y="51.01" width="5.53" height="5.52" fill="#375a8c"/>
<rect x="621.76" y="51.01" width="5.53" height="5.52" fill="#3c508b"/>
<rect x="626.49" y="51.01" width="5.53" height="5.52" fill="#404688"/>
<rect x="631.22" y="51.01" width="5.53" height="5.52" fill="#306a8e"/>
<rect x="635.95" y="51.01" width="5.53" height="5.52" fill="#355f8d"/>
<rect x="640.68" y="51.01" width="5.53" height="5.52" fill="#3a548c"/>
<rect x="645.41" y="51.01" width="5.53" height="5.52" fill="#3e4989"/>
<rect x="650.14" y="51.01" width="5.53" height="5.52" fill="#433e85"/>
<rect x="654.87" y="51.01" width="4.73" height="5.52" fill="#46307e"/>
<rect x="489.30" y="55.73" width="5.53" height="5.52" fill="#28ae80"/>
<rect x="494.03" y="55.73" width="5.53" height="5.52" fill="#32b67a"/>
<rect x="498.76" y="55.73" width="5.53" height="5.52" fill="#40bd72"/>
<rect x="503.49" y="55.73" width="5.53" height="5.52" fill="#52c569"/>
<rect x="508.22" y="55.73" width="5.53" height="5.52" fill="#6ccd5a"/>
<rect x="512.95" y="55.73" width="5.53" height="5.52" fill="#8ed645"/>
<rect x="517.68" y="55.73" width="5.53" height="5.52" fill="#fde725"/>
<rect x="522.41" y="55.73" width="5.53" height="5.52" fill="#c2df23"/>
<rect x="527.14" y="55.73" width="5.53" height="5.52" fill="#9bd93c"/>
<rect x="531.88" y="55.73" width="5.53" height="5.52" fill="#7ad151"/>
<rect x="536.61" y="55.73" width="5.53" height="5.52" fill="#63cb5f"/>
<rect x="541.34" y="55.73" width="5.53" height="5.52" fill="#4ec36b"/>
<rect x="546.07" y="55.73" width="5.53" height="5.52" fill="#28ae80"/>
<rect x="550.80" y="55.73" width="5.53" height="5.52" fill="#21a685"/>
<rect x="555.53" y="55.73" width="5.53" height="5.52" fill="#1f9e89"/>
<rect x="560.26" y="55.73" width="5.53" height="5.52" fill="#1f958b"/>
<rect x="564.99" y="55.73" width="5.53" height="5.52" fill="#228d8d"/>
<rect x="569.72" y="55.73" width="5.53" height="5.52" fill="#25848e"/>
<rect x="574.45" y="55.73" width="5.53" height="5.52" fill="#26828e"/>
<rect x="579.18" y="55.73" width="5.53" height="5.52" fill="#29798e"/>
<rect x="583.91" y="55.73" width="5.53" height="5.52" fill="#2c718e"/>
<rect x="588.64" y="55.73" width="5.53" height="5.52" fill="#30698e"/>
<rect x="593.37" y="55.73" width="5.53" height="5.52" fill="#34608d"/>
<rect x="598.10" y="55.73" width="5.53" height="5.52" fill="#38588c"/>
<rect x="602.83" y="55.73" width="5.53" height="5.52" fill="#306a8e"/>
<rect x="607.56" y="55.73" width="5.53" height="5.52" fill="#34608d"/>
<rect x="612.29" y="55.73" width="5.53" height="5.52" fill="#39558c"/>
<rect x="617.02" y="55.73" width="5.53" height="5.52" fill="#3e4a89"/>
<rect x="621.76" y="55.73" width="5.53" height="5.52" fill="#424086"/>
<rect x="626.49" y="55.73" width="5.53" height="5.52" fill="#463480"/>
<rect x="631.22" y="55.73" width="5.53" height="5.52" fill="#375a8c"/>
<rect x="635.95" y="55.73" width="5.53" height="5.52" fill="#3d4d8a"/>
<rect x="640.68" y="55.73" width="5.53" height="5.52" fill="#423f85"/>
<rect x="645.41" y="55.73" width="5.53" height="5.52" fill="#472f7d"/>
<rect x="650.14" y="55.73" width="5.53" height="5.52" fill="#482071"/>
<rect x="654.87" y="55.73" width="4.73" height="5.52" fill="#471063"/>
<rect x="489.30" y="60.46" width="5.53" height="5.52" fill="#21a685"/>
<rect x="494.03" y="60.46" width="5.53" height="5.52" fill="#28ae80"/>
<rect x="498.76" y="60.46" width="5.53" height="5.52" fill="#32b67a"/>
<rect x="503.49" y="60.46" width="5.53" height="5.52" fill="#40bd72"/>
<rect x="508.22" y="60.46" width="5.53" height="5.52" fill="#52c569"/>
<rect x="512.95" y="60.46" width="5.53" height="5.52" fill="#6ccd5a"/>
<rect x="517.68" y="60.46" width="5.53" height="5.52" fill="#c2df23"/>
<rect x="522.41" y="60.46" width="5.53" height="5.52" fill="#fde725"/>
<rect x="527.14" y="60.46" width="5.53" height="5.52" fill="#c2df23"/>
<rect x="531.88" y="60.46" width="5.53" height="5.52" fill="#9bd93c"/>
<rect x="536.61" y="60.46" width="5.53" height="5.52" fill="#7ad151"/>
<rect x="541.34" y="60.46" width="5.53" height="5.52" fill="#63cb5f"/>
<rect x="546.07" y="60.46" width="5.53" height="5.52" fill="#32b67a"/>
<rect x="550.80" y="60.46" width="5.53" height="5.52" fill="#28ae80"/>
<rect x="555.53" y="60.46" width="5.53" height="5.52" fill="#21a685"/>
<rect x="560.26" y="60.46" width="5.53" height="5.52" fill="#1f9e89"/>
<rect x="564.99" y="60.46" width="5.53" height="5.52" fill="#1f958b"/>
<rect x="569.72" y="60.46" width="5.53" height="5.52" fill="#228d8d"/>
<rect x="574.45" y="60.46" width="5.53" height="5.52" fill="#26818e"/>
<rect x="579.18" y="60.46" width="5.53" height="5.52" fill="#2a788e"/>
<rect x="583.91" y="60.46" width="5.53" height="5.52" fill="#2d718e"/>
<rect x="588.64" y="60.46" width="5.53" height="5.52" fill="#31688e"/>
<rect x="593.37" y="60.46" width="5.53" height="5.52" fill="#355f8d"/>
<rect x="598.10" y="60.46" width="5.53" height="5.52" fill="#39568c"/>
<rect x="602.83" y="60.46" width="5.53" height="5.52" fill="#31678e"/>
<rect x="607.56" y="60.46" width="5.53" height="5.52" fill="#355e8d"/>
<rect x="612.29" y="60.46" width="5.53" height="5.52" fill="#3a538b"/>
<rect x="617.02" y="60.46" width="5.53" height="5.52" fill="#3f4889"/>
<rect x="621.76" y="60.46" width="5.53" height="5.52" fill="#433e85"/>
<rect x="626.49" y="60.46" width="5.53" height="5.52" fill="#46327e"/>
<rect x="631.22" y="60.46" width="5.53" height="5.52" fill="#38588c"/>
<rect x="635.95" y="60.46" width="5.53" height="5.52" fill="#3e4989"/>
<rect x="640.68" y="60.46" width="5.53" height="5.52" fill="#443b84"/>
<rect x="645.41" y="60.46" width="5.53" height="5.52" fill="#472d7b"/>
<rect x="650.14" y="60.46" width="5.53" height="5.52" fill="#481c6e"/>
<rect x="654.87" y="60.46" width="4.73" height="5.52" fill="#460b5e"/>
<rect x="489.30" y="65.18" width="5.53" height="5.52" fill="#1f9e89"/>
<rect x="494.03" y="65.18" width="5.53" height="5.52" fill="#21a685"/>
<rect x="498.76" y="65.18" width="5.53" height="5.52" fill="#28ae80"/>
<rect x="503.49" y="65.18" width="5.53" height="5.52" fill="#32b67a"/>
<rect x="508.22" y="65.18" width="5.53" height="5.52" fill="#40bd72"/>
<rect x="512.95" y="65.18" width="5.53" height="5.52" fill="#52c569"/>
<rect x="517.68" y="65.18" width="5.53" height="5.52" fill="#9bd93c"/>
<rect x="522.41" y="65.18" width="5.53" height="5.52" fill="#c2df23"/>
<rect x="527.14" y="65.18" width="5.53" height="5.52" fill="#fde725"/>
<rect x="531.88" y="65.18" width="5.53" height="5.52" fill="#c2df23"/>
<rect x="536.61" y="65.18" width="5.53" height="5.52" fill="#9bd93c"/>
<rect x="541.34" y="65.18" width="5.53" height="5.52" fill="#7ad151"/>
<rect x="546.07" y="65.18" width="5.53" height="5.52" fill="#40bd72"/>
<rect x="550.80" y="65.18" width="5.53" height="5.52" fill="#32b67a"/>
<rect x="555.53" y="65.18" width="5.53" height="5.52" fill="#28ae80"/>
<rect x="560.26" y="65.18" width="5.53" height="5.52" fill="#21a685"/>
<rect x="564.99" y="65.18" width="5.53" height="5.52" fill="#1f9e89"/>
<rect x="569.72" y="65.18" width="5.53" height="5.52" fill="#1f958b"/>
<rect x="574.45" y="65.18" width="5.53" height="5.52" fill="#27808e"/>
<rect x="579.18" y="65.18" width="5.53" height="5.52" fill="#2a778e"/>
<rect x="583.91" y="65.18" width="5.53" height="5.52" fill="#2d708e"/>
<rect x="588.64" y="65.18" width="5.53" height="5.52" fill="#31678e"/>
<rect x="593.37" y="65.18" width="5.53" height="5.52" fill="#355e8d"/>
<rect x="598.10" y="65.18" width="5.53" height="5.52" fill="#39558c"/>
<rect x="602.83" y="65.18" width="5.53" height="5.52" fill="#32658e"/>
<rect x="607.56" y="65.18" width="5.53" height="5.52" fill="#365c8d"/>
<rect x="612.29" y="65.18" width="5.53" height="5.52" fill="#3b518b"/>
<rect x="617.02" y="65.18" width="5.53" height="5.52" fill="#404688"/>
<rect x="621.76" y="65.18" width="5.53" height="5.52" fill="#443b84"/>
<rect x="626.49" y="65.18" width="5.53" height="5.52" fill="#472f7d"/>
<rect x="631.22" y="65.18" width="5.53" height="5.52" fill="#3a548c"/>
<rect x="635.95" y="65.18" width="5.53" height="5.52" fill="#3f4788"/>
<rect x="640.68" y="65.18" width="5.53" height="5.52" fill="#453882"/>
<rect x="645.41" y="65.18" width="5.53" height="5.52" fill="#482979"/>
<rect x="650.14" y="65.18" width="5.53" height="5.52" fill="#481a6c"/>
<rect x="654.87" y="65.18" width="4.73" height="5.52" fill="#46085c"/>
<rect x="489.30" y="69.90" width="5.53" height="5.52" fill="#1f958b"/>
<rect x="494.03" y="69.90" width="5.53" height="5.52" fill="#1f9e89"/>
<rect x="498.76" y="69.90" width="5.53" height="5.52" fill="#21a685"/>
<rect x="503.49" y="69.90" width="5.53" height="5.52" fill="#28ae80"/>
<rect x="508.22" y="69.90" width="5.53" height="5.52" fill="#32b67a"/>
<rect x="512.95" y="69.90" width="5.53" height="5.52" fill="#40bd72"/>
<rect x="517.68" y="69.90" width="5.53" height="5.52" fill="#7ad151"/>
<rect x="522.41" y="69.90" width="5.53" height="5.52" fill="#9bd93c"/>
<rect x="527.14" y="69.90" width="5.53" height="5.52" fill="#c2df23"/>
<rect x="531.88" y="69.90" width="5.53" height="5.52" fill="#fde725"/>
<rect x="536.61" y="69.90" width="5.53" height="5.52" fill="#c2df23"/>
<rect x="541.34" y="69.90" width="5.53" height="5.52" fill="#9bd93c"/>
<rect x="546.07" y="69.90" width="5.53" height="5.52" fill="#52c569"/>
<rect x="550.80" y="69.90" width="5.53" height="5.52" fill="#40bd72"/>
<rect x="555.53" y="69.90" width="5.53" height="5.52" fill="#32b67a"/>
<rect x="560.26" y="69.90" width="5.53" height="5.52" fill="#28ae80"/>
<rect x="564.99" y="69.90" width="5.53" height="5.52" fill="#21a685"/>
<rect x="569.72" y="69.90" width="5.53" height="5.52" fill="#1f9e89"/>
<rect x="574.45" y="69.90" width="5.53" height="5.52" fill="#277f8e"/>
<rect x="579.18" y="69.90" width="5.53" height="5.52" fill="#2a768e"/>
<rect x="583.91" y="69.90" width="5.53" height="5.52" fill="#2e6f8e"/>
<rect x="588.64" y="69.90" width="5.53" height="5.52" fill="#31668e"/>
<rect x="593.37" y="69.90" width="5.53" height="5.52" fill="#365d8d"/>
<rect x="598.10" y="69.90" width="5.53" height="5.52" fill="#3a548c"/>
<rect x="602.83" y="69.90" width="5.53" height="5.52" fill="#33638d"/>
<rect x="607.56" y="69.90" width="5.53" height="5.52" fill="#375a8c"/>
<rect x="612.29" y="69.90" width="5.53" height="5.52" fill="#3c4f8a"/>
<rect x="617.02" y="69.90" width="5.53" height="5.52" fill="#414487"/>
<rect x="621.76" y="69.90" width="5.53" height="5.52" fill="#453882"/>
<rect x="626.49" y="69.90" width="5.53" height="5.52" fill="#472d7b"/>
<rect x="631.22" y="69.90" width="5.53" height="5.52" fill="#3b528b"/>
<rect x="635.95" y="69.90" width="5.53" height="5.52" fill="#414487"/>
<rect x="640.68" y="69.90" width="5.53" height="5.52" fill="#453581"/>
<rect x="645.41" y="69.90" width="5.53" height="5.52" fill="#482677"/>
<rect x="650.14" y="69.90" width="5.53" height="5.52" fill="#481668"/>
<rect x="654.87" y="69.90" width="4.73" height="5.52" fill="#450457"/>
<rect x="489.30" y="74.62" width="5.53" height="5.52" fill="#228d8d"/>
<rect x="494.03" y="74.62" width="5.53" height="5.52" fill="#1f958b"/>
<rect x="498.76" y="74.62" width="5.53" height="5.52" fill="#1f9e89"/>
<rect x="503.49" y="74.62" width="5.53" height="5.52" fill="#21a685"/>
<rect x="508.22" y="74.62" width="5.53" height="5.52" fill="#28ae80"/>
<rect x="512.95" y="74.62" width="5.53" height="5.52" fill="#32b67a"/>
<rect x="517.68" y="74.62" width="5.53" height="5.52" fill="#63cb5f"/>
<rect x="522.41" y="74.62" width="5.53" height="5.52" fill="#7ad151"/>
<rect x="527.14" y="74.62" width="5.53" height="5.52" fill="#9bd93c"/>
<rect x="531.88" y="74.62" width="5.53" height="5.52" fill="#c2df23"/>
<rect x="536.61" y="74.62" width="5.53" height="5.52" fill="#fde725"/>
<rect x="541.34" y="74.62" width="5.53" height="5.52" fill="#c2df23"/>
<rect x="546.07" y="74.62" width="5.53" height="5.52" fill="#6ccd5a"/>
<rect x="550.80" y="74.62" width="5.53" height="5.52" fill="#52c569"/>
<rect x="555.53" y="74.62" width="5.53" height="5.52" fill="#40bd72"/>
<rect x="560.26" y="74.62" width="5.53" height="5.52" fill="#32b67a"/>
<rect x="564.99" y="74.62" width="5.53" height="5.52" fill="#28ae80"/>
<rect x="569.72" y="74.62" width="5.53" height="5.52" fill="#21a685"/>
<rect x="574.45" y="74.62" width="5.53" height="5.52" fill="#277e8e"/>
<rect x="579.18" y="74.62" width="5.53" height="5.52" fill="#2b758e"/>
<rect x="583.91" y="74.62" width="5.53" height="5.52" fill="#2e6e8e"/>
<rect x="588.64" y="74.62" width="5.53" height="5.52" fill="#32658e"/>
<rect x="593.37" y="74.62" width="5.53" height="5.52" fill="#365c8d"/>
<rect x="598.10" y="74.62" width="5.53" height="5.52" fill="#3a538b"/>
<rect x="602.83" y="74.62" width="5.53" height="5.52" fill="#34618d"/>
<rect x="607.56" y="74.62" width="5.53" height="5.52" fill="#38588c"/>
<rect x="612.29" y="74.62" width="5.53" height="5.52" fill="#3d4d8a"/>
<rect x="617.02" y="74.62" width="5.53" height="5.52" fill="#424186"/>
<rect x="621.76" y="74.62" width="5.53" height="5.52" fill="#453581"/>
<rect x="626.49" y="74.62" width="5.53" height="5.52" fill="#472a7a"/>
<rect x="631.22" y="74.62" width="5.53" height="5.52" fill="#3c4f8a"/>
<rect x="635.95" y="74.62" width="5.53" height="5.52" fill="#424186"/>
<rect x="640.68" y="74.62" width="5.53" height="5.52" fill="#46327e"/>
<rect x="645.41" y="74.62" width="5.53" height="5.52" fill="#482374"/>
<rect x="650.14" y="74.62" width="5.53" height="5.52" fill="#471365"/>
<rect x="654.87" y="74.62" width="4.73" height="5.52" fill="#440154"/>
<rect x="489.30" y="79.34" width="5.53" height="5.52" fill="#25848e"/>
<rect x="494.03" y="79.34" width="5.53" height="5.52" fill="#228d8d"/>
<rect x="498.76" y="79.34" width="5.53" height="5.52" fill="#1f958b"/>
<rect x="503.49" y="79.34" width="5.53" height="5.52" fill="#1f9e89"/>
<rect x="508.22" y="79.34" width="5.53" height="5.52" fill="#21a685"/>
<rect x="512.95" y="79.34" width="5.53" height="5.52" fill="#28ae80"/>
<rect x="517.68" y="79.34" width="5.53" height="5.52" fill="#4ec36b"/>
<rect x="522.41" y="79.34" width="5.53" height="5.52" fill="#63cb5f"/>
<rect x="527.14" y="79.34" width="5.53" height="5.52" fill="#7ad151"/>
<rect x="531.88" y="79.34" width="5.53" height="5.52" fill="#9bd93c"/>
<rect x="536.61" y="79.34" width="5.53" height="5.52" fill="#c2df23"/>
<rect x="541.34" y="79.34" width="5.53" height="5.52" fill="#fde725"/>
<rect x="546.07" y="79.34" width="5.53" height="5.52" fill="#8ed645"/>
<rect x="550.80" y="79.34" width="5.53" height="5.52" fill="#6ccd5a"/>
<rect x="555.53" y="79.34" width="5.53" height="5.52" fill="#52c569"/>
<rect x="560.26" y="79.34" width="5.53" height="5.52" fill="#40bd72"/>
<rect x="564.99" y="79.34" width="5.53" height="5.52" fill="#32b67a"/>
<rect x="569.72" y="79.34" width="5.53" height="5.52" fill="#28ae80"/>
<rect x="574.45" y="79.34" width="5.53" height="5.52" fill="#287d8e"/>
<rect x="579.18" y="79.34" width="5.53" height="5.52" fill="#2b748e"/>
<rect x="583.91" y="79.34" width="5.53" height="5.52" fill="#2e6d8e"/>
<rect x="588.64" y="79.34" width="5.53" height="5.52" fill="#32648e"/>
<rect x="593.37" y="79.34" width="5.53" height="5.52" fill="#375b8d"/>
<rect x="598.10" y="79.34" width="5.53" height="5.52" fill="#3b528b"/>
<rect x="602.83" y="79.34" width="5.53" height="5.52" fill="#355f8d"/>
<rect x="607.56" y="79.34" width="5.53" height="5.52" fill="#39558c"/>
<rect x="612.29" y="79.34" width="5.53" height="5.52" fill="#3e4a89"/>
<rect x="617.02" y="79.34" width="5.53" height="5.52" fill="#423f85"/>
<rect x="621.76" y="79.34" width="5.53" height="5.52" fill="#46337f"/>
<rect x="626.49" y="79.34" width="5.53" height="5.52" fill="#482878"/>
<rect x="631.22" y="79.34" width="5.53" height="5.52" fill="#3e4c8a"/>
<rect x="635.95" y="79.34" width="5.53" height="5.52" fill="#433e85"/>
<rect x="640.68" y="79.34" width="5.53" height="5.52" fill="#472f7d"/>
<rect x="645.41" y="79.34" width="5.53" height="5.52" fill="#482071"/>
<rect x="650.14" y="79.34" width="5.53" height="5.52" fill="#470e61"/>
<rect x="654.87" y="79.34" width="4.73" height="5.52" fill="#440154"/>
<rect x="489.30" y="84.07" width="5.53" height="5.52" fill="#20928c"/>
<rect x="494.03" y="84.07" width="5.53" height="5.52" fill="#20928c"/>
<rect x="498.76" y="84.07" width="5.53" height="5.52" fill="#20928c"/>
<rect x="503.49" y="84.07" width="5.53" height="5.52" fill="#20928c"/>
<rect x="508.22" y="84.07" width="5.53" height="5.52" fill="#20928c"/>
<rect x="512.95" y="84.07" width="5.53" height="5.52" fill="#20928c"/>
<rect x="517.68" y="84.07" width="5.53" height="5.52" fill="#28ae80"/>
<rect x="522.41" y="84.07" width="5.53" height="5.52" fill="#32b67a"/>
<rect x="527.14" y="84.07" width="5.53" height="5.52" fill="#40bd72"/>
<rect x="531.88" y="84.07" width="5.53" height="5.52" fill="#52c569"/>
<rect x="536.61" y="84.07" width="5.53" height="5.52" fill="#6ccd5a"/>
<rect x="541.34" y="84.07" width="5.53" height="5.52" fill="#8ed645"/>
<rect x="546.07" y="84.07" width="5.53" height="5.52" fill="#fde725"/>
<rect x="550.80" y="84.07" width="5.53" height="5.52" fill="#c2df23"/>
<rect x="555.53" y="84.07" width="5.53" height="5.52" fill="#9bd93c"/>
<rect x="560.26" y="84.07" width="5.53" height="5.52" fill="#7ad151"/>
<rect x="564.99" y="84.07" width="5.53" height="5.52" fill="#63cb5f"/>
<rect x="569.72" y="84.07" width="5.53" height="5.52" fill="#4ec36b"/>
<rect x="574.45" y="84.07" width="5.53" height="5.52" fill="#28ae80"/>
<rect x="579.18" y="84.07" width="5.53" height="5.52" fill="#21a685"/>
<rect x="583.91" y="84.07" width="5.53" height="5.52" fill="#1f9e89"/>
<rect x="588.64" y="84.07" width="5.53" height="5.52" fill="#1f958b"/>
<rect x="593.37" y="84.07" width="5.53" height="5.52" fill="#228d8d"/>
<rect x="598.10" y="84.07" width="5.53" height="5.52" fill="#25848e"/>
<rect x="602.83" y="84.07" width="5.53" height="5.52" fill="#287d8e"/>
<rect x="607.56" y="84.07" width="5.53" height="5.52" fill="#2b758e"/>
<rect x="612.29" y="84.07" width="5.53" height="5.52" fill="#2e6e8e"/>
<rect x="617.02" y="84.07" width="5.53" height="5.52" fill="#32658e"/>
<rect x="621.76" y="84.07" width="5.53" height="5.52" fill="#365d8d"/>
<rect x="626.49" y="84.07" width="5.53" height="5.52" fill="#3a548c"/>
<rect x="631.22" y="84.07" width="5.53" height="5.52" fill="#2e6f8e"/>
<rect x="635.95" y="84.07" width="5.53" height="5.52" fill="#32648e"/>
<rect x="640.68" y="84.07" width="5.53" height="5.52" fill="#38598c"/>
<rect x="645.41" y="84.07" width="5.53" height="5.52" fill="#3d4d8a"/>
<rect x="650.14" y="84.07" width="5.53" height="5.52" fill="#424186"/>
<rect x="654.87" y="84.07" width="4.73" height="5.52" fill="#463480"/>
<rect x="489.30" y="88.79" width="5.53" height="5.52" fill="#228d8d"/>
<rect x="494.03" y="88.79" width="5.53" height="5.52" fill="#228d8d"/>
<rect x="498.76" y="88.79" width="5.53" height="5.52" fill="#228d8d"/>
<rect x="503.49" y="88.79" width="5.53" height="5.52" fill="#228d8d"/>
<rect x="508.22" y="88.79" width="5.53" height="5.52" fill="#228d8d"/>
<rect x="512.95" y="88.79" width="5.53" height="5.52" fill="#228d8d"/>
<rect x="517.68" y="88.79" width="5.53" height="5.52" fill="#21a685"/>
<rect x="522.41" y="88.79" width="5.53" height="5.52" fill="#28ae80"/>
<rect x="527.14" y="88.79" width="5.53" height="5.52" fill="#32b67a"/>
<rect x="531.88" y="88.79" width="5.53" height="5.52" fill="#40bd72"/>
<rect x="536.61" y="88.79" width="5.53" height="5.52" fill="#52c569"/>
<rect x="541.34" y="88.79" width="5.53" height="5.52" fill="#6ccd5a"/>
<rect x="546.07" y="88.79" width="5.53" height="5.52" fill="#c2df23"/>
<rect x="550.80" y="88.79" width="5.53" height="5.52" fill="#fde725"/>
<rect x="555.53" y="88.79" width="5.53" height="5.52" fill="#c2df23"/>
<rect x="560.26" y="88.79" width="5.53" height="5.52" fill="#9bd93c"/>
<rect x="564.99" y="88.79" width="5.53" height="5.52" fill="#7ad151"/>
<rect x="569.72" y="88.79" width="5.53" height="5.52" fill="#63cb5f"/>
<rect x="574.45" y="88.79" width="5.53" height="5.52" fill="#32b67a"/>
<rect x="579.18" y="88.79" width="5.53" height="5.52" fill="#28ae80"/>
<rect x="583.91" y="88.79" width="5.53" height="5.52" fill="#21a685"/>
<rect x="588.64" y="88.79" width="5.53" height="5.52" fill="#1f9e89"/>
<rect x="593.37" y="88.79" width="5.53" height="5.52" fill="#1f958b"/>
<rect x="598.10" y="88.79" width="5.53" height="5.52" fill="#228d8d"/>
<rect x="602.83" y="88.79" width="5.53" height="5.52" fill="#287c8e"/>
<rect x="607.56" y="88.79" width="5.53" height="5.52" fill="#2b748e"/>
<rect x="612.29" y="88.79" width="5.53" height="5.52" fill="#2e6d8e"/>
<rect x="617.02" y="88.79" width="5.53" height="5.52" fill="#32648e"/>
<rect x="621.76" y="88.79" width="5.53" height="5.52" fill="#365c8d"/>
<rect x="626.49" y="88.79" width="5.53" height="5.52" fill="#3a538b"/>
<rect x="631.22" y="88.79" width="5.53" height="5.52" fill="#2e6e8e"/>
<rect x="635.95" y="88.79" width="5.53" height="5.52" fill="#33638d"/>
<rect x="640.68" y="88.79" width="5.53" height="5.52" fill="#38588c"/>
<rect x="645.41" y="88.79" width="5.53" height="5.52" fill="#3e4c8a"/>
<rect x="650.14" y="88.79" width="5.53" height="5.52" fill="#424086"/>
<rect x="654.87" y="88.79" width="4.73" height="5.52" fill="#46337f"/>
<rect x="489.30" y="93.51" width="5.53" height="5.52" fill="#24878e"/>
<rect x="494.03" y="93.51" width="5.53" height="5.52" fill="#24878e"/>
<rect x="498.76" y="93.51" width="5.53" height="5.52" fill="#24878e"/>
<rect x="503.49" y="93.51" width="5.53" height="5.52" fill="#24878e"/>
<rect x="508.22" y="93.51" width="5.53" height="5.52" fill="#24878e"/>
<rect x="512.95" y="93.51" width="5.53" height="5.52" fill="#24878e"/>
<rect x="517.68" y="93.51" width="5.53" height="5.52" fill="#1f9e89"/>
<rect x="522.41" y="93.51" width="5.53" height="5.52" fill="#21a685"/>
<rect x="527.14" y="93.51" width="5.53" height="5.52" fill="#28ae80"/>
<rect x="531.88" y="93.51" width="5.53" height="5.52" fill="#32b67a"/>
<rect x="536.61" y="93.51" width="5.53" height="5.52" fill="#40bd72"/>
<rect x="541.34" y="93.51" width="5.53" height="5.52" fill="#52c569"/>
<rect x="546.07" y="93.51" width="5.53" height="5.52" fill="#9bd93c"/>
<rect x="550.80" y="93.51" width="5.53" height="5.52" fill="#c2df23"/>
<rect x="555.53" y="93.51" width="5.53" height="5.52" fill="#fde725"/>
<rect x="560.26" y="93.51" width="5.53" height="5.52" fill="#c2df23"/>
<rect x="564.99" y="93.51" width="5.53" height="5.52" fill="#9bd93c"/>
<rect x="569.72" y="93.51" width="5.53" height="5.52" fill="#7ad151"/>
<rect x="574.45" y="93.51" width="5.53" height="5.52" fill="#40bd72"/>
<rect x="579.18" y="93.51" width="5.53" height="5.52" fill="#32b67a"/>
<rect x="583.91" y="93.51" width="5.53" height="5.52" fill="#28ae80"/>
<rect x="588.64" y="93.51" width="5.53" height="5.52" fill="#21a685"/>
<rect x="593.37" y="93.51" width="5.53" height="5.52" fill="#1f9e89"/>
<rect x="598.10" y="93.51" width="5.53" height="5.52" fill="#1f958b"/>
<rect x="602.83" y="93.51" width="5.53" height="5.52" fill="#297b8e"/>
<rect x="607.56" y="93.51" width="5.53" height="5.52" fill="#2c738e"/>
<rect x="612.29" y="93.51" width="5.53" height="5.52" fill="#2f6c8e"/>
<rect x="617.02" y="93.51" width="5.53" height="5.52" fill="#33638d"/>
<rect x="621.76" y="93.51" width="5.53" height="5.52" fill="#375b8d"/>
<rect x="626.49" y="93.51" width="5.53" height="5.52" fill="#3b528b"/>
<rect x="631.22" y="93.51" width="5.53" height="5.52" fill="#2e6d8e"/>
<rect x="635.95" y="93.51" width="5.53" height="5.52" fill="#33628d"/>
<rect x="640.68" y="93.51" width="5.53" height="5.52" fill="#39568c"/>
<rect x="645.41" y="93.51" width="5.53" height="5.52" fill="#3e4a89"/>
<rect x="650.14" y="93.51" width="5.53" height="5.52" fill="#423f85"/>
<rect x="654.87" y="93.51" width="4.73" height="5.52" fill="#46327e"/>
<rect x="489.30" y="98.23" width="5.53" height="5.52" fill="#26828e"/>
<rect x="494.03" y="98.23" width="5.53" height="5.52" fill="#26828e"/>
<rect x="498.76" y="98.23" width="5.53" height="5.52" fill="#26828e"/>
<rect x="503.49" y="98.23" width="5.53" height="5.52" fill="#26828e"/>
<rect x="508.22" y="98.23" width="5.53" height="5.52" fill="#26828e"/>
<rect x="512.95" y="98.23" width="5.53" height="5.52" fill="#26828e"/>
<rect x="517.68" y="98.23" width="5.53" height="5.52" fill="#1f958b"/>
<rect x="522.41" y="98.23" width="5.53" height="5.52" fill="#1f9e89"/>
<rect x="527.14" y="98.23" width="5.53" height="5.52" fill="#21a685"/>
<rect x="531.88" y="98.23" width="5.53" height="5.52" fill="#28ae80"/>
<rect x="536.61" y="98.23" width="5.53" height="5.52" fill="#32b67a"/>
<rect x="541.34" y="98.23" width="5.53" height="5.52" fill="#40bd72"/>
<rect x="546.07" y="98.23" width="5.53" height="5.52" fill="#7ad151"/>
<rect x="550.80" y="98.23" width="5.53" height="5.52" fill="#9bd93c"/>
<rect x="555.53" y="98.23" width="5.53" height="5.52" fill="#c2df23"/>
<rect x="560.26" y="98.23" width="5.53" height="5.52" fill="#fde725"/>
<rect x="564.99" y="98.23" width="5.53" height="5.52" fill="#c2df23"/>
<rect x="569.72" y="98.23" width="5.53" height="5.52" fill="#9bd93c"/>
<rect x="574.45" y="98.23" width="5.53" height="5.52" fill="#52c569"/>
<rect x="579.18" y="98.23" width="5.53" height="5.52" fill="#40bd72"/>
<rect x="583.91" y="98.23" width="5.53" height="5.52" fill="#32b67a"/>
<rect x="588.64" y="98.23" width="5.53" height="5.52" fill="#28ae80"/>
<rect x="593.37" y="98.23" width="5.53" height="5.52" fill="#21a685"/>
<rect x="598.10" y="98.23" width="5.53" height="5.52" fill="#1f9e89"/>
<rect x="602.83" y="98.23" width="5.53" height="5.52" fill="#297a8e"/>
<rect x="607.56" y="98.23" width="5.53" height="5.52" fill="#2c728e"/>
<rect x="612.29" y="98.23" width="5.53" height="5.52" fill="#2f6b8e"/>
<rect x="617.02" y="98.23" width="5.53" height="5.52" fill="#33628d"/>
<rect x="621.76" y="98.23" width="5.53" height="5.52" fill="#375a8c"/>
<rect x="626.49" y="98.23" width="5.53" height="5.52" fill="#3b518b"/>
<rect x="631.22" y="98.23" width="5.53" height="5.52" fill="#2f6c8e"/>
<rect x="635.95" y="98.23" width="5.53" height="5.52" fill="#34618d"/>
<rect x="640.68" y="98.23" width="5.53" height="5.52" fill="#39558c"/>
<rect x="645.41" y="98.23" width="5.53" height="5.52" fill="#3e4989"/>
<rect x="650.14" y="98.23" width="5.53" height="5.52" fill="#433e85"/>
<rect x="654.87" y="98.23" width="4.73" height="5.52" fill="#46307e"/>
<rect x="489.30" y="102.96" width="5.53" height="5.52" fill="#297b8e"/>
<rect x="494.03" y="102.96" width="5.53" height="5.52" fill="#297b8e"/>
<rect x="498.76" y="102.96" width="5.53" height="5.52" fill="#297b8e"/>
<rect x="503.49" y="102.96" width="5.53" height="5.52" fill="#297b8e"/>
<rect x="508.22" y="102.96" width="5.53" height="5.52" fill="#297b8e"/>
<rect x="512.95" y="102.96" width="5.53" height="5.52" fill="#297b8e"/>
<rect x="517.68" y="102.96" width="5.53" height="5.52" fill="#228d8d"/>
<rect x="522.41" y="102.96" width="5.53" height="5.52" fill="#1f958b"/>
<rect x="527.14" y="102.96" width="5.53" height="5.52" fill="#1f9e89"/>
<rect x="531.88" y="102.96" width="5.53" height="5.52" fill="#21a685"/>
<rect x="536.61" y="102.96" width="5.53" height="5.52" fill="#28ae80"/>
<rect x="541.34" y="102.96" width="5.53" height="5.52" fill="#32b67a"/>
<rect x="546.07" y="102.96" width="5.53" height="5.52" fill="#63cb5f"/>
<rect x="550.80" y="102.96" width="5.53" height="5.52" fill="#7ad151"/>
<rect x="555.53" y="102.96" width="5.53" height="5.52" fill="#9bd93c"/>
<rect x="560.26" y="102.96" width="5.53" height="5.52" fill="#c2df23"/>
<rect x="564.99" y="102.96" width="5.53" height="5.52" fill="#fde725"/>
<rect x="569.72" y="102.96" width="5.53" height="5.52" fill="#c2df23"/>
<rect x="574.45" y="102.96" width="5.53" height="5.52" fill="#6ccd5a"/>
<rect x="579.18" y="102.96" width="5.53" height="5.52" fill="#52c569"/>
<rect x="583.91" y="102.96" width="5.53" height="5.52" fill="#40bd72"/>
<rect x="588.64" y="102.96" width="5.53" height="5.52" fill="#32b67a"/>
<rect x="593.37" y="102.96" width="5.53" height="5.52" fill="#28ae80"/>
<rect x="598.10" y="102.96" width="5.53" height="5.52" fill="#21a685"/>
<rect x="602.83" y="102.96" width="5.53" height="5.52" fill="#29798e"/>
<rect x="607.56" y="102.96" width="5.53" height="5.52" fill="#2c718e"/>
<rect x="612.29" y="102.96" width="5.53" height="5.52" fill="#306a8e"/>
<rect x="617.02" y="102.96" width="5.53" height="5.52" fill="#34618d"/>
<rect x="621.76" y="102.96" width="5.53" height="5.52" fill="#38598c"/>
<rect x="626.49" y="102.96" width="5.53" height="5.52" fill="#3c508b"/>
<rect x="631.22" y="102.96" width="5.53" height="5.52" fill="#2f6b8e"/>
<rect x="635.95" y="102.96" width="5.53" height="5.52" fill="#34608d"/>
<rect x="640.68" y="102.96" width="5.53" height="5.52" fill="#3a548c"/>
<rect x="645.41" y="102.96" width="5.53" height="5.52" fill="#3f4889"/>
<rect x="650.14" y="102.96" width="5.53" height="5.52" fill="#433d84"/>
<rect x="654.87" y="102.96" width="4.73" height="5.52" fill="#472f7d"/>
<rect x="489.30" y="107.68" width="5.53" height="5.52" fill="#2b758e"/>
<rect x="494.03" y="107.68" width="5.53" height="5.52" fill="#2b758e"/>
<rect x="498.76" y="107.68" width="5.53" height="5.52" fill="#2b758e"/>
<rect x="503.49" y="107.68" width="5.53" height="5.52" fill="#2b758e"/>
<rect x="508.22" y="107.68" width="5.53" height="5.52" fill="#2b758e"/>
<rect x="512.95" y="107.68" width="5.53" height="5.52" fill="#2b758e"/>
<rect x="517.68" y="107.68" width="5.53" height="5.52" fill="#25848e"/>
<rect x="522.41" y="107.68" width="5.53" height="5.52" fill="#228d8d"/>
<rect x="527.14" y="107.68" width="5.53" height="5.52" fill="#1f958b"/>
<rect x="531.88" y="107.68" width="5.53" height="5.52" fill="#1f9e89"/>
<rect x="536.61" y="107.68" width="5.53" height="5.52" fill="#21a685"/>
<rect x="541.34" y="107.68" width="5.53" height="5.52" fill="#28ae80"/>
<rect x="546.07" y="107.68" width="5.53" height="5.52" fill="#4ec36b"/>
<rect x="550.80" y="107.68" width="5.53" height="5.52" fill="#63cb5f"/>
<rect x="555.53" y="107.68" width="5.53" height="5.52" fill="#7ad151"/>
<rect x="560.26" y="107.68" width="5.53" height="5.52" fill="#9bd93c"/>
<rect x="564.99" y="107.68" width="5.53" height="5.52" fill="#c2df23"/>
<rect x="569.72" y="107.68" width="5.53" height="5.52" fill="#fde725"/>
<rect x="574.45" y="107.68" width="5.53" height="5.52" fill="#8ed645"/>
<rect x="579.18" y="107.68" width="5.53" height="5.52" fill="#6ccd5a"/>
<rect x="583.91" y="107.68" width="5.53" height="5.52" fill="#52c569"/>
<rect x="588.64" y="107.68" width="5.53" height="5.52" fill="#40bd72"/>
<rect x="593.37" y="107.68" width="5.53" height="5.52" fill="#32b67a"/>
<rect x="598.10" y="107.68" width="5.53" height="5.52" fill="#28ae80"/>
<rect x="602.83" y="107.68" width="5.53" height="5.52" fill="#2a788e"/>
<rect x="607.56" y="107.68" width="5.53" height="5.52" fill="#2d718e"/>
<rect x="612.29" y="107.68" width="5.53" height="5.52" fill="#30698e"/>
<rect x="617.02" y="107.68" width="5.53" height="5.52" fill="#34608d"/>
<rect x="621.76" y="107.68" width="5.53" height="5.52" fill="#38588c"/>
<rect x="626.49" y="107.68" width="5.53" height="5.52" fill="#3c4f8a"/>
<rect x="631.22" y="107.68" width="5.53" height="5.52" fill="#306a8e"/>
<rect x="635.95" y="107.68" width="5.53" height="5.52" fill="#355f8d"/>
<rect x="640.68" y="107.68" width="5.53" height="5.52" fill="#3a538b"/>
<rect x="645.41" y="107.68" width="5.53" height="5.52" fill="#3f4788"/>
<rect x="650.14" y="107.68" width="5.53" height="5.52" fill="#443b84"/>
<rect x="654.87" y="107.68" width="4.73" height="5.52" fill="#472e7c"/>
<rect x="489.30" y="112.40" width="5.53" height="5.52" fill="#26828e"/>
<rect x="494.03" y="112.40" width="5.53" height="5.52" fill="#26828e"/>
<rect x="498.76" y="112.40" width="5.53" height="5.52" fill="#26828e"/>
<rect x="503.49" y="112.40" width="5.53" height="5.52" fill="#26828e"/>
<rect x="508.22" y="112.40" width="5.53" height="5.52" fill="#26828e"/>
<rect x="512.95" y="112.40" width="5.53" height="5.52" fill="#26828e"/>
<rect x="517.68" y="112.40" width="5.53" height="5.52" fill="#26828e"/>
<rect x="522.41" y="112.40" width="5.53" height="5.52" fill="#26818e"/>
<rect x="527.14" y="112.40" width="5.53" height="5.52" fill="#27808e"/>
<rect x="531.88" y="112.40" width="5.53" height="5.52" fill="#277f8e"/>
<rect x="536.61" y="112.40" width="5.53" height="5.52" fill="#277e8e"/>
<rect x="541.34" y="112.40" width="5.53" height="5.52" fill="#287d8e"/>
<rect x="546.07" y="112.40" width="5.53" height="5.52" fill="#28ae80"/>
<rect x="550.80" y="112.40" width="5.53" height="5.52" fill="#32b67a"/>
<rect x="555.53" y="112.40" width="5.53" height="5.52" fill="#40bd72"/>
<rect x="560.26" y="112.40" width="5.53" height="5.52" fill="#52c569"/>
<rect x="564.99" y="112.40" width="5.53" height="5.52" fill="#6ccd5a"/>
<rect x="569.72" y="112.40" width="5.53" height="5.52" fill="#8ed645"/>
<rect x="574.45" y="112.40" width="5.53" height="5.52" fill="#fde725"/>
<rect x="579.18" y="112.40" width="5.53" height="5.52" fill="#c2df23"/>
<rect x="583.91" y="112.40" width="5.53" height="5.52" fill="#9bd93c"/>
<rect x="588.64" y="112.40" width="5.53" height="5.52" fill="#7ad151"/>
<rect x="593.37" y="112.40" width="5.53" height="5.52" fill="#63cb5f"/>
<rect x="598.10" y="112.40" width="5.53" height="5.52" fill="#4ec36b"/>
<rect x="602.83" y="112.40" width="5.53" height="5.52" fill="#28ae80"/>
<rect x="607.56" y="112.40" width="5.53" height="5.52" fill="#21a685"/>
<rect x="612.29" y="112.40" width="5.53" height="5.52" fill="#1f9e89"/>
<rect x="617.02" y="112.40" width="5.53" height="5.52" fill="#1f958b"/>
<rect x="621.76" y="112.40" width="5.53" height="5.52" fill="#228d8d"/>
<rect x="626.49" y="112.40" width="5.53" height="5.52" fill="#25848e"/>
<rect x="631.22" y="112.40" width="5.53" height="5.52" fill="#2c738e"/>
<rect x="635.95" y="112.40" width="5.53" height="5.52" fill="#31688e"/>
<rect x="640.68" y="112.40" width="5.53" height="5.52" fill="#365d8d"/>
<rect x="645.41" y="112.40" width="5.53" height="5.52" fill="#3c508b"/>
<rect x="650.14" y="112.40" width="5.53" height="5.52" fill="#414487"/>
<rect x="654.87" y="112.40" width="4.73" height="5.52" fill="#453581"/>
<rect x="489.30" y="117.12" width="5.53" height="5.52" fill="#297a8e"/>
<rect x="494.03" y="117.12" width="5.53" height="5.52" fill="#297a8e"/>
<rect x="498.76" y="117.12" width="5.53" height="5.52" fill="#297a8e"/>
<rect x="503.49" y="117.12" width="5.53" height="5.52" fill="#297a8e"/>
<rect x="508.22" y="117.12" width="5.53" height="5.52" fill="#297a8e"/>
<rect x="512.95" y="117.12" width="5.53" height="5.52" fill="#297a8e"/>
<rect x="517.68" y="117.12" width="5.53" height="5.52" fill="#29798e"/>
<rect x="522.41" y="117.12" width="5.53" height="5.52" fill="#2a788e"/>
<rect x="527.14" y="117.12" width="5.53" height="5.52" fill="#2a778e"/>
<rect x="531.88" y="117.12" width="5.53" height="5.52" fill="#2a768e"/>
<rect x="536.61" y="117.12" width="5.53" height="5.52" fill="#2b758e"/>
<rect x="541.34" y="117.12" width="5.53" height="5.52" fill="#2b748e"/>
<rect x="546.07" y="117.12" width="5.53" height="5.52" fill="#21a685"/>
<rect x="550.80" y="117.12" width="5.53" height="5.52" fill="#28ae80"/>
<rect x="555.53" y="117.12" width="5.53" height="5.52" fill="#32b67a"/>
<rect x="560.26" y="117.12" width="5.53" height="5.52" fill="#40bd72"/>
<rect x="564.99" y="117.12" width="5.53" height="5.52" fill="#52c569"/>
<rect x="569.72" y="117.12" width="5.53" height="5.52" fill="#6ccd5a"/>
<rect x="574.45" y="117.12" width="5.53" height="5.52" fill="#c2df23"/>
<rect x="579.18" y="117.12" width="5.53" height="5.52" fill="#fde725"/>
<rect x="583.91" y="117.12" width="5.53" height="5.52" fill="#c2df23"/>
<rect x="588.64" y="117.12" width="5.53" height="5.52" fill="#9bd93c"/>
<rect x="593.37" y="117.12" width="5.53" height="5.52" fill="#7ad151"/>
<rect x="598.10" y="117.12" width="5.53" height="5.52" fill="#63cb5f"/>
<rect x="602.83" y="117.12" width="5.53" height="5.52" fill="#32b67a"/>
<rect x="607.56" y="117.12" width="5.53" height="5.52" fill="#28ae80"/>
<rect x="612.29" y="117.12" width="5.53" height="5.52" fill="#21a685"/>
<rect x="617.02" y="117.12" width="5.53" height="5.52" fill="#1f9e89"/>
<rect x="621.76" y="117.12" width="5.53" height="5.52" fill="#1f958b"/>
<rect x="626.49" y="117.12" width="5.53" height="5.52" fill="#228d8d"/>
<rect x="631.22" y="117.12" width="5.53" height="5.52" fill="#2a778e"/>
<rect x="635.95" y="117.12" width="5.53" height="5.52" fill="#2f6c8e"/>
<rect x="640.68" y="117.12" width="5.53" height="5.52" fill="#34618d"/>
<rect x="645.41" y="117.12" width="5.53" height="5.52" fill="#3a548c"/>
<rect x="650.14" y="117.12" width="5.53" height="5.52" fill="#3f4889"/>
<rect x="654.87" y="117.12" width="4.73" height="5.52" fill="#443a83"/>
<rect x="489.30" y="121.84" width="5.53" height="5.52" fill="#2c738e"/>
<rect x="494.03" y="121.84" width="5.53" height="5.52" fill="#2c738e"/>
<rect x="498.76" y="121.84" width="5.53" height="5.52" fill="#2c738e"/>
<rect x="503.49" y="121.84" width="5.53" height="5.52" fill="#2c738e"/>
<rect x="508.22" y="121.84" width="5.53" height="5.52" fill="#2c738e"/>
<rect x="512.95" y="121.84" width="5.53" height="5.52" fill="#2c738e"/>
<rect x="517.68" y="121.84" width="5.53" height="5.52" fill="#2c718e"/>
<rect x="522.41" y="121.84" width="5.53" height="5.52" fill="#2d718e"/>
<rect x="527.14" y="121.84" width="5.53" height="5.52" fill="#2d708e"/>
<rect x="531.88" y="121.84" width="5.53" height="5.52" fill="#2e6f8e"/>
<rect x="536.61" y="121.84" width="5.53" height="5.52" fill="#2e6e8e"/>
<rect x="541.34" y="121.84" width="5.53" height="5.52" fill="#2e6d8e"/>
<rect x="546.07" y="121.84" width="5.53" height="5.52" fill="#1f9e89"/>
<rect x="550.80" y="121.84" width="5.53" height="5.52" fill="#21a685"/>
<rect x="555.53" y="121.84" width="5.53" height="5.52" fill="#28ae80"/>
<rect x="560.26" y="121.84" width="5.53" height="5.52" fill="#32b67a"/>
<rect x="564.99" y="121.84" width="5.53" height="5.52" fill="#40bd72"/>
<rect x="569.72" y="121.84" width="5.53" height="5.52" fill="#52c569"/>
<rect x="574.45" y="121.84" width="5.53" height="5.52" fill="#9bd93c"/>
<rect x="579.18" y="121.84" width="5.53" height="5.52" fill="#c2df23"/>
<rect x="583.91" y="121.84" width="5.53" height="5.52" fill="#fde725"/>
<rect x="588.64" y="121.84" width="5.53" height="5.52" fill="#c2df23"/>
<rect x="593.37" y="121.84" width="5.53" height="5.52" fill="#9bd93c"/>
<rect x="598.10" y="121.84" width="5.53" height="5.52" fill="#7ad151"/>
<rect x="602.83" y="121.84" width="5.53" height="5.52" fill="#40bd72"/>
<rect x="607.56" y="121.84" width="5.53" height="5.52" fill="#32b67a"/>
<rect x="612.29" y="121.84" width="5.53" height="5.52" fill="#28ae80"/>
<rect x="617.02" y="121.84" width="5.53" height="5.52" fill="#21a685"/>
<rect x="621.76" y="121.84" width="5.53" height="5.52" fill="#1f9e89"/>
<rect x="626.49" y="121.84" width="5.53" height="5.52" fill="#1f958b"/>
<rect x="631.22" y="121.84" width="5.53" height="5.52" fill="#297a8e"/>
<rect x="635.95" y="121.84" width="5.53" height="5.52" fill="#2d708e"/>
<rect x="640.68" y="121.84" width="5.53" height="5.52" fill="#32648e"/>
<rect x="645.41" y="121.84" width="5.53" height="5.52" fill="#38598c"/>
<rect x="650.14" y="121.84" width="5.53" height="5.52" fill="#3e4c8a"/>
<rect x="654.87" y="121.84" width="4.73" height="5.52" fill="#423f85"/>
<rect x="489.30" y="126.57" width="5.53" height="5.52" fill="#2f6c8e"/>
<rect x="494.03" y="126.57" width="5.53" height="5.52" fill="#2f6c8e"/>
<rect x="498.76" y="126.57" width="5.53" height="5.52" fill="#2f6c8e"/>
<rect x="503.49" y="126.57" width="5.53" height="5.52" fill="#2f6c8e"/>
<rect x="508.22" y="126.57" width="5.53" height="5.52" fill="#2f6c8e"/>
<rect x="512.95" y="126.57" width="5.53" height="5.52" fill="#2f6c8e"/>
<rect x="517.68" y="126.57" width="5.53" height="5.52" fill="#30698e"/>
<rect x="522.41" y="126.57" width="5.53" height="5.52" fill="#31688e"/>
<rect x="527.14" y="126.57" width="5.53" height="5.52" fill="#31678e"/>
<rect x="531.88" y="126.57" width="5.53" height="5.52" fill="#31668e"/>
<rect x="536.61" y="126.57" width="5.53" height="5.52" fill="#32658e"/>
<rect x="541.34" y="126.57" width="5.53" height="5.52" fill="#32648e"/>
<rect x="546.07" y="126.57" width="5.53" height="5.52" fill="#1f958b"/>
<rect x="550.80" y="126.57" width="5.53" height="5.52" fill="#1f9e89"/>
<rect x="555.53" y="126.57" width="5.53" height="5.52" fill="#21a685"/>
<rect x="560.26" y="126.57" width="5.53" height="5.52" fill="#28ae80"/>
<rect x="564.99" y="126.57" width="5.53" height="5.52" fill="#32b67a"/>
<rect x="569.72" y="126.57" width="5.53" height="5.52" fill="#40bd72"/>
<rect x="574.45" y="126.57" width="5.53" height="5.52" fill="#7ad151"/>
<rect x="579.18" y="126.57" width="5.53" height="5.52" fill="#9bd93c"/>
<rect x="583.91" y="126.57" width="5.53" height="5.52" fill="#c2df23"/>
<rect x="588.64" y="126.57" width="5.53" height="5.52" fill="#fde725"/>
<rect x="593.37" y="126.57" width="5.53" height="5.52" fill="#c2df23"/>
<rect x="598.10" y="126.57" width="5.53" height="5.52" fill="#9bd93c"/>
<rect x="602.83" y="126.57" width="5.53" height="5.52" fill="#52c569"/>
<rect x="607.56" y="126.57" width="5.53" height="5.52" fill="#40bd72"/>
<rect x="612.29" y="126.57" width="5.53" height="5.52" fill="#32b67a"/>
<rect x="617.02" y="126.57" width="5.53" height="5.52" fill="#28ae80"/>
<rect x="621.76" y="126.57" width="5.53" height="5.52" fill="#21a685"/>
<rect x="626.49" y="126.57" width="5.53" height="5.52" fill="#1f9e89"/>
<rect x="631.22" y="126.57" width="5.53" height="5.52" fill="#277e8e"/>
<rect x="635.95" y="126.57" width="5.53" height="5.52" fill="#2c738e"/>
<rect x="640.68" y="126.57" width="5.53" height="5.52" fill="#31688e"/>
<rect x="645.41" y="126.57" width="5.53" height="5.52" fill="#365d8d"/>
<rect x="650.14" y="126.57" width="5.53" height="5.52" fill="#3c508b"/>
<rect x="654.87" y="126.57" width="4.73" height="5.52" fill="#414487"/>
<rect x="489.30" y="131.29" width="5.53" height="5.52" fill="#32648e"/>
<rect x="494.03" y="131.29" width="5.53" height="5.52" fill="#32648e"/>
<rect x="498.76" y="131.29" width="5.53" height="5.52" fill="#32648e"/>
<rect x="503.49" y="131.29" width="5.53" height="5.52" fill="#32648e"/>
<rect x="508.22" y="131.29" width="5.53" height="5.52" fill="#32648e"/>
<rect x="512.95" y="131.29" width="5.53" height="5.52" fill="#32648e"/>
<rect x="517.68" y="131.29" width="5.53" height="5.52" fill="#34608d"/>
<rect x="522.41" y="131.29" width="5.53" height="5.52" fill="#355f8d"/>
<rect x="527.14" y="131.29" width="5.53" height="5.52" fill="#355e8d"/>
<rect x="531.88" y="131.29" width="5.53" height="5.52" fill="#365d8d"/>
<rect x="536.61" y="131.29" width="5.53" height="5.52" fill="#365c8d"/>
<rect x="541.34" y="131.29" width="5.53" height="5.52" fill="#375b8d"/>
<rect x="546.07" y="131.29" width="5.53" height="5.52" fill="#228d8d"/>
<rect x="550.80" y="131.29" width="5.53" height="5.52" fill="#1f958b"/>
<rect x="555.53" y="131.29" width="5.53" height="5.52" fill="#1f9e89"/>
<rect x="560.26" y="131.29" width="5.53" height="5.52" fill="#21a685"/>
<rect x="564.99" y="131.29" width="5.53" height="5.52" fill="#28ae80"/>
<rect x="569.72" y="131.29" width="5.53" height="5.52" fill="#32b67a"/>
<rect x="574.45" y="131.29" width="5.53" height="5.52" fill="#63cb5f"/>
<rect x="579.18" y="131.29" width="5.53" height="5.52" fill="#7ad151"/>
<rect x="583.91" y="131.29" width="5.53" height="5.52" fill="#9bd93c"/>
<rect x="588.64" y="131.29" width="5.53" height="5.52" fill="#c2df23"/>
<rect x="593.37" y="131.29" width="5.53" height="5.52" fill="#fde725"/>
<rect x="598.10" y="131.29" width="5.53" height="5.52" fill="#c2df23"/>
<rect x="602.83" y="131.29" width="5.53" height="5.52" fill="#6ccd5a"/>
<rect x="607.56" y="131.29" width="5.53" height="5.52" fill="#52c569"/>
<rect x="612.29" y="131.29" width="5.53" height="5.52" fill="#40bd72"/>
<rect x="617.02" y="131.29" width="5.53" height="5.52" fill="#32b67a"/>
<rect x="621.76" y="131.29" width="5.53" height="5.52" fill="#28ae80"/>
<rect x="626.49" y="131.29" width="5.53" height="5.52" fill="#21a685"/>
<rect x="631.22" y="131.29" width="5.53" height="5.52" fill="#26828e"/>
<rect x="635.95" y="131.29" width="5.53" height="5.52" fill="#2a778e"/>
<rect x="640.68" y="131.29" width="5.53" height="5.52" fill="#2f6c8e"/>
<rect x="645.41" y="131.29" width="5.53" height="5.52" fill="#34618d"/>
<rect x="650.14" y="131.29" width="5.53" height="5.52" fill="#3a548c"/>
<rect x="654.87" y="131.29" width="4.73" height="5.52" fill="#3f4889"/>
<rect x="489.30" y="136.01" width="5.53" height="5.52" fill="#365d8d"/>
<rect x="494.03" y="136.01" width="5.53" height="5.52" fill="#365d8d"/>
<rect x="498.76" y="136.01" width="5.53" height="5.52" fill="#365d8d"/>
<rect x="503.49" y="136.01" width="5.53" height="5.52" fill="#365d8d"/>
<rect x="508.22" y="136.01" width="5.53" height="5.52" fill="#365d8d"/>
<rect x="512.95" y="136.01" width="5.53" height="5.52" fill="#365d8d"/>
<rect x="517.68" y="136.01" width="5.53" height="5.52" fill="#38588c"/>
<rect x="522.41" y="136.01" width="5.53" height="5.52" fill="#39568c"/>
<rect x="527.14" y="136.01" width="5.53" height="5.52" fill="#39558c"/>
<rect x="531.88" y="136.01" width="5.53" height="5.52" fill="#3a548c"/>
<rect x="536.61" y="136.01" width="5.53" height="5.52" fill="#3a538b"/>
<rect x="541.34" y="136.01" width="5.53" height="5.52" fill="#3b528b"/>
<rect x="546.07" y="136.01" width="5.53" height="5.52" fill="#25848e"/>
<rect x="550.80" y="136.01" width="5.53" height="5.52" fill="#228d8d"/>
<rect x="555.53" y="136.01" width="5.53" height="5.52" fill="#1f958b"/>
<rect x="560.26" y="136.01" width="5.53" height="5.52" fill="#1f9e89"/>
<rect x="564.99" y="136.01" width="5.53" height="5.52" fill="#21a685"/>
<rect x="569.72" y="136.01" width="5.53" height="5.52" fill="#28ae80"/>
<rect x="574.45" y="136.01" width="5.53" height="5.52" fill="#4ec36b"/>
<rect x="579.18" y="136.01" width="5.53" height="5.52" fill="#63cb5f"/>
<rect x="583.91" y="136.01" width="5.53" height="5.52" fill="#7ad151"/>
<rect x="588.64" y="136.01" width="5.53" height="5.52" fill="#9bd93c"/>
<rect x="593.37" y="136.01" width="5.53" height="5.52" fill="#c2df23"/>
<rect x="598.10" y="136.01" width="5.53" height="5.52" fill="#fde725"/>
<rect x="602.83" y="136.01" width="5.53" height="5.52" fill="#8ed645"/>
<rect x="607.56" y="136.01" width="5.53" height="5.52" fill="#6ccd5a"/>
<rect x="612.29" y="136.01" width="5.53" height="5.52" fill="#52c569"/>
<rect x="617.02" y="136.01" width="5.53" height="5.52" fill="#40bd72"/>
<rect x="621.76" y="136.01" width="5.53" height="5.52" fill="#32b67a"/>
<rect x="626.49" y="136.01" width="5.53" height="5.52" fill="#28ae80"/>
<rect x="631.22" y="136.01" width="5.53" height="5.52" fill="#25858e"/>
<rect x="635.95" y="136.01" width="5.53" height="5.52" fill="#297a8e"/>
<rect x="640.68" y="136.01" width="5.53" height="5.52" fill="#2d708e"/>
<rect x="645.41" y="136.01" width="5.53" height="5.52" fill="#32648e"/>
<rect x="650.14" y="136.01" width="5.53" height="5.52" fill="#38598c"/>
<rect x="654.87" y="136.01" width="4.73" height="5.52" fill="#3e4c8a"/>
<rect x="489.30" y="140.73" width="5.53" height="5.52" fill="#2c738e"/>
<rect x="494.03" y="140.73" width="5.53" height="5.52" fill="#2c738e"/>
<rect x="498.76" y="140.73" width="5.53" height="5.52" fill="#2c738e"/>
<rect x="503.49" y="140.73" width="5.53" height="5.52" fill="#2c738e"/>
<rect x="508.22" y="140.73" width="5.53" height="5.52" fill="#2c738e"/>
<rect x="512.95" y="140.73" width="5.53" height="5.52" fill="#2c738e"/>
<rect x="517.68" y="140.73" width="5.53" height="5.52" fill="#306a8e"/>
<rect x="522.41" y="140.73" width="5.53" height="5.52" fill="#31678e"/>
<rect x="527.14" y="140.73" width="5.53" height="5.52" fill="#32658e"/>
<rect x="531.88" y="140.73" width="5.53" height="5.52" fill="#33638d"/>
<rect x="536.61" y="140.73" width="5.53" height="5.52" fill="#34618d"/>
<rect x="541.34" y="140.73" width="5.53" height="5.52" fill="#355f8d"/>
<rect x="546.07" y="140.73" width="5.53" height="5.52" fill="#287d8e"/>
<rect x="550.80" y="140.73" width="5.53" height="5.52" fill="#287c8e"/>
<rect x="555.53" y="140.73" width="5.53" height="5.52" fill="#297b8e"/>
<rect x="560.26" y="140.73" width="5.53" height="5.52" fill="#297a8e"/>
<rect x="564.99" y="140.73" width="5.53" height="5.52" fill="#29798e"/>
<rect x="569.72" y="140.73" width="5.53" height="5.52" fill="#2a788e"/>
<rect x="574.45" y="140.73" width="5.53" height="5.52" fill="#28ae80"/>
<rect x="579.18" y="140.73" width="5.53" height="5.52" fill="#32b67a"/>
<rect x="583.91" y="140.73" width="5.53" height="5.52" fill="#40bd72"/>
<rect x="588.64" y="140.73" width="5.53" height="5.52" fill="#52c569"/>
<rect x="593.37" y="140.73" width="5.53" height="5.52" fill="#6ccd5a"/>
<rect x="598.10" y="140.73" width="5.53" height="5.52" fill="#8ed645"/>
<rect x="602.83" y="140.73" width="5.53" height="5.52" fill="#fde725"/>
<rect x="607.56" y="140.73" width="5.53" height="5.52" fill="#c2df23"/>
<rect x="612.29" y="140.73" width="5.53" height="5.52" fill="#9bd93c"/>
<rect x="617.02" y="140.73" width="5.53" height="5.52" fill="#7ad151"/>
<rect x="621.76" y="140.73" width="5.53" height="5.52" fill="#63cb5f"/>
<rect x="626.49" y="140.73" width="5.53" height="5.52" fill="#4ec36b"/>
<rect x="631.22" y="140.73" width="5.53" height="5.52" fill="#28ae80"/>
<rect x="635.95" y="140.73" width="5.53" height="5.52" fill="#21a685"/>
<rect x="640.68" y="140.73" width="5.53" height="5.52" fill="#1f9e89"/>
<rect x="645.41" y="140.73" width="5.53" height="5.52" fill="#1f958b"/>
<rect x="650.14" y="140.73" width="5.53" height="5.52" fill="#228d8d"/>
<rect x="654.87" y="140.73" width="4.73" height="5.52" fill="#25848e"/>
<rect x="489.30" y="145.46" width="5.53" height="5.52" fill="#2f6b8e"/>
<rect x="494.03" y="145.46" width="5.53" height="5.52" fill="#2f6b8e"/>
<rect x="498.76" y="145.46" width="5.53" height="5.52" fill="#2f6b8e"/>
<rect x="503.49" y="145.46" width="5.53" height="5.52" fill="#2f6b8e"/>
<rect x="508.22" y="145.46" width="5.53" height="5.52" fill="#2f6b8e"/>
<rect x="512.95" y="145.46" width="5.53" height="5.52" fill="#2f6b8e"/>
<rect x="517.68" y="145.46" width="5.53" height="5.52" fill="#34608d"/>
<rect x="522.41" y="145.46" width="5.53" height="5.52" fill="#355e8d"/>
<rect x="527.14" y="145.46" width="5.53" height="5.52" fill="#365c8d"/>
<rect x="531.88" y="145.46" width="5.53" height="5.52" fill="#375a8c"/>
<rect x="536.61" y="145.46" width="5.53" height="5.52" fill="#38588c"/>
<rect x="541.34" y="145.46" width="5.53" height="5.52" fill="#39558c"/>
<rect x="546.07" y="145.46" width="5.53" height="5.52" fill="#2b758e"/>
<rect x="550.80" y="145.46" width="5.53" height="5.52" fill="#2b748e"/>
<rect x="555.53" y="145.46" width="5.53" height="5.52" fill="#2c738e"/>
<rect x="560.26" y="145.46" width="5.53" height="5.52" fill="#2c728e"/>
<rect x="564.99" y="145.46" width="5.53" height="5.52" fill="#2c718e"/>
<rect x="569.72" y="145.46" width="5.53" height="5.52" fill="#2d718e"/>
<rect x="574.45" y="145.46" width="5.53" height="5.52" fill="#21a685"/>
<rect x="579.18" y="145.46" width="5.53" height="5.52" fill="#28ae80"/>
<rect x="583.91" y="145.46" width="5.53" height="5.52" fill="#32b67a"/>
<rect x="588.64" y="145.46" width="5.53" height="5.52" fill="#40bd72"/>
<rect x="593.37" y="145.46" width="5.53" height="5.52" fill="#52c569"/>
<rect x="598.10" y="145.46" width="5.53" height="5.52" fill="#6ccd5a"/>
<rect x="602.83" y="145.46" width="5.53" height="5.52" fill="#c2df23"/>
<rect x="607.56" y="145.46" width="5.53" height="5.52" fill="#fde725"/>
<rect x="612.29" y="145.46" width="5.53" height="5.52" fill="#c2df23"/>
<rect x="617.02" y="145.46" width="5.53" height="5.52" fill="#9bd93c"/>
<rect x="621.76" y="145.46" width="5.53" height="5.52" fill="#7ad151"/>
<rect x="626.49" y="145.46" width="5.53" height="5.52" fill="#63cb5f"/>
<rect x="631.22" y="145.46" width="5.53" height="5.52" fill="#32b67a"/>
<rect x="635.95" y="145.46" width="5.53" height="5.52" fill="#28ae80"/>
<rect x="640.68" y="145.46" width="5.53" height="5.52" fill="#21a685"/>
<rect x="645.41" y="145.46" width="5.53" height="5.52" fill="#1f9e89"/>
<rect x="650.14" y="145.46" width="5.53" height="5.52" fill="#1f958b"/>
<rect x="654.87" y="145.46" width="4.73" height="5.52" fill="#228d8d"/>
<rect x="489.30" y="150.18" width="5.53" height="5.52" fill="#33628d"/>
<rect x="494.03" y="150.18" width="5.53" height="5.52" fill="#33628d"/>
<rect x="498.76" y="150.18" width="5.53" height="5.52" fill="#33628d"/>
<rect x="503.49" y="150.18" width="5.53" height="5.52" fill="#33628d"/>
<rect x="508.22" y="150.18" width="5.53" height="5.52" fill="#33628d"/>
<rect x="512.95" y="150.18" width="5.53" height="5.52" fill="#33628d"/>
<rect x="517.68" y="150.18" width="5.53" height="5.52" fill="#39558c"/>
<rect x="522.41" y="150.18" width="5.53" height="5.52" fill="#3a538b"/>
<rect x="527.14" y="150.18" width="5.53" height="5.52" fill="#3b518b"/>
<rect x="531.88" y="150.18" width="5.53" height="5.52" fill="#3c4f8a"/>
<rect x="536.61" y="150.18" width="5.53" height="5.52" fill="#3d4d8a"/>
<rect x="541.34" y="150.18" width="5.53" height="5.52" fill="#3e4a89"/>
<rect x="546.07" y="150.18" width="5.53" height="5.52" fill="#2e6e8e"/>
<rect x="550.80" y="150.18" width="5.53" height="5.52" fill="#2e6d8e"/>
<rect x="555.53" y="150.18" width="5.53" height="5.52" fill="#2f6c8e"/>
<rect x="560.26" y="150.18" width="5.53" height="5.52" fill="#2f6b8e"/>
<rect x="564.99" y="150.18" width="5.53" height="5.52" fill="#306a8e"/>
<rect x="569.72" y="150.18" width="5.53" height="5.52" fill="#30698e"/>
<rect x="574.45" y="150.18" width="5.53" height="5.52" fill="#1f9e89"/>
<rect x="579.18" y="150.18" width="5.53" height="5.52" fill="#21a685"/>
<rect x="583.91" y="150.18" width="5.53" height="5.52" fill="#28ae80"/>
<rect x="588.64" y="150.18" width="5.53" height="5.52" fill="#32b67a"/>
<rect x="593.37" y="150.18" width="5.53" height="5.52" fill="#40bd72"/>
<rect x="598.10" y="150.18" width="5.53" height="5.52" fill="#52c569"/>
<rect x="602.83" y="150.18" width="5.53" height="5.52" fill="#9bd93c"/>
<rect x="607.56" y="150.18" width="5.53" height="5.52" fill="#c2df23"/>
<rect x="612.29" y="150.18" width="5.53" height="5.52" fill="#fde725"/>
<rect x="617.02" y="150.18" width="5.53" height="5.52" fill="#c2df23"/>
<rect x="621.76" y="150.18" width="5.53" height="5.52" fill="#9bd93c"/>
<rect x="626.49" y="150.18" width="5.53" height="5.52" fill="#7ad151"/>
<rect x="631.22" y="150.18" width="5.53" height="5.52" fill="#40bd72"/>
<rect x="635.95" y="150.18" width="5.53" height="5.52" fill="#32b67a"/>
<rect x="640.68" y="150.18" width="5.53" height="5.52" fill="#28ae80"/>
<rect x="645.41" y="150.18" width="5.53" height="5.52" fill="#21a685"/>
<rect x="650.14" y="150.18" width="5.53" height="5.52" fill="#1f9e89"/>
<rect x="654.87" y="150.18" width="4.73" height="5.52" fill="#1f958b"/>
<rect x="489.30" y="154.90" width="5.53" height="5.52" fill="#375a8c"/>
<rect x="494.03" y="154.90" width="5.53" height="5.52" fill="#375a8c"/>
<rect x="498.76" y="154.90" width="5.53" height="5.52" fill="#375a8c"/>
<rect x="503.49" y="154.90" width="5.53" height="5.52" fill="#375a8c"/>
<rect x="508.22" y="154.90" width="5.53" height="5.52" fill="#375a8c"/>
<rect x="512.95" y="154.90" width="5.53" height="5.52" fill="#375a8c"/>
<rect x="517.68" y="154.90" width="5.53" height="5.52" fill="#3e4a89"/>
<rect x="522.41" y="154.90" width="5.53" height="5.52" fill="#3f4889"/>
<rect x="527.14" y="154.90" width="5.53" height="5.52" fill="#404688"/>
<rect x="531.88" y="154.90" width="5.53" height="5.52" fill="#414487"/>
<rect x="536.61" y="154.90" width="5.53" height="5.52" fill="#424186"/>
<rect x="541.34" y="154.90" width="5.53" height="5.52" fill="#423f85"/>
<rect x="546.07" y="154.90" width="5.53" height="5.52" fill="#32658e"/>
<rect x="550.80" y="154.90" width="5.53" height="5.52" fill="#32648e"/>
<rect x="555.53" y="154.90" width="5.53" height="5.52" fill="#33638d"/>
<rect x="560.26" y="154.90" width="5.53" height="5.52" fill="#33628d"/>
<rect x="564.99" y="154.90" width="5.53" height="5.52" fill="#34618d"/>
<rect x="569.72" y="154.90" width="5.53" height="5.52" fill="#34608d"/>
<rect x="574.45" y="154.90" width="5.53" height="5.52" fill="#1f958b"/>
<rect x="579.18" y="154.90" width="5.53" height="5.52" fill="#1f9e89"/>
<rect x="583.91" y="154.90" width="5.53" height="5.52" fill="#21a685"/>
<rect x="588.64" y="154.90" width="5.53" height="5.52" fill="#28ae80"/>
<rect x="593.37" y="154.90" width="5.53" height="5.52" fill="#32b67a"/>
<rect x="598.10" y="154.90" width="5.53" height="5.52" fill="#40bd72"/>
<rect x="602.83" y="154.90" width="5.53" height="5.52" fill="#7ad151"/>
<rect x="607.56" y="154.90" width="5.53" height="5.52" fill="#9bd93c"/>
<rect x="612.29" y="154.90" width="5.53" height="5.52" fill="#c2df23"/>
<rect x="617.02" y="154.90" width="5.53" height="5.52" fill="#fde725"/>
<rect x="621.76" y="154.90" width="5.53" height="5.52" fill="#c2df23"/>
<rect x="626.49" y="154.90" width="5.53" height="5.52" fill="#9bd93c"/>
<rect x="631.22" y="154.90" width="5.53" height="5.52" fill="#52c569"/>
<rect x="635.95" y="154.90" width="5.53" height="5.52" fill="#40bd72"/>
<rect x="640.68" y="154.90" width="5.53" height="5.52" fill="#32b67a"/>
<rect x="645.41" y="154.90" width="5.53" height="5.52" fill="#28ae80"/>
<rect x="650.14" y="154.90" width="5.53" height="5.52" fill="#21a685"/>
<rect x="654.87" y="154.90" width="4.73" height="5.52" fill="#1f9e89"/>
<rect x="489.30" y="159.62" width="5.53" height="5.52" fill="#3c508b"/>
<rect x="494.03" y="159.62" width="5.53" height="5.52" fill="#3c508b"/>
<rect x="498.76" y="159.62" width="5.53" height="5.52" fill="#3c508b"/>
<rect x="503.49" y="159.62" width="5.53" height="5.52" fill="#3c508b"/>
<rect x="508.22" y="159.62" width="5.53" height="5.52" fill="#3c508b"/>
<rect x="512.95" y="159.62" width="5.53" height="5.52" fill="#3c508b"/>
<rect x="517.68" y="159.62" width="5.53" height="5.52" fill="#424086"/>
<rect x="522.41" y="159.62" width="5.53" height="5.52" fill="#433e85"/>
<rect x="527.14" y="159.62" width="5.53" height="5.52" fill="#443b84"/>
<rect x="531.88" y="159.62" width="5.53" height="5.52" fill="#453882"/>
<rect x="536.61" y="159.62" width="5.53" height="5.52" fill="#453581"/>
<rect x="541.34" y="159.62" width="5.53" height="5.52" fill="#46337f"/>
<rect x="546.07" y="159.62" width="5.53" height="5.52" fill="#365d8d"/>
<rect x="550.80" y="159.62" width="5.53" height="5.52" fill="#365c8d"/>
<rect x="555.53" y="159.62" width="5.53" height="5.52" fill="#375b8d"/>
<rect x="560.26" y="159.62" width="5.53" height="5.52" fill="#375a8c"/>
<rect x="564.99" y="159.62" width="5.53" height="5.52" fill="#38598c"/>
<rect x="569.72" y="159.62" width="5.53" height="5.52" fill="#38588c"/>
<rect x="574.45" y="159.62" width="5.53" height="5.52" fill="#228d8d"/>
<rect x="579.18" y="159.62" width="5.53" height="5.52" fill="#1f958b"/>
<rect x="583.91" y="159.62" width="5.53" height="5.52" fill="#1f9e89"/>
<rect x="588.64" y="159.62" width="5.53" height="5.52" fill="#21a685"/>
<rect x="593.37" y="159.62" width="5.53" height="5.52" fill="#28ae80"/>
<rect x="598.10" y="159.62" width="5.53" height="5.52" fill="#32b67a"/>
<rect x="602.83" y="159.62" width="5.53" height="5.52" fill="#63cb5f"/>
<rect x="607.56" y="159.62" width="5.53" height="5.52" fill="#7ad151"/>
<rect x="612.29" y="159.62" width="5.53" height="5.52" fill="#9bd93c"/>
<rect x="617.02" y="159.62" width="5.53" height="5.52" fill="#c2df23"/>
<rect x="621.76" y="159.62" width="5.53" height="5.52" fill="#fde725"/>
<rect x="626.49" y="159.62" width="5.53" height="5.52" fill="#c2df23"/>
<rect x="631.22" y="159.62" width="5.53" height="5.52" fill="#6ccd5a"/>
<rect x="635.95" y="159.62" width="5.53" height="5.52" fill="#52c569"/>
<rect x="640.68" y="159.62" width="5.53" height="5.52" fill="#40bd72"/>
<rect x="645.41" y="159.62" width="5.53" height="5.52" fill="#32b67a"/>
<rect x="650.14" y="159.62" width="5.53" height="5.52" fill="#28ae80"/>
<rect x="654.87" y="159.62" width="4.73" height="5.52" fill="#21a685"/>
<rect x="489.30" y="164.34" width="5.53" height="5.52" fill="#404688"/>
<rect x="494.03" y="164.34" width="5.53" height="5.52" fill="#404688"/>
<rect x="498.76" y="164.34" width="5.53" height="5.52" fill="#404688"/>
<rect x="503.49" y="164.34" width="5.53" height="5.52" fill="#404688"/>
<rect x="508.22" y="164.34" width="5.53" height="5.52" fill="#404688"/>
<rect x="512.95" y="164.34" width="5.53" height="5.52" fill="#404688"/>
<rect x="517.68" y="164.34" width="5.53" height="5.52" fill="#463480"/>
<rect x="522.41" y="164.34" width="5.53" height="5.52" fill="#46327e"/>
<rect x="527.14" y="164.34" width="5.53" height="5.52" fill="#472f7d"/>
<rect x="531.88" y="164.34" width="5.53" height="5.52" fill="#472d7b"/>
<rect x="536.61" y="164.34" width="5.53" height="5.52" fill="#472a7a"/>
<rect x="541.34" y="164.34" width="5.53" height="5.52" fill="#482878"/>
<rect x="546.07" y="164.34" width="5.53" height="5.52" fill="#3a548c"/>
<rect x="550.80" y="164.34" width="5.53" height="5.52" fill="#3a538b"/>
<rect x="555.53" y="164.34" width="5.53" height="5.52" fill="#3b528b"/>
<rect x="560.26" y="164.34" width="5.53" height="5.52" fill="#3b518b"/>
<rect x="564.99" y="164.34" width="5.53" height="5.52" fill="#3c508b"/>
<rect x="569.72" y="164.34" width="5.53" height="5.52" fill="#3c4f8a"/>
<rect x="574.45" y="164.34" width="5.53" height="5.52" fill="#25848e"/>
<rect x="579.18" y="164.34" width="5.53" height="5.52" fill="#228d8d"/>
<rect x="583.91" y="164.34" width="5.53" height="5.52" fill="#1f958b"/>
<rect x="588.64" y="164.34" width="5.53" height="5.52" fill="#1f9e89"/>
<rect x="593.37" y="164.34" width="5.53" height="5.52" fill="#21a685"/>
<rect x="598.10" y="164.34" width="5.53" height="5.52" fill="#28ae80"/>
<rect x="602.83" y="164.34" width="5.53" height="5.52" fill="#4ec36b"/>
<rect x="607.56" y="164.34" width="5.53" height="5.52" fill="#63cb5f"/>
<rect x="612.29" y="164.34" width="5.53" height="5.52" fill="#7ad151"/>
<rect x="617.02" y="164.34" width="5.53" height="5.52" fill="#9bd93c"/>
<rect x="621.76" y="164.34" width="5.53" height="5.52" fill="#c2df23"/>
<rect x="626.49" y="164.34" width="5.53" height="5.52" fill="#fde725"/>
<rect x="631.22" y="164.34" width="5.53" height="5.52" fill="#8ed645"/>
<rect x="635.95" y="164.34" width="5.53" height="5.52" fill="#6ccd5a"/>
<rect x="640.68" y="164.34" width="5.53" height="5.52" fill="#52c569"/>
<rect x="645.41" y="164.34" width="5.53" height="5.52" fill="#40bd72"/>
<rect x="650.14" y="164.34" width="5.53" height="5.52" fill="#32b67a"/>
<rect x="654.87" y="164.34" width="4.73" height="5.52" fill="#28ae80"/>
<rect x="489.30" y="169.07" width="5.53" height="5.52" fill="#306a8e"/>
<rect x="494.03" y="169.07" width="5.53" height="5.52" fill="#306a8e"/>
<rect x="498.76" y="169.07" width="5.53" height="5.52" fill="#306a8e"/>
<rect x="503.49" y="169.07" width="5.53" height="5.52" fill="#306a8e"/>
<rect x="508.22" y="169.07" width="5.53" height="5.52" fill="#306a8e"/>
<rect x="512.95" y="169.07" width="5.53" height="5.52" fill="#306a8e"/>
<rect x="517.68" y="169.07" width="5.53" height="5.52" fill="#375a8c"/>
<rect x="522.41" y="169.07" width="5.53" height="5.52" fill="#38588c"/>
<rect x="527.14" y="169.07" width="5.53" height="5.52" fill="#3a548c"/>
<rect x="531.88" y="169.07" width="5.53" height="5.52" fill="#3b528b"/>
<rect x="536.61" y="169.07" width="5.53" height="5.52" fill="#3c4f8a"/>
<rect x="541.34" y="169.07" width="5.53" height="5.52" fill="#3e4c8a"/>
<rect x="546.07" y="169.07" width="5.53" height="5.52" fill="#2e6f8e"/>
<rect x="550.80" y="169.07" width="5.53" height="5.52" fill="#2e6e8e"/>
<rect x="555.53" y="169.07" width="5.53" height="5.52" fill="#2e6d8e"/>
<rect x="560.26" y="169.07" width="5.53" height="5.52" fill="#2f6c8e"/>
<rect x="564.99" y="169.07" width="5.53" height="5.52" fill="#2f6b8e"/>
<rect x="569.72" y="169.07" width="5.53" height="5.52" fill="#306a8e"/>
<rect x="574.45" y="169.07" width="5.53" height="5.52" fill="#2c738e"/>
<rect x="579.18" y="169.07" width="5.53" height="5.52" fill="#2a778e"/>
<rect x="583.91" y="169.07" width="5.53" height="5.52" fill="#297a8e"/>
<rect x="588.64" y="169.07" width="5.53" height="5.52" fill="#277e8e"/>
<rect x="593.37" y="169.07" width="5.53" height="5.52" fill="#26828e"/>
<rect x="598.10" y="169.07" width="5.53" height="5.52" fill="#25858e"/>
<rect x="602.83" y="169.07" width="5.53" height="5.52" fill="#28ae80"/>
<rect x="607.56" y="169.07" width="5.53" height="5.52" fill="#32b67a"/>
<rect x="612.29" y="169.07" width="5.53" height="5.52" fill="#40bd72"/>
<rect x="617.02" y="169.07" width="5.53" height="5.52" fill="#52c569"/>
<rect x="621.76" y="169.07" width="5.53" height="5.52" fill="#6ccd5a"/>
<rect x="626.49" y="169.07" width="5.53" height="5.52" fill="#8ed645"/>
<rect x="631.22" y="169.07" width="5.53" height="5.52" fill="#fde725"/>
<rect x="635.95" y="169.07" width="5.53" height="5.52" fill="#c2df23"/>
<rect x="640.68" y="169.07" width="5.53" height="5.52" fill="#9bd93c"/>
<rect x="645.41" y="169.07" width="5.53" height="5.52" fill="#7ad151"/>
<rect x="650.14" y="169.07" width="5.53" height="5.52" fill="#63cb5f"/>
<rect x="654.87" y="169.07" width="4.73" height="5.52" fill="#4ec36b"/>
<rect x="489.30" y="173.79" width="5.53" height="5.52" fill="#355f8d"/>
<rect x="494.03" y="173.79" width="5.53" height="5.52" fill="#355f8d"/>
<rect x="498.76" y="173.79" width="5.53" height="5.52" fill="#355f8d"/>
<rect x="503.49" y="173.79" width="5.53" height="5.52" fill="#355f8d"/>
<rect x="508.22" y="173.79" width="5.53" height="5.52" fill="#355f8d"/>
<rect x="512.95" y="173.79" width="5.53" height="5.52" fill="#355f8d"/>
<rect x="517.68" y="173.79" width="5.53" height="5.52" fill="#3d4d8a"/>
<rect x="522.41" y="173.79" width="5.53" height="5.52" fill="#3e4989"/>
<rect x="527.14" y="173.79" width="5.53" height="5.52" fill="#3f4788"/>
<rect x="531.88" y="173.79" width="5.53" height="5.52" fill="#414487"/>
<rect x="536.61" y="173.79" width="5.53" height="5.52" fill="#424186"/>
<rect x="541.34" y="173.79" width="5.53" height="5.52" fill="#433e85"/>
<rect x="546.07" y="173.79" width="5.53" height="5.52" fill="#32648e"/>
<rect x="550.80" y="173.79" width="5.53" height="5.52" fill="#33638d"/>
<rect x="555.53" y="173.79" width="5.53" height="5.52" fill="#33628d"/>
<rect x="560.26" y="173.79" width="5.53" height="5.52" fill="#34618d"/>
<rect x="564.99" y="173.79" width="5.53" height="5.52" fill="#34608d"/>
<rect x="569.72" y="173.79" width="5.53" height="5.52" fill="#355f8d"/>
<rect x="574.45" y="173.79" width="5.53" height="5.52" fill="#31688e"/>
<rect x="579.18" y="173.79" width="5.53" height="5.52" fill="#2f6c8e"/>
<rect x="583.91" y="173.79" width="5.53" height="5.52" fill="#2d708e"/>
<rect x="588.64" y="173.79" width="5.53" height="5.52" fill="#2c738e"/>
<rect x="593.37" y="173.79" width="5.53" height="5.52" fill="#2a778e"/>
<rect x="598.10" y="173.79" width="5.53" height="5.52" fill="#297a8e"/>
<rect x="602.83" y="173.79" width="5.53" height="5.52" fill="#21a685"/>
<rect x="607.56" y="173.79" width="5.53" height="5.52" fill="#28ae80"/>
<rect x="612.29" y="173.79" width="5.53" height="5.52" fill="#32b67a"/>
<rect x="617.02" y="173.79" width="5.53" height="5.52" fill="#40bd72"/>
<rect x="621.76" y="173.79" width="5.53" height="5.52" fill="#52c569"/>
<rect x="626.49" y="173.79" width="5.53" height="5.52" fill="#6ccd5a"/>
<rect x="631.22" y="173.79" width="5.53" height="5.52" fill="#c2df23"/>
<rect x="635.95" y="173.79" width="5.53" height="5.52" fill="#fde725"/>
<rect x="640.68" y="173.79" width="5.53" height="5.52" fill="#c2df23"/>
<rect x="645.41" y="173.79" width="5.53" height="5.52" fill="#9bd93c"/>
<rect x="650.14" y="173.79" width="5.53" height="5.52" fill="#7ad151"/>
<rect x="654.87" y="173.79" width="4.73" height="5.52" fill="#63cb5f"/>
<rect x="489.30" y="178.51" width="5.53" height="5.52" fill="#3a548c"/>
<rect x="494.03" y="178.51" width="5.53" height="5.52" fill="#3a548c"/>
<rect x="498.76" y="178.51" width="5.53" height="5.52" fill="#3a548c"/>
<rect x="503.49" y="178.51" width="5.53" height="5.52" fill="#3a548c"/>
<rect x="508.22" y="178.51" width="5.53" height="5.52" fill="#3a548c"/>
<rect x="512.95" y="178.51" width="5.53" height="5.52" fill="#3a548c"/>
<rect x="517.68" y="178.51" width="5.53" height="5.52" fill="#423f85"/>
<rect x="522.41" y="178.51" width="5.53" height="5.52" fill="#443b84"/>
<rect x="527.14" y="178.51" width="5.53" height="5.52" fill="#453882"/>
<rect x="531.88" y="178.51" width="5.53" height="5.52" fill="#453581"/>
<rect x="536.61" y="178.51" width="5.53" height="5.52" fill="#46327e"/>
<rect x="541.34" y="178.51" width="5.53" height="5.52" fill="#472f7d"/>
<rect x="546.07" y="178.51" width="5.53" height="5.52" fill="#38598c"/>
<rect x="550.80" y="178.51" width="5.53" height="5.52" fill="#38588c"/>
<rect x="555.53" y="178.51" width="5.53" height="5.52" fill="#39568c"/>
<rect x="560.26" y="178.51" width="5.53" height="5.52" fill="#39558c"/>
<rect x="564.99" y="178.51" width="5.53" height="5.52" fill="#3a548c"/>
<rect x="569.72" y="178.51" width="5.53" height="5.52" fill="#3a538b"/>
<rect x="574.45" y="178.51" width="5.53" height="5.52" fill="#365d8d"/>
<rect x="579.18" y="178.51" width="5.53" height="5.52" fill="#34618d"/>
<rect x="583.91" y="178.51" width="5.53" height="5.52" fill="#32648e"/>
<rect x="588.64" y="178.51" width="5.53" height="5.52" fill="#31688e"/>
<rect x="593.37" y="178.51" width="5.53" height="5.52" fill="#2f6c8e"/>
<rect x="598.10" y="178.51" width="5.53" height="5.52" fill="#2d708e"/>
<rect x="602.83" y="178.51" width="5.53" height="5.52" fill="#1f9e89"/>
<rect x="607.56" y="178.51" width="5.53" height="5.52" fill="#21a685"/>
<rect x="612.29" y="178.51" width="5.53" height="5.52" fill="#28ae80"/>
<rect x="617.02" y="178.51" width="5.53" height="5.52" fill="#32b67a"/>
<rect x="621.76" y="178.51" width="5.53" height="5.52" fill="#40bd72"/>
<rect x="626.49" y="178.51" width="5.53" height="5.52" fill="#52c569"/>
<rect x="631.22" y="178.51" width="5.53" height="5.52" fill="#9bd93c"/>
<rect x="635.95" y="178.51" width="5.53" height="5.52" fill="#c2df23"/>
<rect x="640.68" y="178.51" width="5.53" height="5.52" fill="#fde725"/>
<rect x="645.41" y="178.51" width="5.53" height="5.52" fill="#c2df23"/>
<rect x="650.14" y="178.51" width="5.53" height="5.52" fill="#9bd93c"/>
<rect x="654.87" y="178.51" width="4.73" height="5.52" fill="#7ad151"/>
<rect x="489.30" y="183.23" width="5.53" height="5.52" fill="#3e4989"/>
<rect x="494.03" y="183.23" width="5.53" height="5.52" fill="#3e4989"/>
<rect x="498.76" y="183.23" width="5.53" height="5.52" fill="#3e4989"/>
<rect x="503.49" y="183.23" width="5.53" height="5.52" fill="#3e4989"/>
<rect x="508.22" y="183.23" width="5.53" height="5.52" fill="#3e4989"/>
<rect x="512.95" y="183.23" width="5.53" height="5.52" fill="#3e4989"/>
<rect x="517.68" y="183.23" width="5.53" height="5.52" fill="#472f7d"/>
<rect x="522.41" y="183.23" width="5.53" height="5.52" fill="#472d7b"/>
<rect x="527.14" y="183.23" width="5.53" height="5.52" fill="#482979"/>
<rect x="531.88" y="183.23" width="5.53" height="5.52" fill="#482677"/>
<rect x="536.61" y="183.23" width="5.53" height="5.52" fill="#482374"/>
<rect x="541.34" y="183.23" width="5.53" height="5.52" fill="#482071"/>
<rect x="546.07" y="183.23" width="5.53" height="5.52" fill="#3d4d8a"/>
<rect x="550.80" y="183.23" width="5.53" height="5.52" fill="#3e4c8a"/>
<rect x="555.53" y="183.23" width="5.53" height="5.52" fill="#3e4a89"/>
<rect x="560.26" y="183.23" width="5.53" height="5.52" fill="#3e4989"/>
<rect x="564.99" y="183.23" width="5.53" height="5.52" fill="#3f4889"/>
<rect x="569.72" y="183.23" width="5.53" height="5.52" fill="#3f4788"/>
<rect x="574.45" y="183.23" width="5.53" height="5.52" fill="#3c508b"/>
<rect x="579.18" y="183.23" width="5.53" height="5.52" fill="#3a548c"/>
<rect x="583.91" y="183.23" width="5.53" height="5.52" fill="#38598c"/>
<rect x="588.64" y="183.23" width="5.53" height="5.52" fill="#365d8d"/>
<rect x="593.37" y="183.23" width="5.53" height="5.52" fill="#34618d"/>
<rect x="598.10" y="183.23" width="5.53" height="5.52" fill="#32648e"/>
<rect x="602.83" y="183.23" width="5.53" height="5.52" fill="#1f958b"/>
<rect x="607.56" y="183.23" width="5.53" height="5.52" fill="#1f9e89"/>
<rect x="612.29" y="183.23" width="5.53" height="5.52" fill="#21a685"/>
<rect x="617.02" y="183.23" width="5.53" height="5.52" fill="#28ae80"/>
<rect x="621.76" y="183.23" width="5.53" height="5.52" fill="#32b67a"/>
<rect x="626.49" y="183.23" width="5.53" height="5.52" fill="#40bd72"/>
<rect x="631.22" y="183.23" width="5.53" height="5.52" fill="#7ad151"/>
<rect x="635.95" y="183.23" width="5.53" height="5.52" fill="#9bd93c"/>
<rect x="640.68" y="183.23" width="5.53" height="5.52" fill="#c2df23"/>
<rect x="645.41" y="183.23" width="5.53" height="5.52" fill="#fde725"/>
<rect x="650.14" y="183.23" width="5.53" height="5.52" fill="#c2df23"/>
<rect x="654.87" y="183.23" width="4.73" height="5.52" fill="#9bd93c"/>
<rect x="489.30" y="187.96" width="5.53" height="5.52" fill="#433e85"/>
<rect x="494.03" y="187.96" width="5.53" height="5.52" fill="#433e85"/>
<rect x="498.76" y="187.96" width="5.53" height="5.52" fill="#433e85"/>
<rect x="503.49" y="187.96" width="5.53" height="5.52" fill="#433e85"/>
<rect x="508.22" y="187.96" width="5.53" height="5.52" fill="#433e85"/>
<rect x="512.95" y="187.96" width="5.53" height="5.52" fill="#433e85"/>
<rect x="517.68" y="187.96" width="5.53" height="5.52" fill="#482071"/>
<rect x="522.41" y="187.96" width="5.53" height="5.52" fill="#481c6e"/>
<rect x="527.14" y="187.96" width="5.53" height="5.52" fill="#481a6c"/>
<rect x="531.88" y="187.96" width="5.53" height="5.52" fill="#481668"/>
<rect x="536.61" y="187.96" width="5.53" height="5.52" fill="#471365"/>
<rect x="541.34" y="187.96" width="5.53" height="5.52" fill="#470e61"/>
<rect x="546.07" y="187.96" width="5.53" height="5.52" fill="#424186"/>
<rect x="550.80" y="187.96" width="5.53" height="5.52" fill="#424086"/>
<rect x="555.53" y="187.96" width="5.53" height="5.52" fill="#423f85"/>
<rect x="560.26" y="187.96" width="5.53" height="5.52" fill="#433e85"/>
<rect x="564.99" y="187.96" width="5.53" height="5.52" fill="#433d84"/>
<rect x="569.72" y="187.96" width="5.53" height="5.52" fill="#443b84"/>
<rect x="574.45" y="187.96" width="5.53" height="5.52" fill="#414487"/>
<rect x="579.18" y="187.96" width="5.53" height="5.52" fill="#3f4889"/>
<rect x="583.91" y="187.96" width="5.53" height="5.52" fill="#3e4c8a"/>
<rect x="588.64" y="187.96" width="5.53" height="5.52" fill="#3c508b"/>
<rect x="593.37" y="187.96" width="5.53" height="5.52" fill="#3a548c"/>
<rect x="598.10" y="187.96" width="5.53" height="5.52" fill="#38598c"/>
<rect x="602.83" y="187.96" width="5.53" height="5.52" fill="#228d8d"/>
<rect x="607.56" y="187.96" width="5.53" height="5.52" fill="#1f958b"/>
<rect x="612.29" y="187.96" width="5.53" height="5.52" fill="#1f9e89"/>
<rect x="617.02" y="187.96" width="5.53" height="5.52" fill="#21a685"/>
<rect x="621.76" y="187.96" width="5.53" height="5.52" fill="#28ae80"/>
<rect x="626.49" y="187.96" width="5.53" height="5.52" fill="#32b67a"/>
<rect x="631.22" y="187.96" width="5.53" height="5.52" fill="#63cb5f"/>
<rect x="635.95" y="187.96" width="5.53" height="5.52" fill="#7ad151"/>
<rect x="640.68" y="187.96" width="5.53" height="5.52" fill="#9bd93c"/>
<rect x="645.41" y="187.96" width="5.53" height="5.52" fill="#c2df23"/>
<rect x="650.14" y="187.96" width="5.53" height="5.52" fill="#fde725"/>
<rect x="654.87" y="187.96" width="4.73" height="5.52" fill="#c2df23"/>
<rect x="489.30" y="192.68" width="5.53" height="4.72" fill="#46307e"/>
<rect x="494.03" y="192.68" width="5.53" height="4.72" fill="#46307e"/>
<rect x="498.76" y="192.68" width="5.53" height="4.72" fill="#46307e"/>
<rect x="503.49" y="192.68" width="5.53" height="4.72" fill="#46307e"/>
<rect x="508.22" y="192.68" width="5.53" height="4.72" fill="#46307e"/>
<rect x="512.95" y="192.68" width="5.53" height="4.72" fill="#46307e"/>
<rect x="517.68" y="192.68" width="5.53" height="4.72" fill="#471063"/>
<rect x="522.41" y="192.68" width="5.53" height="4.72" fill="#460b5e"/>
<rect x="527.14" y="192.68" width="5.53" height="4.72" fill="#46085c"/>
<rect x="531.88" y="192.68" width="5.53" height="4.72" fill="#450457"/>
<rect x="536.61" y="192.68" width="5.53" height="4.72" fill="#440154"/>
<rect x="541.34" y="192.68" width="5.53" height="4.72" fill="#440154"/>
<rect x="546.07" y="192.68" width="5.53" height="4.72" fill="#463480"/>
<rect x="550.80" y="192.68" width="5.53" height="4.72" fill="#46337f"/>
<rect x="555.53" y="192.68" width="5.53" height="4.72" fill="#46327e"/>
<rect x="560.26" y="192.68" width="5.53" height="4.72" fill="#46307e"/>
<rect x="564.99" y="192.68" width="5.53" height="4.72" fill="#472f7d"/>
<rect x="569.72" y="192.68" width="5.53" height="4.72" fill="#472e7c"/>
<rect x="574.45" y="192.68" width="5.53" height="4.72" fill="#453581"/>
<rect x="579.18" y="192.68" width="5.53" height="4.72" fill="#443a83"/>
<rect x="583.91" y="192.68" width="5.53" height="4.72" fill="#423f85"/>
<rect x="588.64" y="192.68" width="5.53" height="4.72" fill="#414487"/>
<rect x="593.37" y="192.68" width="5.53" height="4.72" fill="#3f4889"/>
<rect x="598.10" y="192.68" width="5.53" height="4.72" fill="#3e4c8a"/>
<rect x="602.83" y="192.68" width="5.53" height="4.72" fill="#25848e"/>
<rect x="607.56" y="192.68" width="5.53" height="4.72" fill="#228d8d"/>
<rect x="612.29" y="192.68" width="5.53" height="4.72" fill="#1f958b"/>
<rect x="617.02" y="192.68" width="5.53" height="4.72" fill="#1f9e89"/>
<rect x="621.76" y="192.68" width="5.53" height="4.72" fill="#21a685"/>
<rect x="626.49" y="192.68" width="5.53" height="4.72" fill="#28ae80"/>
<rect x="631.22" y="192.68" width="5.53" height="4.72" fill="#4ec36b"/>
<rect x="635.95" y="192.68" width="5.53" height="4.72" fill="#63cb5f"/>
<rect x="640.68" y="192.68" width="5.53" height="4.72" fill="#7ad151"/>
<rect x="645.41" y="192.68" width="5.53" height="4.72" fill="#9bd93c"/>
<rect x="650.14" y="192.68" width="5.53" height="4.72" fill="#c2df23"/>
<rect x="654.87" y="192.68" width="4.73" height="4.72" fill="#fde725"/>
<rect x="489.3" y="27.4" width="170.3" height="170.0" fill="none" stroke="#777" stroke-width="0.5"/>
<path d="M515.32,27.40v1.7M515.32,197.40v-1.7M489.30,53.37h1.7M659.60,53.37h-1.7M543.70,27.40v1.7M543.70,197.40v-1.7M489.30,81.71h1.7M659.60,81.71h-1.7M572.08,27.40v1.7M572.08,197.40v-1.7M489.30,110.04h1.7M659.60,110.04h-1.7M600.47,27.40v1.7M600.47,197.40v-1.7M489.30,138.37h1.7M659.60,138.37h-1.7M628.85,27.40v1.7M628.85,197.40v-1.7M489.30,166.71h1.7M659.60,166.71h-1.7" stroke="#333" stroke-width="0.6" fill="none"/>
<defs><linearGradient id="vg2" x1="0" y1="0" x2="0" y2="1"><stop offset="0.0000" stop-color="#440154"/><stop offset="0.0435" stop-color="#471164"/><stop offset="0.0870" stop-color="#482071"/><stop offset="0.1304" stop-color="#472e7c"/><stop offset="0.1739" stop-color="#443b84"/><stop offset="0.2174" stop-color="#3f4889"/><stop offset="0.2609" stop-color="#3a548c"/><stop offset="0.3043" stop-color="#34608d"/><stop offset="0.3478" stop-color="#2f6c8e"/><stop offset="0.3913" stop-color="#2a768e"/><stop offset="0.4348" stop-color="#26818e"/><stop offset="0.4783" stop-color="#228b8d"/><stop offset="0.5217" stop-color="#1f958b"/><stop offset="0.5652" stop-color="#1fa088"/><stop offset="0.6087" stop-color="#24aa83"/><stop offset="0.6522" stop-color="#2fb47c"/><stop offset="0.6957" stop-color="#42be71"/><stop offset="0.7391" stop-color="#58c765"/><stop offset="0.7826" stop-color="#70cf57"/><stop offset="0.8261" stop-color="#8bd646"/><stop offset="0.8696" stop-color="#a8db34"/><stop offset="0.9130" stop-color="#c5e021"/><stop offset="0.9565" stop-color="#e2e418"/><stop offset="1.0000" stop-color="#fde725"/></linearGradient></defs><rect x="666.00" y="27.30" width="8.70" height="170.00" fill="url(#vg2)" stroke="#bbb" stroke-width="0.4"/>
<text x="574.6" y="11.5" font-size="9" text-anchor="middle" textLength="59.1" lengthAdjust="spacingAndGlyphs" fill="#000" >Time(arb. unit)</text>
<text x="515.32" y="22.9" font-size="8.2" text-anchor="middle" fill="#000" >6</text>
<text x="486.5" y="56.42" font-size="8.2" text-anchor="end" fill="#000" >6</text>
<text x="543.70" y="22.9" font-size="8.2" text-anchor="middle" fill="#000" >12</text>
<text x="486.5" y="84.80" font-size="8.2" text-anchor="end" fill="#000" >12</text>
<text x="572.08" y="22.9" font-size="8.2" text-anchor="middle" fill="#000" >18</text>
<text x="486.5" y="113.18" font-size="8.2" text-anchor="end" fill="#000" >18</text>
<text x="600.47" y="22.9" font-size="8.2" text-anchor="middle" fill="#000" >24</text>
<text x="486.5" y="141.57" font-size="8.2" text-anchor="end" fill="#000" >24</text>
<text x="628.85" y="22.9" font-size="8.2" text-anchor="middle" fill="#000" >30</text>
<text x="486.5" y="169.95" font-size="8.2" text-anchor="end" fill="#000" >30</text>
<text x="657.23" y="22.9" font-size="8.2" text-anchor="middle" fill="#000" >36</text>
<text x="486.5" y="198.33" font-size="8.2" text-anchor="end" fill="#000" >36</text>
<text transform="translate(472.5,112.2) rotate(-90)" x="0" y="0" font-size="9" text-anchor="middle" textLength="59.3" lengthAdjust="spacingAndGlyphs">Time(arb. unit)</text>
<text transform="translate(684.4,52.1) rotate(-90)" x="0" y="0" font-size="8" text-anchor="middle" textLength="50" lengthAdjust="spacingAndGlyphs" fill="#222">More dissimilar</text>
<text transform="translate(684.4,178.5) rotate(-90)" x="0" y="0" font-size="8" text-anchor="middle" textLength="41.3" lengthAdjust="spacingAndGlyphs" fill="#222">More similar</text>
<line x1="682" y1="85" x2="682" y2="151" stroke="#333" stroke-width="0.7"/>
<path d="M680.2,86.6 L682,82.4 L683.8,86.6 L682,85.6 Z" fill="#111"/>
<path d="M680.2,149.2 L682,153.4 L683.8,149.2 L682,150.2 Z" fill="#111"/>
<text x="36.3" y="247.3" font-size="13.5" fill="#000" >d.</text>
<rect x="75" y="332.5" width="538.5" height="12.5" fill="#595959"/>
<path d="M613.5,326.4 L625.3,338.7 L613.5,351.4 Z" fill="#595959"/>
<line x1="70.0" y1="247.6" x2="70.0" y2="326" stroke="#000" stroke-width="1.8"/>
<line x1="200.5" y1="278.4" x2="200.5" y2="326" stroke="#000" stroke-width="1.5"/>
<line x1="242.8" y1="265.8" x2="242.8" y2="326" stroke="#000" stroke-width="1.5"/>
<line x1="357.3" y1="245.2" x2="359.3" y2="326" stroke="#000" stroke-width="1.5"/>
<line x1="70.6" y1="256.4" x2="354" y2="256.4" stroke="#999" stroke-width="1.1"/>
<path d="M75.3,253.0 L71,256.4 L75.3,259.8" fill="none" stroke="#888" stroke-width="0.8"/>
<path d="M352.5,254.2 L356.6,256.4 L352.5,258.6 Z" fill="#000"/>
<line x1="74" y1="272.5" x2="238" y2="272.5" stroke="#222" stroke-width="0.9" stroke-dasharray="3,1.3,1,1.2"/>
<path d="M75.3,270.2 L70.8,272.5 L75.3,274.8 Z" fill="#000"/>
<path d="M237.8,270.2 L242.2,272.5 L237.8,274.8 Z" fill="#000"/>
<line x1="74" y1="293.1" x2="196" y2="293.1" stroke="#b2b2b2" stroke-width="1.5"/>
<path d="M75.6,290.8 L71,293.1 L75.6,295.4 Z" fill="#000"/>
<path d="M195,290.8 L199.5,293.1 L195,295.4 Z" fill="#000"/>
<text x="211" y="250.6" font-size="13" textLength="14.5" lengthAdjust="spacingAndGlyphs" fill="#000" >d2</text>
<text x="145.6" y="271.4" font-size="13" textLength="18.7" lengthAdjust="spacingAndGlyphs" fill="#000" >d2&#8217;</text>
<text x="131.6" y="289.6" font-size="13" textLength="14" lengthAdjust="spacingAndGlyphs" fill="#000" >d1</text>
<text x="381.2" y="285.1" font-size="16.3" textLength="182.6" lengthAdjust="spacingAndGlyphs" fill="#000" >Memory Index (MI) = d2-d1</text>
<text x="564.7" y="324.6" font-size="18.5" textLength="33.9" lengthAdjust="spacingAndGlyphs" fill="#000" >time</text>
<ellipse cx="70.3" cy="338.8" rx="12.6" ry="13.7" fill="#858585" stroke="#333" stroke-width="0.8"/>
<ellipse cx="200.1" cy="338.9" rx="12.7" ry="13.8" fill="#0b3cf2"/>
<ellipse cx="243" cy="338.9" rx="12.5" ry="13.8" fill="#cd2d0a" fill-opacity="0.6"/>
<ellipse cx="359.4" cy="339" rx="12.7" ry="13.8" fill="#c00000"/>
<text x="39.6" y="376.6" font-size="16.5" textLength="90.0" lengthAdjust="spacingAndGlyphs" fill="#000" >Starting point</text>
<text x="193.6" y="376.5" font-size="15" textLength="10.3" lengthAdjust="spacingAndGlyphs" fill="#000" >A</text>
<text x="236.6" y="376.5" font-size="15" textLength="12.6" lengthAdjust="spacingAndGlyphs" fill="#000" >B&#8217;</text>
<text x="355.6" y="376.7" font-size="14" textLength="7.3" lengthAdjust="spacingAndGlyphs" fill="#000" >B</text>
</svg>
</body></html>
